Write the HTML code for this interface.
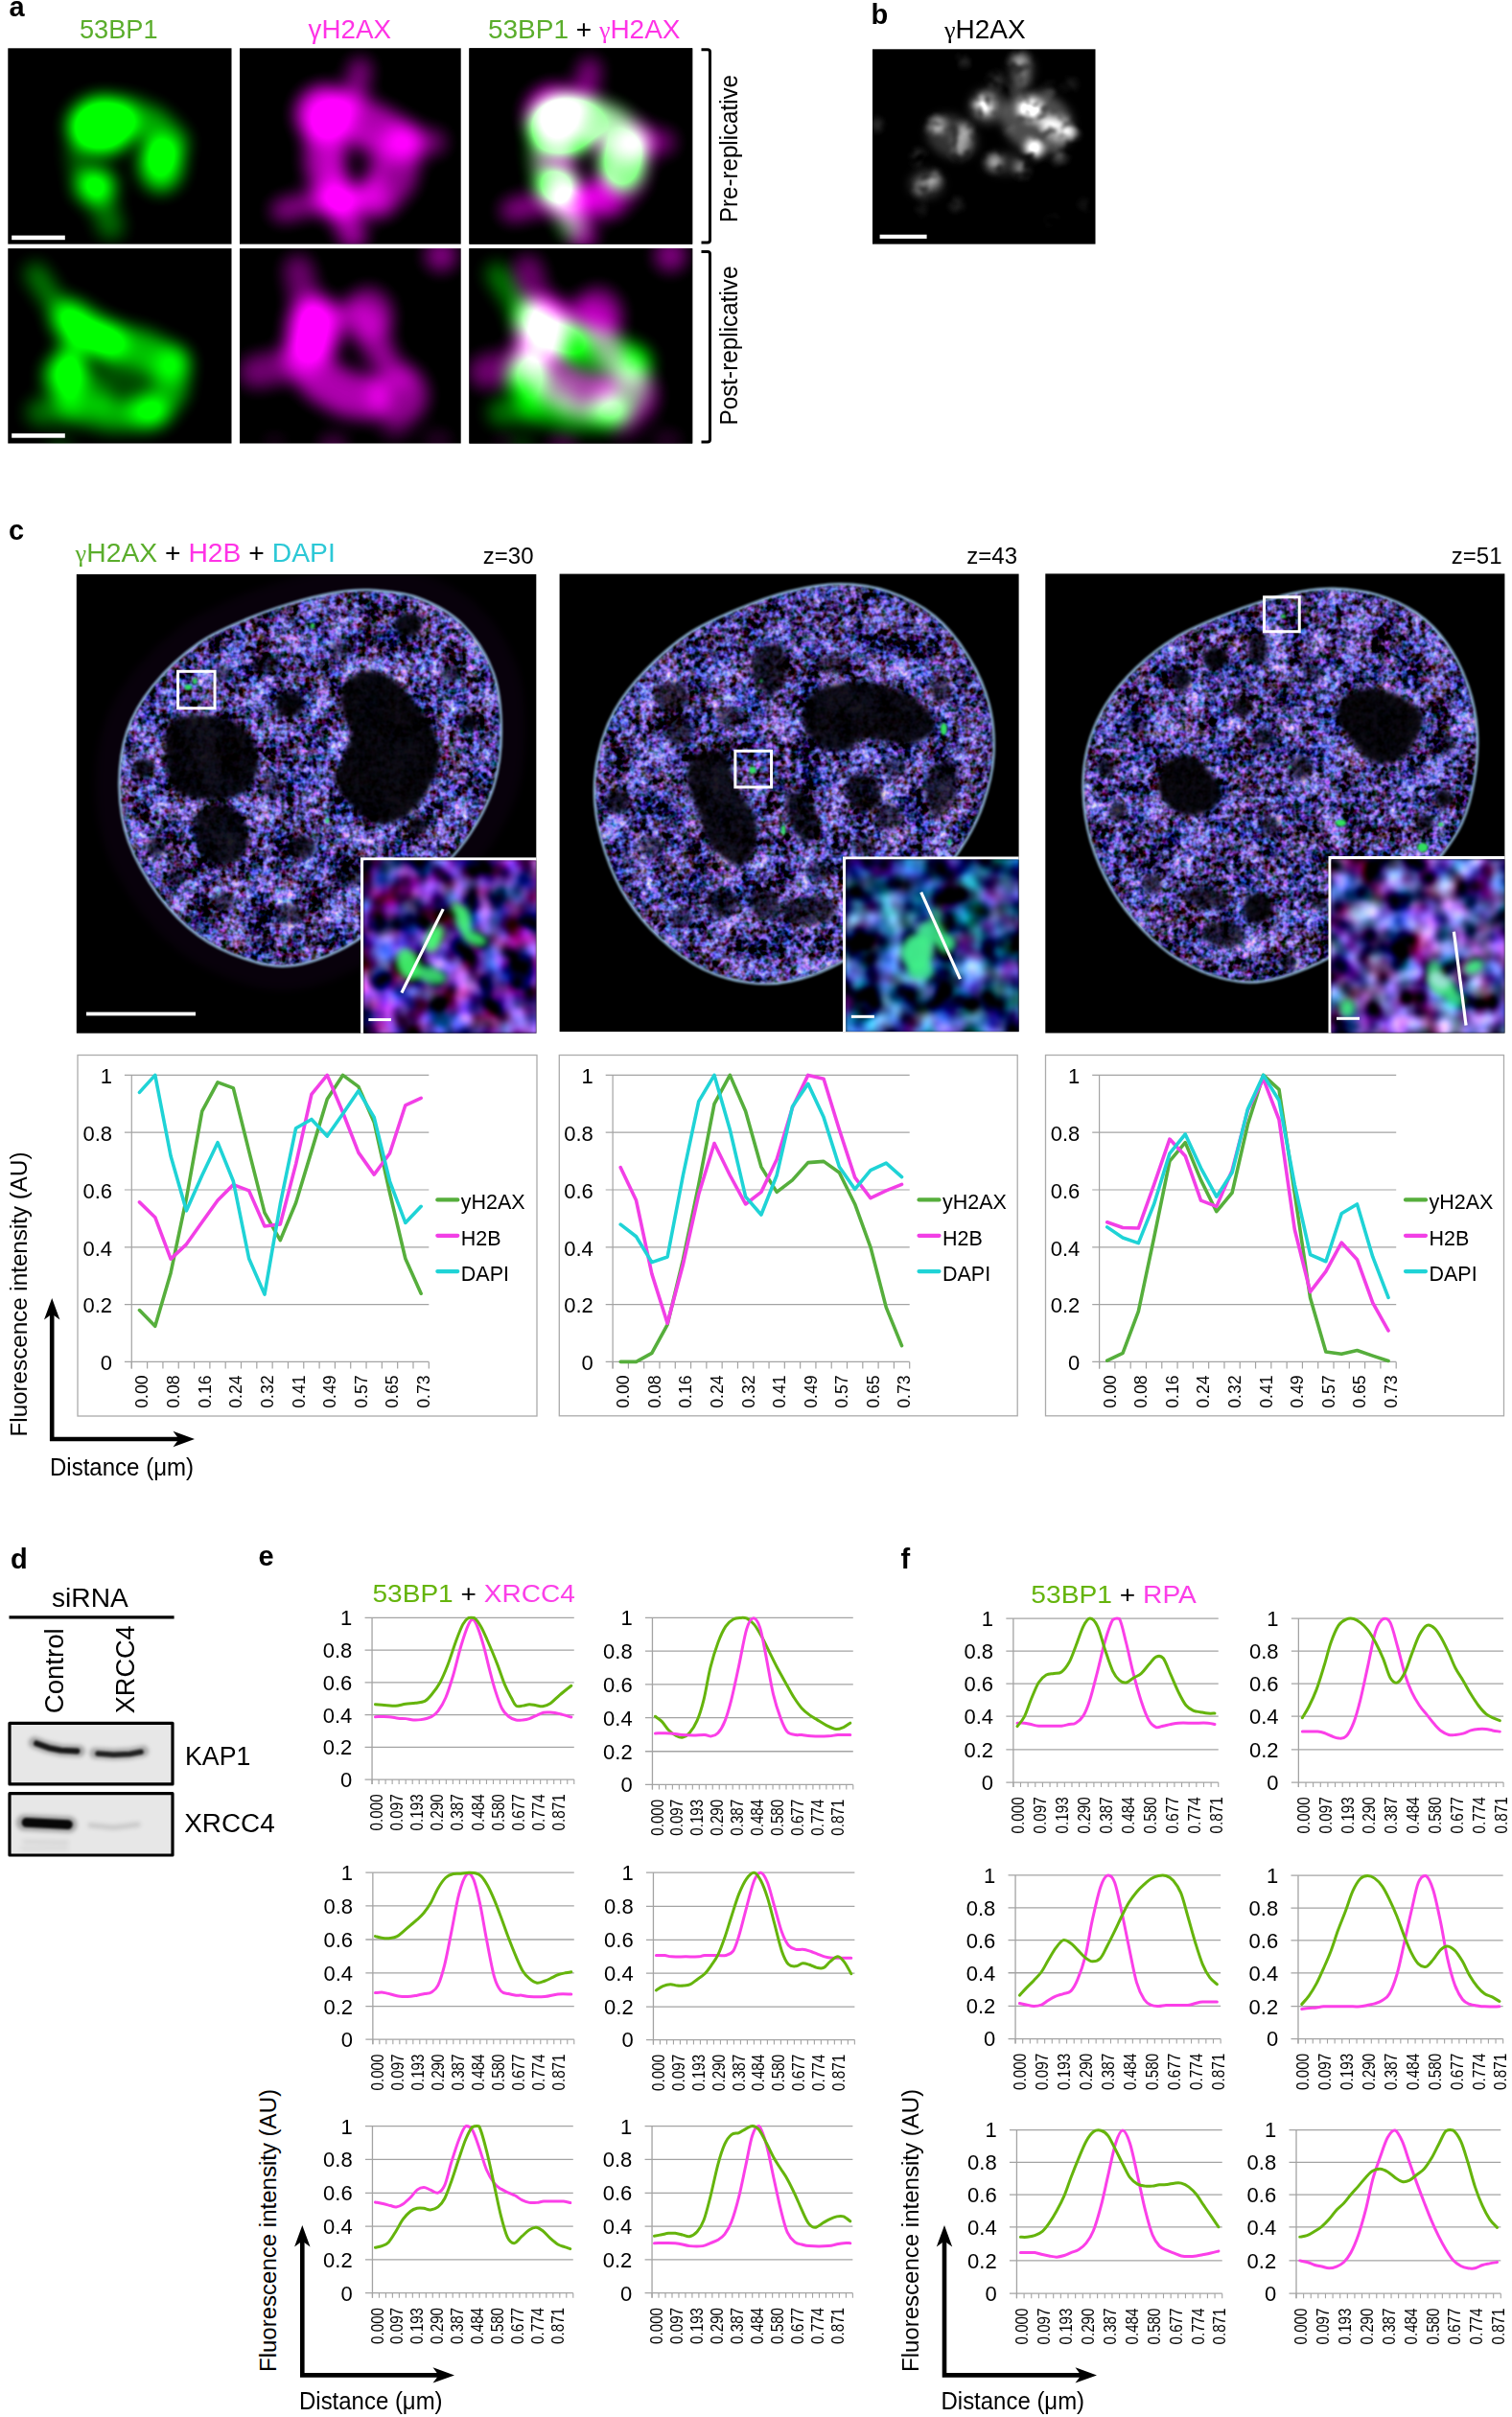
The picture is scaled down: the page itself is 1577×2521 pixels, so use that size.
<!DOCTYPE html>
<html lang="en"><head><meta charset="utf-8"><title>Figure</title>
<style>html,body{margin:0;padding:0;background:#fff}svg{display:block}text{font-family:"Liberation Sans", sans-serif}</style></head><body>
<svg width="1577" height="2521" viewBox="0 0 1577 2521">
<rect width="1577" height="2521" fill="#fff"/>
<defs>
<filter id="blob" x="-45%" y="-45%" width="190%" height="190%" color-interpolation-filters="sRGB"><feGaussianBlur stdDeviation="9"/><feComponentTransfer><feFuncA type="linear" slope="1.5" intercept="-0.01"/></feComponentTransfer></filter>
<filter id="blobg" x="-45%" y="-45%" width="190%" height="190%" color-interpolation-filters="sRGB"><feGaussianBlur stdDeviation="9"/><feComponentTransfer><feFuncA type="linear" slope="2.1" intercept="-0.02"/></feComponentTransfer></filter>
<filter id="blobm" x="-45%" y="-45%" width="190%" height="190%" color-interpolation-filters="sRGB"><feGaussianBlur stdDeviation="9"/><feComponentTransfer><feFuncA type="linear" slope="1.28" intercept="-0.02"/></feComponentTransfer></filter>
<filter id="blobb" x="-30%" y="-30%" width="160%" height="160%" color-interpolation-filters="sRGB"><feGaussianBlur stdDeviation="4.6" result="a"/><feTurbulence type="fractalNoise" baseFrequency="0.075" numOctaves="2" seed="11" result="n"/><feColorMatrix in="n" type="matrix" values="0 0 0 0 1  0 0 0 0 1  0 0 0 0 1  3.4 0 0 0 -0.95" result="n2"/><feComposite in="a" in2="n2" operator="in" result="b"/><feGaussianBlur in="b" stdDeviation="1.4"/><feComponentTransfer><feFuncA type="linear" slope="1.7" intercept="-0.01"/></feComponentTransfer></filter>
<filter id="soft2" x="-20%" y="-20%" width="140%" height="140%"><feGaussianBlur stdDeviation="1.2"/></filter>
<filter id="soft4" x="-30%" y="-30%" width="160%" height="160%"><feGaussianBlur stdDeviation="3.6"/></filter>
<filter id="soft8" x="-30%" y="-30%" width="160%" height="160%"><feGaussianBlur stdDeviation="5"/></filter>
<clipPath id="cp_a1"><rect x="8.3" y="50.3" width="233.2" height="204.3"/></clipPath>
<clipPath id="cp_a2"><rect x="250" y="50.3" width="230.7" height="204.3"/></clipPath>
<clipPath id="cp_a3"><rect x="489.4" y="50.3" width="232.8" height="204.3"/></clipPath>
<clipPath id="cp_a4"><rect x="8.3" y="259.1" width="233.2" height="203.4"/></clipPath>
<clipPath id="cp_a5"><rect x="250" y="259.1" width="230.7" height="203.4"/></clipPath>
<clipPath id="cp_a6"><rect x="489.4" y="259.1" width="232.8" height="203.4"/></clipPath>
<clipPath id="cp_b"><rect x="910" y="51.3" width="232.5" height="203"/></clipPath>
<filter id="blotA" x="11.6" y="1798.9" width="166.8" height="136" filterUnits="userSpaceOnUse"><feGaussianBlur stdDeviation="2.2"/></filter>
<filter id="blotB" x="11.6" y="1798.9" width="166.8" height="136" filterUnits="userSpaceOnUse"><feGaussianBlur stdDeviation="1.2"/></filter>
<clipPath id="cp_c0"><rect x="79.8" y="599" width="479.5" height="478.7"/></clipPath>
<clipPath id="cp_i0"><rect x="376" y="894.4" width="183.3" height="183.3"/></clipPath>
<filter id="nuc0" x="79.8" y="599" width="479.5" height="478.7" filterUnits="userSpaceOnUse" color-interpolation-filters="sRGB"><feTurbulence type="fractalNoise" baseFrequency="0.16" numOctaves="2" seed="3" result="tf"/><feTurbulence type="fractalNoise" baseFrequency="0.035" numOctaves="2" seed="8" result="tc"/><feColorMatrix in="tf" type="matrix" values="1 0 0 0 0 0 1 0 0 0 0 0 1 0 0 0 0 0 0 1" result="tf1"/><feColorMatrix in="tc" type="matrix" values="1 0.7 0 0 -0.35  1 -0.7 0 0 0.35  1 0 0 0 0  0 0 0 0 1" result="tc1"/><feComposite in="tf1" in2="tc1" operator="arithmetic" k1="0" k2="1" k3="0.6" k4="-0.3" result="t"/><feColorMatrix in="t" type="matrix" values="1.1 0.6 0 0 -0.55  1.0 0 0.45 0 -0.465  2.2 0 0 0 -0.54  0 0 0 0 1" result="c"/><feGaussianBlur in="SourceGraphic" stdDeviation="2.5" result="m"/><feComposite in="c" in2="m" operator="arithmetic" k1="1.0" k2="0" k3="0" k4="0" result="p"/><feComposite in="p" in2="SourceAlpha" operator="in"/></filter>
<filter id="ins0" x="379.2" y="897.6" width="180.1" height="180.1" filterUnits="userSpaceOnUse" color-interpolation-filters="sRGB"><feTurbulence type="fractalNoise" baseFrequency="0.036" numOctaves="2" seed="23" result="t"/><feColorMatrix in="t" type="matrix" values="1.5 1.1 0 0 -1.03  1.2 0 0.6 0 -0.8  2.2 0 0 0 -0.6  0 0 0 0 1"/><feGaussianBlur stdDeviation="1.6"/></filter>
<clipPath id="cp_c1"><rect x="583.6" y="598.6" width="479" height="477.5"/></clipPath>
<clipPath id="cp_i1"><rect x="879" y="893.5" width="183.6" height="182.6"/></clipPath>
<filter id="nuc1" x="583.6" y="598.6" width="479" height="477.5" filterUnits="userSpaceOnUse" color-interpolation-filters="sRGB"><feTurbulence type="fractalNoise" baseFrequency="0.16" numOctaves="2" seed="8" result="tf"/><feTurbulence type="fractalNoise" baseFrequency="0.035" numOctaves="2" seed="13" result="tc"/><feColorMatrix in="tf" type="matrix" values="1 0 0 0 0 0 1 0 0 0 0 0 1 0 0 0 0 0 0 1" result="tf1"/><feColorMatrix in="tc" type="matrix" values="1 0.7 0 0 -0.35  1 -0.7 0 0 0.35  1 0 0 0 0  0 0 0 0 1" result="tc1"/><feComposite in="tf1" in2="tc1" operator="arithmetic" k1="0" k2="1" k3="0.6" k4="-0.3" result="t"/><feColorMatrix in="t" type="matrix" values="1.1 0.6 0 0 -0.55  1.0 0 0.45 0 -0.465  2.2 0 0 0 -0.54  0 0 0 0 1" result="c"/><feGaussianBlur in="SourceGraphic" stdDeviation="2.5" result="m"/><feComposite in="c" in2="m" operator="arithmetic" k1="1.0" k2="0" k3="0" k4="0" result="p"/><feComposite in="p" in2="SourceAlpha" operator="in"/></filter>
<filter id="ins1" x="882.2" y="896.7" width="180.4" height="179.4" filterUnits="userSpaceOnUse" color-interpolation-filters="sRGB"><feTurbulence type="fractalNoise" baseFrequency="0.036" numOctaves="2" seed="28" result="t"/><feColorMatrix in="t" type="matrix" values="1.1 0.7 0 0 -0.8  1.6 0 0.8 0 -1.0  2.1 0 0 0 -0.6  0 0 0 0 1"/><feGaussianBlur stdDeviation="1.6"/></filter>
<clipPath id="cp_c2"><rect x="1090.3" y="598.4" width="479.1" height="479.1"/></clipPath>
<clipPath id="cp_i2"><rect x="1385.5" y="893" width="183.9" height="184.5"/></clipPath>
<filter id="nuc2" x="1090.3" y="598.4" width="479.1" height="479.1" filterUnits="userSpaceOnUse" color-interpolation-filters="sRGB"><feTurbulence type="fractalNoise" baseFrequency="0.16" numOctaves="2" seed="14" result="tf"/><feTurbulence type="fractalNoise" baseFrequency="0.035" numOctaves="2" seed="19" result="tc"/><feColorMatrix in="tf" type="matrix" values="1 0 0 0 0 0 1 0 0 0 0 0 1 0 0 0 0 0 0 1" result="tf1"/><feColorMatrix in="tc" type="matrix" values="1 0.7 0 0 -0.35  1 -0.7 0 0 0.35  1 0 0 0 0  0 0 0 0 1" result="tc1"/><feComposite in="tf1" in2="tc1" operator="arithmetic" k1="0" k2="1" k3="0.6" k4="-0.3" result="t"/><feColorMatrix in="t" type="matrix" values="1.1 0.6 0 0 -0.55  1.0 0 0.45 0 -0.465  2.2 0 0 0 -0.54  0 0 0 0 1" result="c"/><feGaussianBlur in="SourceGraphic" stdDeviation="2.5" result="m"/><feComposite in="c" in2="m" operator="arithmetic" k1="1.0" k2="0" k3="0" k4="0" result="p"/><feComposite in="p" in2="SourceAlpha" operator="in"/></filter>
<filter id="ins2" x="1388.7" y="896.2" width="180.7" height="181.3" filterUnits="userSpaceOnUse" color-interpolation-filters="sRGB"><feTurbulence type="fractalNoise" baseFrequency="0.036" numOctaves="2" seed="34" result="t"/><feColorMatrix in="t" type="matrix" values="1.7 0.9 0 0 -0.98  1.7 0 0.7 0 -0.95  2.4 0 0 0 -0.62  0 0 0 0 1"/><feGaussianBlur stdDeviation="1.6"/></filter>
</defs>
<rect x="8.3" y="50.3" width="233.2" height="204.3" fill="#000"/>
<rect x="250" y="50.3" width="230.7" height="204.3" fill="#000"/>
<rect x="489.4" y="50.3" width="232.8" height="204.3" fill="#000"/>
<rect x="8.3" y="259.1" width="233.2" height="203.4" fill="#000"/>
<rect x="250" y="259.1" width="230.7" height="203.4" fill="#000"/>
<rect x="489.4" y="259.1" width="232.8" height="203.4" fill="#000"/>
<g clip-path="url(#cp_a1)"><g filter="url(#blob)" fill="#00ff00" stroke="#00ff00"><ellipse cx="106.65" cy="130.94" rx="35.55" ry="29.76" opacity="0.8" transform="rotate(-8 106.65 130.94)"/><ellipse cx="105.82" cy="130.94" rx="24.8" ry="19.84" opacity="0.9" transform="rotate(-8 105.82 130.94)"/><path d="M132.28 119.37 L158.73 129.29 L178.57 149.13" fill="none" stroke-width="34.72" stroke-linecap="round" stroke-linejoin="round" opacity="0.45"/><ellipse cx="167.82" cy="170.62" rx="22.32" ry="28.94" opacity="0.62"/><ellipse cx="167" cy="165.66" rx="12.4" ry="15.71" opacity="0.8"/><ellipse cx="99.21" cy="193.77" rx="21.49" ry="19.01" opacity="0.6"/><ellipse cx="99.21" cy="193.77" rx="10.75" ry="9.92" opacity="0.8"/><path d="M105.82 210.3 L115.74 236.76" fill="none" stroke-width="26.46" stroke-linecap="round" stroke-linejoin="round" opacity="0.3"/><path d="M77.71 159.05 L82.67 180.54" fill="none" stroke-width="18.19" stroke-linecap="round" stroke-linejoin="round" opacity="0.25"/></g></g>
<g clip-path="url(#cp_a2)"><g filter="url(#blobm)" fill="#ff00ff" stroke="#ff00ff"><ellipse cx="339.25" cy="119.37" rx="30.59" ry="29.76" opacity="0.7"/><ellipse cx="339.25" cy="119.37" rx="16.53" ry="17.36" opacity="0.6"/><path d="M360.74 119.37 L390.5 130.94 L418.61 147.47" fill="none" stroke-width="44.64" stroke-linecap="round" stroke-linejoin="round" opacity="0.55"/><path d="M418.61 147.47 L452.51 148.3" fill="none" stroke-width="26.46" stroke-linecap="round" stroke-linejoin="round" opacity="0.36"/><path d="M368.18 106.14 L375.62 72.24" fill="none" stroke-width="24.8" stroke-linecap="round" stroke-linejoin="round" opacity="0.4"/><path d="M418.61 152.43 L412 185.5 L393.81 205.34" fill="none" stroke-width="44.64" stroke-linecap="round" stroke-linejoin="round" opacity="0.46"/><path d="M338.42 139.21 L337.59 172.28 L349.17 203.69" fill="none" stroke-width="39.68" stroke-linecap="round" stroke-linejoin="round" opacity="0.55"/><ellipse cx="350.82" cy="208.65" rx="21.49" ry="19.84" opacity="0.5"/><path d="M342.55 207 L294.6 219.4" fill="none" stroke-width="24.8" stroke-linecap="round" stroke-linejoin="round" opacity="0.42"/><path d="M357.43 218.57 L368.18 246.68" fill="none" stroke-width="28.11" stroke-linecap="round" stroke-linejoin="round" opacity="0.52"/><path d="M360.74 211.96 L392.16 207" fill="none" stroke-width="31.42" stroke-linecap="round" stroke-linejoin="round" opacity="0.4"/><ellipse cx="370.66" cy="174.76" rx="22.32" ry="28.94" fill="none" stroke-width="18.19" opacity="0.3"/></g></g>
<g style="isolation:isolate">
<rect x="489.4" y="50.3" width="232.8" height="204.3" fill="#000"/>
<g clip-path="url(#cp_a3)" style="mix-blend-mode:screen"><g filter="url(#blobg)" fill="#00ff00" stroke="#00ff00"><ellipse cx="587.75" cy="130.94" rx="35.55" ry="29.76" opacity="0.8" transform="rotate(-8 587.75 130.94)"/><ellipse cx="586.92" cy="130.94" rx="24.8" ry="19.84" opacity="0.9" transform="rotate(-8 586.92 130.94)"/><path d="M613.38 119.37 L639.83 129.29 L659.67 149.13" fill="none" stroke-width="34.72" stroke-linecap="round" stroke-linejoin="round" opacity="0.45"/><ellipse cx="648.92" cy="170.62" rx="22.32" ry="28.94" opacity="0.62"/><ellipse cx="648.1" cy="165.66" rx="12.4" ry="15.71" opacity="0.8"/><ellipse cx="580.31" cy="193.77" rx="21.49" ry="19.01" opacity="0.6"/><ellipse cx="580.31" cy="193.77" rx="10.75" ry="9.92" opacity="0.8"/><path d="M586.92 210.3 L596.84 236.76" fill="none" stroke-width="26.46" stroke-linecap="round" stroke-linejoin="round" opacity="0.3"/><path d="M558.81 159.05 L563.77 180.54" fill="none" stroke-width="18.19" stroke-linecap="round" stroke-linejoin="round" opacity="0.25"/></g></g>
<g clip-path="url(#cp_a3)" style="mix-blend-mode:screen"><g filter="url(#blobm)" fill="#ff00ff" stroke="#ff00ff"><ellipse cx="578.65" cy="119.37" rx="30.59" ry="29.76" opacity="0.7"/><ellipse cx="578.65" cy="119.37" rx="16.53" ry="17.36" opacity="0.6"/><path d="M600.14 119.37 L629.9 130.94 L658.01 147.47" fill="none" stroke-width="44.64" stroke-linecap="round" stroke-linejoin="round" opacity="0.55"/><path d="M658.01 147.47 L691.91 148.3" fill="none" stroke-width="26.46" stroke-linecap="round" stroke-linejoin="round" opacity="0.36"/><path d="M607.58 106.14 L615.02 72.24" fill="none" stroke-width="24.8" stroke-linecap="round" stroke-linejoin="round" opacity="0.4"/><path d="M658.01 152.43 L651.4 185.5 L633.21 205.34" fill="none" stroke-width="44.64" stroke-linecap="round" stroke-linejoin="round" opacity="0.46"/><path d="M577.82 139.21 L576.99 172.28 L588.57 203.69" fill="none" stroke-width="39.68" stroke-linecap="round" stroke-linejoin="round" opacity="0.55"/><ellipse cx="590.22" cy="208.65" rx="21.49" ry="19.84" opacity="0.5"/><path d="M581.95 207 L534 219.4" fill="none" stroke-width="24.8" stroke-linecap="round" stroke-linejoin="round" opacity="0.42"/><path d="M596.83 218.57 L607.58 246.68" fill="none" stroke-width="28.11" stroke-linecap="round" stroke-linejoin="round" opacity="0.52"/><path d="M600.14 211.96 L631.56 207" fill="none" stroke-width="31.42" stroke-linecap="round" stroke-linejoin="round" opacity="0.4"/><ellipse cx="610.06" cy="174.76" rx="22.32" ry="28.94" fill="none" stroke-width="18.19" opacity="0.3"/></g></g>
</g>
<g clip-path="url(#cp_a4)"><g filter="url(#blob)" fill="#00ff00" stroke="#00ff00"><path d="M37.2 285.55 L54.56 312.83 L72.75 332.67" fill="none" stroke-width="23.15" stroke-linecap="round" stroke-linejoin="round" opacity="0.32"/><path d="M72.75 332.67 L92.59 345.9 L112.43 356.65" fill="none" stroke-width="39.68" stroke-linecap="round" stroke-linejoin="round" opacity="0.65"/><path d="M77.71 335.98 L105.82 352.51" fill="none" stroke-width="18.19" stroke-linecap="round" stroke-linejoin="round" opacity="0.7"/><path d="M112.43 355.82 L148.81 364.09 L178.57 378.97" fill="none" stroke-width="38.03" stroke-linecap="round" stroke-linejoin="round" opacity="0.5"/><path d="M180.22 378.97 L178.57 407.08 L163.69 426.92" fill="none" stroke-width="33.07" stroke-linecap="round" stroke-linejoin="round" opacity="0.46"/><ellipse cx="153.77" cy="428.57" rx="21.49" ry="16.53" opacity="0.45"/><path d="M153.77 431.05 L115.74 432.71 L74.4 422.78" fill="none" stroke-width="33.07" stroke-linecap="round" stroke-linejoin="round" opacity="0.46"/><path d="M74.4 422.78 L41.34 430.22" fill="none" stroke-width="28.11" stroke-linecap="round" stroke-linejoin="round" opacity="0.3"/><ellipse cx="69.44" cy="392.2" rx="23.15" ry="23.97" opacity="0.6"/><ellipse cx="69.44" cy="392.2" rx="11.57" ry="12.4" opacity="0.7"/><path d="M77.71 357.47 L72.75 378.97" fill="none" stroke-width="28.11" stroke-linecap="round" stroke-linejoin="round" opacity="0.48"/><path d="M94.25 398.81 L107.47 417" fill="none" stroke-width="24.8" stroke-linecap="round" stroke-linejoin="round" opacity="0.32"/><ellipse cx="137.24" cy="392.2" rx="31.42" ry="18.19" opacity="0.2"/><ellipse cx="62.83" cy="463.29" rx="11.57" ry="5.79" opacity="0.25"/></g></g>
<g clip-path="url(#cp_a5)"><g filter="url(#blobm)" fill="#ff00ff" stroke="#ff00ff"><ellipse cx="327.67" cy="343.42" rx="28.11" ry="34.72" opacity="0.75" transform="rotate(10 327.67 343.42)"/><ellipse cx="326.02" cy="342.59" rx="13.23" ry="21.49" opacity="0.8" transform="rotate(10 326.02 342.59)"/><path d="M319.4 319.44 L311.14 281.42" fill="none" stroke-width="31.42" stroke-linecap="round" stroke-linejoin="round" opacity="0.34"/><ellipse cx="383.89" cy="329.37" rx="25.63" ry="28.94" opacity="0.42"/><path d="M385.54 335.98 L393.81 365.74" fill="none" stroke-width="33.07" stroke-linecap="round" stroke-linejoin="round" opacity="0.36"/><path d="M350.82 327.71 L370.66 322.75" fill="none" stroke-width="21.49" stroke-linecap="round" stroke-linejoin="round" opacity="0.28"/><path d="M317.75 377.31 L266.49 388.06" fill="none" stroke-width="34.72" stroke-linecap="round" stroke-linejoin="round" opacity="0.36"/><path d="M317.75 370.7 L335.94 397.16 L360.74 411.21 L383.89 414.52" fill="none" stroke-width="46.3" stroke-linecap="round" stroke-linejoin="round" opacity="0.55"/><ellipse cx="415.3" cy="412.04" rx="30.59" ry="31.42" opacity="0.46"/><path d="M402.08 372.35 L420.26 395.5" fill="none" stroke-width="24.8" stroke-linecap="round" stroke-linejoin="round" opacity="0.3"/><ellipse cx="459.95" cy="266.53" rx="16.53" ry="16.53" opacity="0.42"/><ellipse cx="347.51" cy="463.29" rx="14.88" ry="8.27" opacity="0.3"/><ellipse cx="456.64" cy="459.16" rx="14.88" ry="9.92" opacity="0.16"/><ellipse cx="286.34" cy="460.81" rx="13.23" ry="7.44" opacity="0.12"/><ellipse cx="412" cy="450.07" rx="16.53" ry="9.09" opacity="0.18"/></g></g>
<g style="isolation:isolate">
<rect x="489.4" y="259.1" width="232.8" height="203.4" fill="#000"/>
<g clip-path="url(#cp_a6)" style="mix-blend-mode:screen"><g filter="url(#blob)" fill="#00ff00" stroke="#00ff00"><path d="M518.3 285.55 L535.66 312.83 L553.85 332.67" fill="none" stroke-width="23.15" stroke-linecap="round" stroke-linejoin="round" opacity="0.32"/><path d="M553.85 332.67 L573.69 345.9 L593.53 356.65" fill="none" stroke-width="39.68" stroke-linecap="round" stroke-linejoin="round" opacity="0.65"/><path d="M558.81 335.98 L586.92 352.51" fill="none" stroke-width="18.19" stroke-linecap="round" stroke-linejoin="round" opacity="0.7"/><path d="M593.53 355.82 L629.91 364.09 L659.67 378.97" fill="none" stroke-width="38.03" stroke-linecap="round" stroke-linejoin="round" opacity="0.5"/><path d="M661.32 378.97 L659.67 407.08 L644.79 426.92" fill="none" stroke-width="33.07" stroke-linecap="round" stroke-linejoin="round" opacity="0.46"/><ellipse cx="634.87" cy="428.57" rx="21.49" ry="16.53" opacity="0.45"/><path d="M634.87 431.05 L596.84 432.71 L555.5 422.78" fill="none" stroke-width="33.07" stroke-linecap="round" stroke-linejoin="round" opacity="0.46"/><path d="M555.5 422.78 L522.44 430.22" fill="none" stroke-width="28.11" stroke-linecap="round" stroke-linejoin="round" opacity="0.3"/><ellipse cx="550.54" cy="392.2" rx="23.15" ry="23.97" opacity="0.6"/><ellipse cx="550.54" cy="392.2" rx="11.57" ry="12.4" opacity="0.7"/><path d="M558.81 357.47 L553.85 378.97" fill="none" stroke-width="28.11" stroke-linecap="round" stroke-linejoin="round" opacity="0.48"/><path d="M575.35 398.81 L588.57 417" fill="none" stroke-width="24.8" stroke-linecap="round" stroke-linejoin="round" opacity="0.32"/><ellipse cx="618.34" cy="392.2" rx="31.42" ry="18.19" opacity="0.2"/><ellipse cx="543.93" cy="463.29" rx="11.57" ry="5.79" opacity="0.25"/></g></g>
<g clip-path="url(#cp_a6)" style="mix-blend-mode:screen"><g filter="url(#blobm)" fill="#ff00ff" stroke="#ff00ff"><ellipse cx="567.07" cy="343.42" rx="28.11" ry="34.72" opacity="0.75" transform="rotate(10 567.07 343.42)"/><ellipse cx="565.42" cy="342.59" rx="13.23" ry="21.49" opacity="0.8" transform="rotate(10 565.42 342.59)"/><path d="M558.8 319.44 L550.54 281.42" fill="none" stroke-width="31.42" stroke-linecap="round" stroke-linejoin="round" opacity="0.34"/><ellipse cx="623.29" cy="329.37" rx="25.63" ry="28.94" opacity="0.42"/><path d="M624.94 335.98 L633.21 365.74" fill="none" stroke-width="33.07" stroke-linecap="round" stroke-linejoin="round" opacity="0.36"/><path d="M590.22 327.71 L610.06 322.75" fill="none" stroke-width="21.49" stroke-linecap="round" stroke-linejoin="round" opacity="0.28"/><path d="M557.15 377.31 L505.89 388.06" fill="none" stroke-width="34.72" stroke-linecap="round" stroke-linejoin="round" opacity="0.36"/><path d="M557.15 370.7 L575.34 397.16 L600.14 411.21 L623.29 414.52" fill="none" stroke-width="46.3" stroke-linecap="round" stroke-linejoin="round" opacity="0.55"/><ellipse cx="654.7" cy="412.04" rx="30.59" ry="31.42" opacity="0.46"/><path d="M641.48 372.35 L659.66 395.5" fill="none" stroke-width="24.8" stroke-linecap="round" stroke-linejoin="round" opacity="0.3"/><ellipse cx="699.35" cy="266.53" rx="16.53" ry="16.53" opacity="0.42"/><ellipse cx="586.91" cy="463.29" rx="14.88" ry="8.27" opacity="0.3"/><ellipse cx="696.04" cy="459.16" rx="14.88" ry="9.92" opacity="0.16"/><ellipse cx="525.74" cy="460.81" rx="13.23" ry="7.44" opacity="0.12"/><ellipse cx="651.4" cy="450.07" rx="16.53" ry="9.09" opacity="0.18"/></g></g>
</g>
<rect x="12.2" y="245.6" width="55.6" height="4.6" fill="#fff"/>
<rect x="12.2" y="452.1" width="55.6" height="4.6" fill="#fff"/>
<rect x="910" y="51.3" width="232.5" height="203.3" fill="#000"/>
<g clip-path="url(#cp_b)">
<g filter="url(#soft8)" fill="#fff">
<ellipse cx="1081.88" cy="127.63" rx="38.03" ry="31.42" opacity="0.3" transform="rotate(20 1081.88 127.63)"/>
<ellipse cx="1030.62" cy="111.1" rx="19.84" ry="18.19" opacity="0.25"/>
<ellipse cx="992.59" cy="142.51" rx="28.11" ry="21.49" opacity="0.2" transform="rotate(30 992.59 142.51)"/>
<ellipse cx="966.14" cy="192.12" rx="18.19" ry="14.88" opacity="0.18"/>
<ellipse cx="1065.34" cy="73.07" rx="13.23" ry="18.19" opacity="0.2"/>
<ellipse cx="1048.81" cy="170.62" rx="23.15" ry="11.57" opacity="0.15"/>
</g>
<g filter="url(#blobb)" fill="#fff">
<ellipse cx="1075.26" cy="114.4" rx="14.05" ry="11.57" opacity="0.8" transform="rotate(15 1075.26 114.4)"/>
<ellipse cx="1075.26" cy="114.4" rx="7.44" ry="5.95" opacity="1.0" transform="rotate(15 1075.26 114.4)"/>
<ellipse cx="1027.31" cy="109.44" rx="10.25" ry="9.59" opacity="0.75" transform="rotate(30 1027.31 109.44)"/>
<ellipse cx="1028.97" cy="111.1" rx="4.96" ry="4.63" opacity="0.5"/>
<ellipse cx="1103.37" cy="134.25" rx="19.84" ry="11.57" opacity="0.55" transform="rotate(20 1103.37 134.25)"/>
<ellipse cx="1095.11" cy="129.29" rx="8.27" ry="6.61" opacity="0.3"/>
<ellipse cx="1114.95" cy="137.55" rx="7.44" ry="6.61" opacity="0.25"/>
<ellipse cx="1078.57" cy="154.09" rx="9.09" ry="9.09" opacity="0.8"/>
<ellipse cx="1078.57" cy="154.09" rx="4.63" ry="4.63" opacity="0.5"/>
<ellipse cx="977.71" cy="130.94" rx="8.6" ry="8.27" opacity="0.5"/>
<ellipse cx="1002.51" cy="147.47" rx="9.09" ry="18.19" opacity="0.34" transform="rotate(10 1002.51 147.47)"/>
<ellipse cx="1007.47" cy="135.9" rx="6.61" ry="6.61" opacity="0.2"/>
<ellipse cx="1037.24" cy="168.97" rx="7.44" ry="8.27" opacity="0.45"/>
<ellipse cx="1065.34" cy="175.58" rx="5.79" ry="8.27" opacity="0.42" transform="rotate(-30 1065.34 175.58)"/>
<ellipse cx="1063.69" cy="66.46" rx="9.09" ry="10.75" opacity="0.36"/>
<ellipse cx="1067" cy="84.64" rx="6.61" ry="8.27" opacity="0.2"/>
<ellipse cx="972.75" cy="187.16" rx="7.44" ry="7.44" opacity="0.45"/>
<ellipse cx="961.18" cy="195.42" rx="7.44" ry="7.44" opacity="0.32"/>
<ellipse cx="957.87" cy="164.01" rx="5.79" ry="7.44" opacity="0.2"/>
<ellipse cx="1005.82" cy="63.15" rx="6.61" ry="5.79" opacity="0.15"/>
<ellipse cx="914.88" cy="130.11" rx="5.79" ry="5.79" opacity="0.18"/>
<ellipse cx="997.55" cy="213.61" rx="5.79" ry="5.79" opacity="0.17"/>
<ellipse cx="961.18" cy="218.57" rx="4.13" ry="5.79" opacity="0.12"/>
<ellipse cx="1105.03" cy="162.35" rx="6.61" ry="8.27" opacity="0.25"/>
<ellipse cx="1116.6" cy="87.95" rx="6.61" ry="6.61" opacity="0.1"/>
<ellipse cx="1131.48" cy="213.61" rx="6.61" ry="6.61" opacity="0.07"/>
<ellipse cx="1098.41" cy="230.15" rx="8.27" ry="6.61" opacity="0.05"/>
<ellipse cx="1038.89" cy="84.64" rx="8.27" ry="8.27" opacity="0.15"/>
<ellipse cx="1052.12" cy="132.59" rx="6.61" ry="6.61" opacity="0.1"/>
<ellipse cx="1095.11" cy="94.56" rx="6.61" ry="6.61" opacity="0.2"/>
<ellipse cx="1057.08" cy="94.56" rx="6.61" ry="6.61" opacity="0.15"/>
</g></g>
<rect x="917.6" y="244.7" width="49" height="4.2" fill="#fff"/>
<rect x="79.8" y="599" width="479.5" height="478.7" fill="#000"/>
<g clip-path="url(#cp_c0)">
<path d="M384.76 615.46C399.58 616.25 419.15 617.31 435.56 623.4C451.96 629.48 469.95 638.74 483.17 651.97C496.4 665.2 508.31 684.24 514.92 702.76C521.53 721.28 522.86 743.5 522.86 763.08C522.86 782.66 520.48 802.23 514.92 820.22C509.37 838.21 499.58 855.67 489.52 871.02C479.47 886.36 467.3 899.06 454.6 912.29C441.9 925.51 429.21 937.68 413.33 950.38C397.46 963.08 377.88 978.95 359.37 988.48C340.85 998 319.68 1005.67 302.22 1007.52C284.76 1009.38 270.48 1004.88 254.6 999.59C238.73 994.3 221.8 986.62 206.98 975.78C192.17 964.93 177.88 950.91 165.71 934.51C153.54 918.11 140.85 896.41 133.97 877.37C127.09 858.32 124.71 839.27 124.44 820.22C124.18 801.17 126.56 780.54 132.38 763.08C138.2 745.62 146.93 730.8 159.37 715.46C171.8 700.12 190.58 682.66 206.98 671.02C223.39 659.38 241.9 652.5 257.78 645.62C273.65 638.74 287.41 634.24 302.22 629.75C317.04 625.25 332.91 621.02 346.67 618.63C360.42 616.25 369.95 614.67 384.76 615.46Z" fill="none" stroke="#3a1050" stroke-width="50" opacity="0.14" filter="url(#soft8)"/>
<g filter="url(#nuc0)">
<path d="M384.76 615.46C399.58 616.25 419.15 617.31 435.56 623.4C451.96 629.48 469.95 638.74 483.17 651.97C496.4 665.2 508.31 684.24 514.92 702.76C521.53 721.28 522.86 743.5 522.86 763.08C522.86 782.66 520.48 802.23 514.92 820.22C509.37 838.21 499.58 855.67 489.52 871.02C479.47 886.36 467.3 899.06 454.6 912.29C441.9 925.51 429.21 937.68 413.33 950.38C397.46 963.08 377.88 978.95 359.37 988.48C340.85 998 319.68 1005.67 302.22 1007.52C284.76 1009.38 270.48 1004.88 254.6 999.59C238.73 994.3 221.8 986.62 206.98 975.78C192.17 964.93 177.88 950.91 165.71 934.51C153.54 918.11 140.85 896.41 133.97 877.37C127.09 858.32 124.71 839.27 124.44 820.22C124.18 801.17 126.56 780.54 132.38 763.08C138.2 745.62 146.93 730.8 159.37 715.46C171.8 700.12 190.58 682.66 206.98 671.02C223.39 659.38 241.9 652.5 257.78 645.62C273.65 638.74 287.41 634.24 302.22 629.75C317.04 625.25 332.91 621.02 346.67 618.63C360.42 616.25 369.95 614.67 384.76 615.46Z" fill="#f4f4f4"/>
<path d="M175.24 756.73C180.79 747.47 195.34 746.15 206.98 745.62C218.62 745.09 235.29 748.53 245.08 753.56C254.87 758.58 261.75 767.31 265.71 775.78C269.68 784.24 271.27 795.62 268.89 804.35C266.51 813.08 260.16 823.13 251.43 828.16C242.7 833.19 227.35 834.77 216.51 834.51C205.66 834.24 193.49 832.13 186.35 826.57C179.21 821.02 175.5 812.81 173.65 801.17C171.8 789.53 169.68 765.99 175.24 756.73Z" fill="#000" opacity="0.89"/>
<path d="M205.4 848.79C209.89 841.28 224.44 838.11 232.38 838.63C240.32 839.16 248.52 845.51 253.02 851.97C257.51 858.42 260.69 869.69 259.37 877.37C258.04 885.04 251.16 894.03 245.08 898C238.99 901.97 229.47 903.56 222.86 901.17C216.24 898.79 208.31 892.44 205.4 883.71C202.49 874.98 200.9 856.31 205.4 848.79Z" fill="#000" opacity="0.87"/>
<path d="M359.37 712.29C364.23 705.83 375.77 699.22 384.76 698.95C393.76 698.69 404.6 704.24 413.33 710.7C422.06 717.15 430.53 728.95 437.14 737.68C443.76 746.41 449.47 753.56 453.02 763.08C456.56 772.6 459.74 784.24 458.41 794.83C457.09 805.41 451.01 817.05 445.08 826.57C439.15 836.1 431.85 846.57 422.86 851.97C413.86 857.37 400.63 861.07 391.11 858.95C381.59 856.84 372.59 846.78 365.71 839.27C358.84 831.76 351.01 822.34 349.84 813.87C348.68 805.41 356.08 796.94 358.73 788.48C361.38 780.01 366.24 771.54 365.71 763.08C365.19 754.61 356.61 746.15 355.56 737.68C354.5 729.22 354.5 718.74 359.37 712.29Z" fill="#000" opacity="0.92"/>
<ellipse cx="302.22" cy="734.51" rx="14.67" ry="13.27" fill="#000" opacity="0.90"/>
<ellipse cx="426.03" cy="651.97" rx="14.67" ry="12.57" fill="#000" opacity="0.90"/>
<ellipse cx="489.52" cy="753.56" rx="9.08" ry="9.08" fill="#000" opacity="0.90"/>
<ellipse cx="149.84" cy="801.17" rx="10.48" ry="10.48" fill="#000" opacity="0.83"/>
<ellipse cx="314.92" cy="883.71" rx="14.67" ry="12.57" fill="#000" opacity="0.75"/>
<ellipse cx="435.56" cy="861.49" rx="10.48" ry="10.48" fill="#000" opacity="0.75"/>
<ellipse cx="162.54" cy="883.71" rx="10.48" ry="10.48" fill="#000" opacity="0.68"/>
<ellipse cx="276.83" cy="693.24" rx="13.97" ry="9.78" fill="#000" opacity="0.60"/>
<ellipse cx="356.19" cy="677.37" rx="12.57" ry="8.38" fill="#000" opacity="0.52"/>
<ellipse cx="232.38" cy="702.76" rx="10.48" ry="8.38" fill="#000" opacity="0.52"/>
<ellipse cx="302.22" cy="953.56" rx="17.46" ry="10.48" fill="#000" opacity="0.60"/>
<ellipse cx="232.38" cy="940.86" rx="12.57" ry="9.78" fill="#000" opacity="0.60"/>
<ellipse cx="365.71" cy="915.46" rx="13.97" ry="10.48" fill="#000" opacity="0.52"/>
<ellipse cx="470.48" cy="702.76" rx="10.48" ry="9.08" fill="#000" opacity="0.60"/>
<ellipse cx="184.76" cy="915.46" rx="10.48" ry="8.38" fill="#000" opacity="0.52"/>
<ellipse cx="283.17" cy="820.22" rx="9.08" ry="13.97" fill="#000" opacity="0.45"/>
</g>
<path d="M384.76 615.46C399.58 616.25 419.15 617.31 435.56 623.4C451.96 629.48 469.95 638.74 483.17 651.97C496.4 665.2 508.31 684.24 514.92 702.76C521.53 721.28 522.86 743.5 522.86 763.08C522.86 782.66 520.48 802.23 514.92 820.22C509.37 838.21 499.58 855.67 489.52 871.02C479.47 886.36 467.3 899.06 454.6 912.29C441.9 925.51 429.21 937.68 413.33 950.38C397.46 963.08 377.88 978.95 359.37 988.48C340.85 998 319.68 1005.67 302.22 1007.52C284.76 1009.38 270.48 1004.88 254.6 999.59C238.73 994.3 221.8 986.62 206.98 975.78C192.17 964.93 177.88 950.91 165.71 934.51C153.54 918.11 140.85 896.41 133.97 877.37C127.09 858.32 124.71 839.27 124.44 820.22C124.18 801.17 126.56 780.54 132.38 763.08C138.2 745.62 146.93 730.8 159.37 715.46C171.8 700.12 190.58 682.66 206.98 671.02C223.39 659.38 241.9 652.5 257.78 645.62C273.65 638.74 287.41 634.24 302.22 629.75C317.04 625.25 332.91 621.02 346.67 618.63C360.42 616.25 369.95 614.67 384.76 615.46Z" fill="none" stroke="#a6d2f6" stroke-width="2.2" opacity="0.95" filter="url(#soft2)"/>
<g fill="#30e060" filter="url(#soft2)">
<ellipse cx="196.39" cy="716.8" rx="3.84" ry="2.69" opacity="1"/>
<ellipse cx="203.3" cy="710.28" rx="2.3" ry="3.45" opacity="0.9"/>
<ellipse cx="326.05" cy="652.75" rx="2.3" ry="3.07" opacity="0.9"/>
<ellipse cx="364.4" cy="626.66" rx="1.92" ry="1.53" opacity="0.8"/>
<ellipse cx="341.39" cy="856.05" rx="1.92" ry="3.07" opacity="0.9"/>
<ellipse cx="164.94" cy="857.96" rx="1.92" ry="1.92" opacity="0.8"/>
<ellipse cx="281.93" cy="744.81" rx="1.53" ry="3.07" opacity="0.5"/>
<ellipse cx="481.4" cy="762.07" rx="1.15" ry="1.92" opacity="0.6"/>
</g>
<rect x="185.62" y="700.28" width="38.43" height="38.43" fill="none" stroke="#fff" stroke-width="3"/>
<rect x="376" y="894.4" width="183.3" height="183.3" fill="#fff"/>
<rect x="379.2" y="897.6" width="180.1" height="180.1" fill="#000"/>
<g clip-path="url(#cp_i0)"><rect x="379.2" y="897.6" width="180.1" height="180.1" fill="#000" filter="url(#ins0)"/>
<g fill="#40ff70" filter="url(#soft4)"><ellipse cx="452.63" cy="978.79" rx="8.44" ry="15.34" opacity="0.95" transform="rotate(25 452.63 978.79)"/><ellipse cx="483.31" cy="959.61" rx="8.44" ry="15.34" opacity="0.9" transform="rotate(-10 483.31 959.61)"/><ellipse cx="494.82" cy="978.79" rx="13.43" ry="6.9" opacity="0.85" transform="rotate(20 494.82 978.79)"/><ellipse cx="425.78" cy="1005.64" rx="11.51" ry="17.26" opacity="0.9" transform="rotate(-20 425.78 1005.64)"/><ellipse cx="448.79" cy="1017.15" rx="17.26" ry="8.44" opacity="0.8" transform="rotate(15 448.79 1017.15)"/><ellipse cx="475.64" cy="946.19" rx="5.37" ry="6.14" opacity="0.8" transform="rotate(0 475.64 946.19)"/></g><path d="M462.22 948.11 L418.87 1035.56" stroke="#fff" stroke-width="3.2" stroke-linecap="butt"/><rect x="384.35" y="1062.06" width="23.5" height="3" fill="#fff"/>
</g>
</g>
<rect x="583.6" y="598.6" width="479" height="477.5" fill="#000"/>
<g clip-path="url(#cp_c1)">
<g filter="url(#nuc1)">
<path d="M876.06 609.11C893.52 609.11 910.46 611.49 926.86 617.05C943.26 622.6 960.72 631.33 974.48 642.44C988.23 653.56 999.87 668.37 1009.4 683.71C1018.92 699.06 1027.12 717.05 1031.62 734.51C1036.12 751.97 1037.44 771.02 1036.38 788.48C1035.32 805.94 1030.83 823.4 1025.27 839.27C1019.71 855.14 1012.57 868.9 1003.05 883.71C993.52 898.53 981.35 913.87 968.13 928.16C954.9 942.44 939.03 956.73 923.68 969.43C908.34 982.13 892.47 995.35 876.06 1004.35C859.66 1013.34 841.14 1019.96 825.27 1023.4C809.4 1026.84 796.17 1027.1 780.83 1024.98C765.48 1022.87 748.55 1018.37 733.21 1010.7C717.86 1003.03 701.99 991.12 688.76 978.95C675.53 966.78 663.37 952.5 653.84 937.68C644.32 922.87 637.17 906.47 631.62 890.06C626.06 873.66 621.83 856.2 620.51 839.27C619.19 822.34 620.24 804.88 623.68 788.48C627.12 772.07 632.94 755.67 641.14 740.86C649.34 726.04 660.19 712.81 672.89 699.59C685.59 686.36 701.46 672.07 717.33 661.49C733.21 650.91 750.67 643.5 768.13 636.1C785.59 628.69 804.11 621.54 822.1 617.05C840.08 612.55 858.6 609.11 876.06 609.11Z" fill="#f4f4f4"/>
<path d="M844.32 724.98C852.25 717.47 870.77 712.81 885.59 711.65C900.4 710.49 919.98 713.66 933.21 718C946.43 722.34 957.97 730.7 964.95 737.68C971.94 744.67 977.76 753.45 975.11 759.9C972.47 766.36 961.35 774.72 949.08 776.41C936.8 778.11 912.04 769.01 901.46 770.06C890.88 771.12 892.99 781.17 885.59 782.76C878.18 784.35 864.95 783.93 857.02 779.59C849.08 775.25 840.08 765.83 837.97 756.73C835.85 747.63 836.38 732.5 844.32 724.98Z" fill="#000" opacity="0.89"/>
<path d="M723.68 788.48C730.14 783.61 747.92 779.38 755.43 784.67C762.94 789.96 763.37 809.01 768.76 820.22C774.16 831.44 784.63 841.39 787.81 851.97C790.98 862.55 790.56 875.14 787.81 883.71C785.06 892.29 778.81 903.4 771.3 903.4C763.79 903.4 750.14 893.34 742.73 883.71C735.32 874.08 731.2 857.26 726.86 845.62C722.52 833.98 717.23 823.4 716.7 813.87C716.17 804.35 717.23 793.34 723.68 788.48Z" fill="#000" opacity="0.87"/>
<path d="M790.35 677.37C795.64 672.5 810.88 668.79 815.75 673.56C820.61 678.32 821.67 697.26 819.56 705.94C817.44 714.61 808.97 726.15 803.05 725.62C797.12 725.09 786.12 710.8 784 702.76C781.88 694.72 785.06 682.23 790.35 677.37Z" fill="#000" opacity="0.77"/>
<path d="M822.1 826.57C826.01 823.4 839.56 826.04 844.95 832.92C850.35 839.8 855.64 860.33 854.48 867.84C853.31 875.35 843.47 880.65 837.97 878C832.47 875.35 824.11 860.54 821.46 851.97C818.81 843.4 818.18 829.75 822.1 826.57Z" fill="#000" opacity="0.77"/>
<path d="M888.76 807.52C894.26 805.41 909.93 808.58 914.79 813.87C919.66 819.16 921.25 833.87 917.97 839.27C914.69 844.67 901.14 848.37 895.11 846.25C889.08 844.14 882.84 833.03 881.78 826.57C880.72 820.12 883.26 809.64 888.76 807.52Z" fill="#000" opacity="0.72"/>
<path d="M971.3 801.17C976.28 795.88 989.82 790.59 994.16 794.83C998.5 799.06 1000.08 816.94 997.33 826.57C994.58 836.2 983.15 852.6 977.65 852.6C972.15 852.6 965.38 835.14 964.32 826.57C963.26 818 966.33 806.47 971.3 801.17Z" fill="#000" opacity="0.72"/>
<path d="M682.41 718.63C685.59 713.66 705.06 709.01 710.98 711.65C716.91 714.3 721.14 729.53 717.97 734.51C714.79 739.48 697.86 744.14 691.94 741.49C686.01 738.85 679.24 723.61 682.41 718.63Z" fill="#000" opacity="0.67"/>
<path d="M695.11 753.56C697.76 749.11 712.99 746.57 717.33 749.75C721.67 752.92 723.79 768.16 721.14 772.6C718.5 777.05 705.8 779.59 701.46 776.41C697.12 773.24 692.47 758 695.11 753.56Z" fill="#000" opacity="0.62"/>
<path d="M736.38 934.51C738.5 929.64 756.38 926.04 761.78 928.16C767.17 930.28 770.88 942.34 768.76 947.21C766.65 952.07 754.48 959.48 749.08 957.37C743.68 955.25 734.26 939.38 736.38 934.51Z" fill="#000" opacity="0.67"/>
<path d="M780.83 934.51C783.47 930.06 800.83 927.52 806.22 930.7C811.62 933.87 815.85 949.11 813.21 953.56C810.56 958 795.75 960.54 790.35 957.37C784.95 954.19 778.18 938.95 780.83 934.51Z" fill="#000" opacity="0.67"/>
<path d="M818.92 940.86C825.27 936.41 855.32 933.87 863.37 937.05C871.41 940.22 873.52 955.46 867.17 959.9C860.83 964.35 833.31 966.89 825.27 963.71C817.23 960.54 812.57 945.3 818.92 940.86Z" fill="#000" opacity="0.67"/>
<ellipse cx="644.32" cy="836.1" rx="12.57" ry="12.57" fill="#000" opacity="0.75"/>
<ellipse cx="926.86" cy="851.97" rx="13.97" ry="13.97" fill="#000" opacity="0.60"/>
<ellipse cx="869.71" cy="693.24" rx="17.46" ry="10.48" fill="#000" opacity="0.52"/>
<ellipse cx="980.83" cy="718.63" rx="10.48" ry="13.97" fill="#000" opacity="0.60"/>
<ellipse cx="679.24" cy="883.71" rx="12.57" ry="10.48" fill="#000" opacity="0.52"/>
<ellipse cx="761.78" cy="747.21" rx="13.97" ry="10.48" fill="#000" opacity="0.60"/>
<ellipse cx="933.21" cy="801.17" rx="12.57" ry="10.48" fill="#000" opacity="0.52"/>
<ellipse cx="853.84" cy="909.11" rx="13.97" ry="10.48" fill="#000" opacity="0.52"/>
<ellipse cx="710.98" cy="956.73" rx="12.57" ry="9.78" fill="#000" opacity="0.52"/>
<ellipse cx="901.46" cy="883.71" rx="12.57" ry="10.48" fill="#000" opacity="0.45"/>
</g>
<path d="M876.06 609.11C893.52 609.11 910.46 611.49 926.86 617.05C943.26 622.6 960.72 631.33 974.48 642.44C988.23 653.56 999.87 668.37 1009.4 683.71C1018.92 699.06 1027.12 717.05 1031.62 734.51C1036.12 751.97 1037.44 771.02 1036.38 788.48C1035.32 805.94 1030.83 823.4 1025.27 839.27C1019.71 855.14 1012.57 868.9 1003.05 883.71C993.52 898.53 981.35 913.87 968.13 928.16C954.9 942.44 939.03 956.73 923.68 969.43C908.34 982.13 892.47 995.35 876.06 1004.35C859.66 1013.34 841.14 1019.96 825.27 1023.4C809.4 1026.84 796.17 1027.1 780.83 1024.98C765.48 1022.87 748.55 1018.37 733.21 1010.7C717.86 1003.03 701.99 991.12 688.76 978.95C675.53 966.78 663.37 952.5 653.84 937.68C644.32 922.87 637.17 906.47 631.62 890.06C626.06 873.66 621.83 856.2 620.51 839.27C619.19 822.34 620.24 804.88 623.68 788.48C627.12 772.07 632.94 755.67 641.14 740.86C649.34 726.04 660.19 712.81 672.89 699.59C685.59 686.36 701.46 672.07 717.33 661.49C733.21 650.91 750.67 643.5 768.13 636.1C785.59 628.69 804.11 621.54 822.1 617.05C840.08 612.55 858.6 609.11 876.06 609.11Z" fill="none" stroke="#a6d2f6" stroke-width="2.2" opacity="0.95" filter="url(#soft2)"/>
<g fill="#30e060" filter="url(#soft2)">
<ellipse cx="785" cy="803.21" rx="3.57" ry="3.57" opacity="1"/>
<ellipse cx="984.29" cy="760.36" rx="3.21" ry="6.43" opacity="1"/>
<ellipse cx="817.14" cy="865.71" rx="2.14" ry="5" opacity="1"/>
<ellipse cx="793.93" cy="710.36" rx="1.43" ry="1.79" opacity="0.7"/>
<ellipse cx="777.86" cy="653.21" rx="1.43" ry="1.43" opacity="0.5"/>
<ellipse cx="990.36" cy="878.21" rx="2.14" ry="3.57" opacity="0.7"/>
<ellipse cx="849.29" cy="933.57" rx="1.07" ry="1.79" opacity="0.6"/>
</g>
<rect x="766.86" y="783.29" width="37.71" height="37.71" fill="none" stroke="#fff" stroke-width="3"/>
<rect x="879" y="893.5" width="183.6" height="182.6" fill="#fff"/>
<rect x="882.2" y="896.7" width="180.4" height="179.4" fill="#000"/>
<g clip-path="url(#cp_i1)"><rect x="882.2" y="896.7" width="180.4" height="179.4" fill="#000" filter="url(#ins1)"/>
<g fill="#40f08a" filter="url(#soft4)"><ellipse cx="956.43" cy="994.29" rx="16.07" ry="19.64" opacity="0.95" transform="rotate(0 956.43 994.29)"/><ellipse cx="970.71" cy="972.86" rx="14.29" ry="12.5" opacity="0.85" transform="rotate(0 970.71 972.86)"/><ellipse cx="986.79" cy="983.57" rx="10" ry="10" opacity="0.9" transform="rotate(0 986.79 983.57)"/><ellipse cx="960" cy="1012.14" rx="14.29" ry="10.71" opacity="0.85" transform="rotate(0 960 1012.14)"/><ellipse cx="976.07" cy="955" rx="7.14" ry="8.93" opacity="0.6" transform="rotate(0 976.07 955)"/></g><path d="M960.71 930.71 L1001.43 1021.07" stroke="#fff" stroke-width="3.2"/><rect x="887.86" y="1058.86" width="24" height="3" fill="#fff"/>
</g>
</g>
<rect x="1090.3" y="598.4" width="479.1" height="479.1" fill="#000"/>
<g clip-path="url(#cp_c2)">
<g filter="url(#nuc2)">
<path d="M1391.59 613.87C1404.81 614.4 1421.75 615.99 1436.03 620.22C1450.32 624.46 1465.13 630.8 1477.3 639.27C1489.47 647.74 1500.05 658.32 1509.05 671.02C1518.04 683.71 1525.98 700.12 1531.27 715.46C1536.56 730.8 1539.74 746.68 1540.79 763.08C1541.85 779.48 1540.26 798 1537.62 813.87C1534.97 829.75 1530.74 845.09 1524.92 858.32C1519.1 871.54 1512.22 880.54 1502.7 893.24C1493.17 905.94 1480.48 921.28 1467.78 934.51C1455.08 947.74 1441.85 960.96 1426.51 972.6C1411.16 984.24 1393.7 995.88 1375.71 1004.35C1357.72 1012.81 1335.5 1020.75 1318.57 1023.4C1301.64 1026.04 1288.94 1023.93 1274.13 1020.22C1259.31 1016.52 1243.44 1009.64 1229.68 1001.17C1215.93 992.71 1203.23 981.6 1191.59 969.43C1179.95 957.26 1168.84 943.5 1159.84 928.16C1150.85 912.81 1142.65 894.3 1137.62 877.37C1132.59 860.43 1130.21 842.97 1129.68 826.57C1129.15 810.17 1130.48 794.3 1134.44 778.95C1138.41 763.61 1145.03 748.26 1153.49 734.51C1161.96 720.75 1173.07 708.05 1185.24 696.41C1197.41 684.77 1211.69 673.66 1226.51 664.67C1241.32 655.67 1258.78 648.79 1274.13 642.44C1289.47 636.1 1304.81 630.8 1318.57 626.57C1332.33 622.34 1344.5 619.16 1356.67 617.05C1368.84 614.93 1378.36 613.34 1391.59 613.87Z" fill="#f4f4f4"/>
<path d="M1404.29 724.98C1410.74 720.12 1422.8 717.47 1432.86 718C1442.91 718.53 1456.03 723.29 1464.6 728.16C1473.17 733.03 1482.59 739.27 1484.29 747.21C1485.98 755.14 1480.16 767.74 1474.76 775.78C1469.37 783.82 1459.95 792.71 1451.9 795.46C1443.86 798.21 1433.92 796.62 1426.51 792.29C1419.1 787.95 1412.86 776.94 1407.46 769.43C1402.06 761.92 1394.66 754.61 1394.13 747.21C1393.6 739.8 1397.83 729.85 1404.29 724.98Z" fill="#000" opacity="0.93"/>
<path d="M1216.98 794.83C1222.38 791.54 1234.97 786.25 1242.38 787.84C1249.79 789.43 1256.03 797.89 1261.43 804.35C1266.83 810.8 1274.76 819.59 1274.76 826.57C1274.76 833.56 1268.41 842.44 1261.43 846.25C1254.44 850.06 1241.43 852.18 1232.86 849.43C1224.29 846.68 1213.81 836.73 1210 829.75C1206.19 822.76 1208.84 813.34 1210 807.52C1211.16 801.7 1211.59 798.11 1216.98 794.83Z" fill="#000" opacity="0.92"/>
<path d="M1232.86 934.51C1232.86 930.8 1247.67 925.51 1255.08 924.98C1262.49 924.46 1273.07 928.16 1277.3 931.33C1281.53 934.51 1284.18 941.39 1280.48 944.03C1276.77 946.68 1263.02 948.79 1255.08 947.21C1247.14 945.62 1232.86 938.21 1232.86 934.51Z" fill="#000" opacity="0.72"/>
<path d="M1251.9 972.6C1252.96 968.11 1266.72 960.43 1274.13 959.9C1281.53 959.38 1293.17 965.2 1296.35 969.43C1299.52 973.66 1297.94 982.39 1293.17 985.3C1288.41 988.21 1274.66 989.01 1267.78 986.89C1260.9 984.77 1250.85 977.1 1251.9 972.6Z" fill="#000" opacity="0.72"/>
<ellipse cx="1267.78" cy="686.89" rx="12.57" ry="11.87" fill="#000" opacity="0.90"/>
<ellipse cx="1232.86" cy="709.11" rx="10.48" ry="10.48" fill="#000" opacity="0.83"/>
<ellipse cx="1312.22" cy="677.37" rx="10.48" ry="17.46" fill="#000" opacity="0.75"/>
<ellipse cx="1296.35" cy="737.68" rx="10.48" ry="10.48" fill="#000" opacity="0.75"/>
<ellipse cx="1318.57" cy="769.43" rx="10.48" ry="10.48" fill="#000" opacity="0.68"/>
<ellipse cx="1356.67" cy="801.17" rx="12.57" ry="12.57" fill="#000" opacity="0.68"/>
<ellipse cx="1153.49" cy="801.17" rx="9.08" ry="9.08" fill="#000" opacity="0.75"/>
<ellipse cx="1166.19" cy="845.62" rx="9.08" ry="9.08" fill="#000" opacity="0.75"/>
<ellipse cx="1505.87" cy="832.92" rx="9.08" ry="9.08" fill="#000" opacity="0.90"/>
<ellipse cx="1486.83" cy="858.32" rx="9.08" ry="9.08" fill="#000" opacity="0.75"/>
<ellipse cx="1312.22" cy="947.21" rx="15.71" ry="15.71" fill="#000" opacity="0.90"/>
<ellipse cx="1201.11" cy="921.81" rx="10.48" ry="10.48" fill="#000" opacity="0.68"/>
<ellipse cx="1343.97" cy="1004.35" rx="9.08" ry="9.08" fill="#000" opacity="0.60"/>
<ellipse cx="1375.71" cy="940.86" rx="9.08" ry="9.08" fill="#000" opacity="0.60"/>
<ellipse cx="1324.92" cy="861.49" rx="10.48" ry="10.48" fill="#000" opacity="0.60"/>
<ellipse cx="1509.05" cy="775.78" rx="8.38" ry="10.48" fill="#000" opacity="0.52"/>
<ellipse cx="1369.37" cy="702.76" rx="10.48" ry="8.38" fill="#000" opacity="0.45"/>
<ellipse cx="1185.24" cy="756.73" rx="10.48" ry="8.38" fill="#000" opacity="0.52"/>
</g>
<path d="M1391.59 613.87C1404.81 614.4 1421.75 615.99 1436.03 620.22C1450.32 624.46 1465.13 630.8 1477.3 639.27C1489.47 647.74 1500.05 658.32 1509.05 671.02C1518.04 683.71 1525.98 700.12 1531.27 715.46C1536.56 730.8 1539.74 746.68 1540.79 763.08C1541.85 779.48 1540.26 798 1537.62 813.87C1534.97 829.75 1530.74 845.09 1524.92 858.32C1519.1 871.54 1512.22 880.54 1502.7 893.24C1493.17 905.94 1480.48 921.28 1467.78 934.51C1455.08 947.74 1441.85 960.96 1426.51 972.6C1411.16 984.24 1393.7 995.88 1375.71 1004.35C1357.72 1012.81 1335.5 1020.75 1318.57 1023.4C1301.64 1026.04 1288.94 1023.93 1274.13 1020.22C1259.31 1016.52 1243.44 1009.64 1229.68 1001.17C1215.93 992.71 1203.23 981.6 1191.59 969.43C1179.95 957.26 1168.84 943.5 1159.84 928.16C1150.85 912.81 1142.65 894.3 1137.62 877.37C1132.59 860.43 1130.21 842.97 1129.68 826.57C1129.15 810.17 1130.48 794.3 1134.44 778.95C1138.41 763.61 1145.03 748.26 1153.49 734.51C1161.96 720.75 1173.07 708.05 1185.24 696.41C1197.41 684.77 1211.69 673.66 1226.51 664.67C1241.32 655.67 1258.78 648.79 1274.13 642.44C1289.47 636.1 1304.81 630.8 1318.57 626.57C1332.33 622.34 1344.5 619.16 1356.67 617.05C1368.84 614.93 1378.36 613.34 1391.59 613.87Z" fill="none" stroke="#a6d2f6" stroke-width="2.2" opacity="0.95" filter="url(#soft2)"/>
<g fill="#30e060" filter="url(#soft2)">
<ellipse cx="1338.63" cy="642.82" rx="2.74" ry="2.05" opacity="0.9"/>
<ellipse cx="1398.46" cy="858.21" rx="5.47" ry="3.42" opacity="1"/>
<ellipse cx="1483.93" cy="883.85" rx="5.47" ry="4.79" opacity="1"/>
<ellipse cx="1502.74" cy="859.91" rx="2.74" ry="2.39" opacity="0.9"/>
<ellipse cx="1345.47" cy="800.09" rx="1.71" ry="1.71" opacity="0.9"/>
<ellipse cx="1314.7" cy="736.84" rx="1.71" ry="1.71" opacity="0.7"/>
<ellipse cx="1207.01" cy="755.64" rx="1.37" ry="1.37" opacity="0.6"/>
<ellipse cx="1357.44" cy="765.9" rx="1.03" ry="1.03" opacity="0.6"/>
<ellipse cx="1285.64" cy="765.9" rx="1.03" ry="1.03" opacity="0.5"/>
<ellipse cx="1306.15" cy="977.86" rx="1.37" ry="1.37" opacity="0.6"/>
</g>
<rect x="1318.59" y="622.78" width="36.66" height="35.97" fill="none" stroke="#fff" stroke-width="3"/>
<rect x="1385.5" y="893" width="183.9" height="184.5" fill="#fff"/>
<rect x="1388.7" y="896.2" width="180.7" height="181.3" fill="#000"/>
<g clip-path="url(#cp_i2)"><rect x="1388.7" y="896.2" width="180.7" height="181.3" fill="#000" filter="url(#ins2)"/>
<g fill="#40f080" filter="url(#soft4)"><ellipse cx="1536.92" cy="1008.63" rx="10.94" ry="6.84" opacity="0.95" transform="rotate(-25 1536.92 1008.63)"/><ellipse cx="1504.44" cy="1029.15" rx="17.09" ry="9.57" opacity="0.9" transform="rotate(30 1504.44 1029.15)"/><ellipse cx="1495.9" cy="1012.05" rx="7.52" ry="10.26" opacity="0.8" transform="rotate(0 1495.9 1012.05)"/><ellipse cx="1405.3" cy="1051.37" rx="7.52" ry="9.57" opacity="0.9" transform="rotate(0 1405.3 1051.37)"/><ellipse cx="1518.12" cy="1042.82" rx="10.26" ry="6.84" opacity="0.7" transform="rotate(0 1518.12 1042.82)"/></g><g fill="#bfeaf5" filter="url(#soft4)"><ellipse cx="1501.03" cy="1022.31" rx="11.97" ry="8.55" opacity="0.7" transform="rotate(30 1501.03 1022.31)"/><ellipse cx="1418.97" cy="950.51" rx="13.68" ry="8.55" opacity="0.45" transform="rotate(-20 1418.97 950.51)"/></g><path d="M1516.41 971.71 L1529.06 1069.49" stroke="#fff" stroke-width="3.2"/><rect x="1394.02" y="1060.81" width="24" height="3" fill="#fff"/>
</g>
</g>
<rect x="90" y="1055.6" width="114" height="3.8" fill="#fff"/>
<rect x="10" y="1797.3" width="170" height="63.6" fill="#e7e7e7" stroke="#000" stroke-width="3.2" stroke-linejoin="round"/>
<rect x="10" y="1870.7" width="170" height="64.3" fill="#e7e7e7" stroke="#000" stroke-width="3.2" stroke-linejoin="round"/>
<g filter="url(#blotA)">
<path d="M35.98 1817.57 L48.68 1822.22 L63.49 1825.61 L82.54 1826.46" fill="none" stroke="#000" stroke-width="12.28" stroke-linecap="round" stroke-linejoin="round" opacity="0.3"/>
<path d="M99.47 1828.57 L118.52 1829.84 L135.45 1828.99 L149.21 1826.46" fill="none" stroke="#000" stroke-width="11.85" stroke-linecap="round" stroke-linejoin="round" opacity="0.28"/>
<path d="M25.4 1900.95 L71.96 1903.07" fill="none" stroke="#000" stroke-width="16.93" stroke-linecap="round" stroke-linejoin="round" opacity="0.3"/>
<path d="M94.18 1903.7 L118.52 1906.24 L143.92 1903.07" fill="none" stroke="#000" stroke-width="5.5" stroke-linecap="round" stroke-linejoin="round" opacity="0.13"/>
<path d="M25.4 1920.63 L69.84 1921.69" fill="none" stroke="#000" stroke-width="4.66" stroke-linecap="round" stroke-linejoin="round" opacity="0.07"/>
<path d="M23.28 1928.04 L69.84 1928.04" fill="none" stroke="#000" stroke-width="4.66" stroke-linecap="round" stroke-linejoin="round" opacity="0.06"/>
</g>
<g filter="url(#blotB)">
<path d="M38.1 1818.41 L50.79 1823.07 L63.49 1825.61 L80.42 1826.46" fill="none" stroke="#000" stroke-width="5.93" stroke-linecap="round" stroke-linejoin="round" opacity="0.85"/>
<path d="M102.01 1828.99 L118.52 1830.26 L135.45 1829.42 L147.09 1827.3" fill="none" stroke="#000" stroke-width="5.5" stroke-linecap="round" stroke-linejoin="round" opacity="0.8"/>
<path d="M27.51 1900.95 L70.9 1903.07" fill="none" stroke="#000" stroke-width="9.74" stroke-linecap="round" stroke-linejoin="round" opacity="0.95"/>
</g>
<text x="9.5" y="17.2" font-size="29" fill="#000" font-weight="bold" >a</text>
<text x="908.5" y="24.8" font-size="29" fill="#000" font-weight="bold" >b</text>
<text x="9" y="562.8" font-size="29" fill="#000" font-weight="bold" >c</text>
<text x="11" y="1636" font-size="29" fill="#000" font-weight="bold" >d</text>
<text x="269.5" y="1632.8" font-size="29" fill="#000" font-weight="bold" >e</text>
<text x="939.5" y="1636" font-size="29" fill="#000" font-weight="bold" >f</text>
<text x="83" y="39.7" font-size="28" fill="#5aad2b" textLength="81.6" lengthAdjust="spacingAndGlyphs" >53BP1</text>
<text x="321.6" y="39.7" font-size="28" fill="#ff33e6" textLength="86.4" lengthAdjust="spacingAndGlyphs" >γH2AX</text>
<text x="508.9" y="39.7" font-size="28"><tspan fill="#5aad2b">53BP1</tspan><tspan fill="#000"> + </tspan><tspan fill="#ff33e6" font-family="&quot;Liberation Serif&quot;, serif" font-size="26">γ</tspan><tspan fill="#ff33e6">H2AX</tspan></text>
<text x="769" y="232" font-size="25.5" fill="#000" textLength="154" lengthAdjust="spacingAndGlyphs" transform="rotate(-90 769 232)" >Pre-replicative</text>
<text x="769" y="443.5" font-size="25.5" fill="#000" textLength="166" lengthAdjust="spacingAndGlyphs" transform="rotate(-90 769 443.5)" >Post-replicative</text>
<path d="M731.5 51.8 H738 Q740.5 51.8 740.5 54.3 V250.5 Q740.5 253 738 253 H731.5" fill="none" stroke="#000" stroke-width="3"/>
<path d="M731.5 262.5 H738 Q740.5 262.5 740.5 265 V458.5 Q740.5 461 738 461 H731.5" fill="none" stroke="#000" stroke-width="3"/>
<text x="985" y="40.3" font-size="28"><tspan font-family="&quot;Liberation Serif&quot;, serif" font-size="26">γ</tspan>H2AX</text>
<text x="78.6" y="586.4" font-size="28" textLength="271.2" lengthAdjust="spacingAndGlyphs"><tspan fill="#5aad2b" font-family="&quot;Liberation Serif&quot;, serif" font-size="26">γ</tspan><tspan fill="#5aad2b">H2AX</tspan><tspan fill="#000"> + </tspan><tspan fill="#ff33e6">H2B</tspan><tspan fill="#000"> + </tspan><tspan fill="#2cc8d6">DAPI</tspan></text>
<text x="556.5" y="587.5" font-size="24" fill="#000" text-anchor="end" >z=30</text>
<text x="1061" y="587.5" font-size="24" fill="#000" text-anchor="end" >z=43</text>
<text x="1566.5" y="587.5" font-size="24" fill="#000" text-anchor="end" >z=51</text>
<rect x="81" y="1100.5" width="479" height="376.5" fill="#fff" stroke="#ababab" stroke-width="1.3"/>
<path d="M129.9 1420.4 H447.3" stroke="#a3a3a3" stroke-width="1.2" fill="none"/>
<text x="117" y="1429.2" font-size="22" fill="#000" text-anchor="end" >0</text>
<path d="M129.9 1360.6 H447.3" stroke="#a3a3a3" stroke-width="1.2" fill="none"/>
<text x="117" y="1369.4" font-size="22" fill="#000" text-anchor="end" >0.2</text>
<path d="M129.9 1300.8 H447.3" stroke="#a3a3a3" stroke-width="1.2" fill="none"/>
<text x="117" y="1309.6" font-size="22" fill="#000" text-anchor="end" >0.4</text>
<path d="M129.9 1241 H447.3" stroke="#a3a3a3" stroke-width="1.2" fill="none"/>
<text x="117" y="1249.8" font-size="22" fill="#000" text-anchor="end" >0.6</text>
<path d="M129.9 1181.2 H447.3" stroke="#a3a3a3" stroke-width="1.2" fill="none"/>
<text x="117" y="1190" font-size="22" fill="#000" text-anchor="end" >0.8</text>
<path d="M129.9 1121.4 H447.3" stroke="#a3a3a3" stroke-width="1.2" fill="none"/>
<text x="117" y="1130.2" font-size="22" fill="#000" text-anchor="end" >1</text>
<path d="M137.3 1121.4 V1427.4" stroke="#a3a3a3" stroke-width="1.2" fill="none"/>
<path d="M137.3 1420.4v7M153.62 1420.4v7M169.93 1420.4v7M186.25 1420.4v7M202.56 1420.4v7M218.88 1420.4v7M235.19 1420.4v7M251.51 1420.4v7M267.83 1420.4v7M284.14 1420.4v7M300.46 1420.4v7M316.77 1420.4v7M333.09 1420.4v7M349.41 1420.4v7M365.72 1420.4v7M382.04 1420.4v7M398.35 1420.4v7M414.67 1420.4v7M430.98 1420.4v7M447.3 1420.4v7" stroke="#a3a3a3" stroke-width="1.2" fill="none"/>
<text x="154.36" y="1434.4" font-size="19" fill="#000" text-anchor="end" textLength="34.4" lengthAdjust="spacingAndGlyphs" transform="rotate(-90 154.36 1434.4)" >0.00</text>
<text x="186.99" y="1434.4" font-size="19" fill="#000" text-anchor="end" textLength="34.4" lengthAdjust="spacingAndGlyphs" transform="rotate(-90 186.99 1434.4)" >0.08</text>
<text x="219.62" y="1434.4" font-size="19" fill="#000" text-anchor="end" textLength="34.4" lengthAdjust="spacingAndGlyphs" transform="rotate(-90 219.62 1434.4)" >0.16</text>
<text x="252.25" y="1434.4" font-size="19" fill="#000" text-anchor="end" textLength="34.4" lengthAdjust="spacingAndGlyphs" transform="rotate(-90 252.25 1434.4)" >0.24</text>
<text x="284.88" y="1434.4" font-size="19" fill="#000" text-anchor="end" textLength="34.4" lengthAdjust="spacingAndGlyphs" transform="rotate(-90 284.88 1434.4)" >0.32</text>
<text x="317.52" y="1434.4" font-size="19" fill="#000" text-anchor="end" textLength="34.4" lengthAdjust="spacingAndGlyphs" transform="rotate(-90 317.52 1434.4)" >0.41</text>
<text x="350.15" y="1434.4" font-size="19" fill="#000" text-anchor="end" textLength="34.4" lengthAdjust="spacingAndGlyphs" transform="rotate(-90 350.15 1434.4)" >0.49</text>
<text x="382.78" y="1434.4" font-size="19" fill="#000" text-anchor="end" textLength="34.4" lengthAdjust="spacingAndGlyphs" transform="rotate(-90 382.78 1434.4)" >0.57</text>
<text x="415.41" y="1434.4" font-size="19" fill="#000" text-anchor="end" textLength="34.4" lengthAdjust="spacingAndGlyphs" transform="rotate(-90 415.41 1434.4)" >0.65</text>
<text x="448.04" y="1434.4" font-size="19" fill="#000" text-anchor="end" textLength="34.4" lengthAdjust="spacingAndGlyphs" transform="rotate(-90 448.04 1434.4)" >0.73</text>
<polyline points="145.46,1366.58 161.77,1383.32 178.09,1327.71 194.41,1249.97 210.72,1159.07 227.04,1128.88 243.35,1134.86 259.67,1200.64 275.98,1264.92 292.3,1293.62 308.62,1254.46 324.93,1200.64 341.25,1146.52 357.56,1121.4 373.88,1133.36 390.19,1170.44 406.51,1243.99 422.83,1312.76 439.14,1349.24" fill="none" stroke="#56ae3c" stroke-width="3.6" stroke-linejoin="round" stroke-linecap="round"/>
<polyline points="145.46,1253.86 161.77,1269.7 178.09,1313.06 194.41,1297.81 210.72,1274.79 227.04,1252.06 243.35,1235.62 259.67,1241.9 275.98,1278.97 292.3,1276.88 308.62,1214.09 324.93,1141.43 341.25,1121.4 357.56,1160.27 373.88,1202.13 390.19,1225.15 406.51,1203.03 422.83,1152.8 439.14,1145.32" fill="none" stroke="#f23fe6" stroke-width="3.6" stroke-linejoin="round" stroke-linecap="round"/>
<polyline points="145.46,1139.34 161.77,1121.4 178.09,1205.72 194.41,1262.83 210.72,1226.05 227.04,1191.66 243.35,1232.03 259.67,1312.76 275.98,1350.13 292.3,1255.95 308.62,1176.72 324.93,1167.45 341.25,1185.09 357.56,1161.77 373.88,1137.85 390.19,1165.35 406.51,1232.03 422.83,1275.39 439.14,1258.34" fill="none" stroke="#1fd3d6" stroke-width="3.6" stroke-linejoin="round" stroke-linecap="round"/>
<path d="M456.3 1251.4 H477.3" stroke="#56ae3c" stroke-width="4.2" stroke-linecap="round"/>
<text x="480.8" y="1261.2" font-size="21.5" fill="#000" >yH2AX</text>
<path d="M456.3 1288.8 H477.3" stroke="#f23fe6" stroke-width="4.2" stroke-linecap="round"/>
<text x="480.8" y="1298.6" font-size="21.5" fill="#000" >H2B</text>
<path d="M456.3 1326.1 H477.3" stroke="#1fd3d6" stroke-width="4.2" stroke-linecap="round"/>
<text x="480.8" y="1335.9" font-size="21.5" fill="#000" >DAPI</text>
<rect x="583.3" y="1100.5" width="477.9" height="376.3" fill="#fff" stroke="#ababab" stroke-width="1.3"/>
<path d="M631.7 1420.4 H948.7" stroke="#a3a3a3" stroke-width="1.2" fill="none"/>
<text x="618.8" y="1429.2" font-size="22" fill="#000" text-anchor="end" >0</text>
<path d="M631.7 1360.6 H948.7" stroke="#a3a3a3" stroke-width="1.2" fill="none"/>
<text x="618.8" y="1369.4" font-size="22" fill="#000" text-anchor="end" >0.2</text>
<path d="M631.7 1300.8 H948.7" stroke="#a3a3a3" stroke-width="1.2" fill="none"/>
<text x="618.8" y="1309.6" font-size="22" fill="#000" text-anchor="end" >0.4</text>
<path d="M631.7 1241 H948.7" stroke="#a3a3a3" stroke-width="1.2" fill="none"/>
<text x="618.8" y="1249.8" font-size="22" fill="#000" text-anchor="end" >0.6</text>
<path d="M631.7 1181.2 H948.7" stroke="#a3a3a3" stroke-width="1.2" fill="none"/>
<text x="618.8" y="1190" font-size="22" fill="#000" text-anchor="end" >0.8</text>
<path d="M631.7 1121.4 H948.7" stroke="#a3a3a3" stroke-width="1.2" fill="none"/>
<text x="618.8" y="1130.2" font-size="22" fill="#000" text-anchor="end" >1</text>
<path d="M639.1 1121.4 V1427.4" stroke="#a3a3a3" stroke-width="1.2" fill="none"/>
<path d="M639.1 1420.4v7M655.39 1420.4v7M671.69 1420.4v7M687.98 1420.4v7M704.28 1420.4v7M720.57 1420.4v7M736.87 1420.4v7M753.16 1420.4v7M769.46 1420.4v7M785.75 1420.4v7M802.05 1420.4v7M818.34 1420.4v7M834.64 1420.4v7M850.93 1420.4v7M867.23 1420.4v7M883.52 1420.4v7M899.82 1420.4v7M916.11 1420.4v7M932.41 1420.4v7M948.7 1420.4v7" stroke="#a3a3a3" stroke-width="1.2" fill="none"/>
<text x="656.15" y="1434.4" font-size="19" fill="#000" text-anchor="end" textLength="34.4" lengthAdjust="spacingAndGlyphs" transform="rotate(-90 656.15 1434.4)" >0.00</text>
<text x="688.74" y="1434.4" font-size="19" fill="#000" text-anchor="end" textLength="34.4" lengthAdjust="spacingAndGlyphs" transform="rotate(-90 688.74 1434.4)" >0.08</text>
<text x="721.33" y="1434.4" font-size="19" fill="#000" text-anchor="end" textLength="34.4" lengthAdjust="spacingAndGlyphs" transform="rotate(-90 721.33 1434.4)" >0.16</text>
<text x="753.92" y="1434.4" font-size="19" fill="#000" text-anchor="end" textLength="34.4" lengthAdjust="spacingAndGlyphs" transform="rotate(-90 753.92 1434.4)" >0.24</text>
<text x="786.51" y="1434.4" font-size="19" fill="#000" text-anchor="end" textLength="34.4" lengthAdjust="spacingAndGlyphs" transform="rotate(-90 786.51 1434.4)" >0.32</text>
<text x="819.09" y="1434.4" font-size="19" fill="#000" text-anchor="end" textLength="34.4" lengthAdjust="spacingAndGlyphs" transform="rotate(-90 819.09 1434.4)" >0.41</text>
<text x="851.68" y="1434.4" font-size="19" fill="#000" text-anchor="end" textLength="34.4" lengthAdjust="spacingAndGlyphs" transform="rotate(-90 851.68 1434.4)" >0.49</text>
<text x="884.27" y="1434.4" font-size="19" fill="#000" text-anchor="end" textLength="34.4" lengthAdjust="spacingAndGlyphs" transform="rotate(-90 884.27 1434.4)" >0.57</text>
<text x="916.86" y="1434.4" font-size="19" fill="#000" text-anchor="end" textLength="34.4" lengthAdjust="spacingAndGlyphs" transform="rotate(-90 916.86 1434.4)" >0.65</text>
<text x="949.45" y="1434.4" font-size="19" fill="#000" text-anchor="end" textLength="34.4" lengthAdjust="spacingAndGlyphs" transform="rotate(-90 949.45 1434.4)" >0.73</text>
<polyline points="647.25,1420.4 663.54,1420.4 679.84,1411.43 696.13,1381.53 712.43,1313.66 728.72,1235.62 745.02,1151.3 761.31,1121.4 777.61,1159.07 793.9,1217.08 810.19,1243.39 826.49,1230.83 842.78,1212.6 859.08,1211.4 875.37,1223.06 891.67,1255.95 907.96,1300.8 924.26,1363.59 940.55,1403.66" fill="none" stroke="#56ae3c" stroke-width="3.6" stroke-linejoin="round" stroke-linecap="round"/>
<polyline points="647.25,1217.68 663.54,1252.06 679.84,1328.61 696.13,1380.33 712.43,1318.74 728.72,1245.78 745.02,1192.56 761.31,1225.75 777.61,1255.95 793.9,1243.39 810.19,1209.31 826.49,1155.19 842.78,1121.4 859.08,1125.29 875.37,1178.21 891.67,1228.14 907.96,1249.67 924.26,1241.9 940.55,1235.32" fill="none" stroke="#f23fe6" stroke-width="3.6" stroke-linejoin="round" stroke-linecap="round"/>
<polyline points="647.25,1277.18 663.54,1289.74 679.84,1316.65 696.13,1310.97 712.43,1225.75 728.72,1148.91 745.02,1121.4 761.31,1178.21 777.61,1248.18 793.9,1267.01 810.19,1225.75 826.49,1154.29 842.78,1130.37 859.08,1165.35 875.37,1217.08 891.67,1240.4 907.96,1220.67 924.26,1213.19 940.55,1227.55" fill="none" stroke="#1fd3d6" stroke-width="3.6" stroke-linejoin="round" stroke-linecap="round"/>
<path d="M958.5 1251.4 H979.5" stroke="#56ae3c" stroke-width="4.2" stroke-linecap="round"/>
<text x="983" y="1261.2" font-size="21.5" fill="#000" >yH2AX</text>
<path d="M958.5 1288.8 H979.5" stroke="#f23fe6" stroke-width="4.2" stroke-linecap="round"/>
<text x="983" y="1298.6" font-size="21.5" fill="#000" >H2B</text>
<path d="M958.5 1326.1 H979.5" stroke="#1fd3d6" stroke-width="4.2" stroke-linecap="round"/>
<text x="983" y="1335.9" font-size="21.5" fill="#000" >DAPI</text>
<rect x="1090.5" y="1100.5" width="478" height="376.3" fill="#fff" stroke="#ababab" stroke-width="1.3"/>
<path d="M1139.2 1420.4 H1456.2" stroke="#a3a3a3" stroke-width="1.2" fill="none"/>
<text x="1126.3" y="1429.2" font-size="22" fill="#000" text-anchor="end" >0</text>
<path d="M1139.2 1360.6 H1456.2" stroke="#a3a3a3" stroke-width="1.2" fill="none"/>
<text x="1126.3" y="1369.4" font-size="22" fill="#000" text-anchor="end" >0.2</text>
<path d="M1139.2 1300.8 H1456.2" stroke="#a3a3a3" stroke-width="1.2" fill="none"/>
<text x="1126.3" y="1309.6" font-size="22" fill="#000" text-anchor="end" >0.4</text>
<path d="M1139.2 1241 H1456.2" stroke="#a3a3a3" stroke-width="1.2" fill="none"/>
<text x="1126.3" y="1249.8" font-size="22" fill="#000" text-anchor="end" >0.6</text>
<path d="M1139.2 1181.2 H1456.2" stroke="#a3a3a3" stroke-width="1.2" fill="none"/>
<text x="1126.3" y="1190" font-size="22" fill="#000" text-anchor="end" >0.8</text>
<path d="M1139.2 1121.4 H1456.2" stroke="#a3a3a3" stroke-width="1.2" fill="none"/>
<text x="1126.3" y="1130.2" font-size="22" fill="#000" text-anchor="end" >1</text>
<path d="M1146.6 1121.4 V1427.4" stroke="#a3a3a3" stroke-width="1.2" fill="none"/>
<path d="M1146.6 1420.4v7M1162.89 1420.4v7M1179.19 1420.4v7M1195.48 1420.4v7M1211.78 1420.4v7M1228.07 1420.4v7M1244.37 1420.4v7M1260.66 1420.4v7M1276.96 1420.4v7M1293.25 1420.4v7M1309.55 1420.4v7M1325.84 1420.4v7M1342.14 1420.4v7M1358.43 1420.4v7M1374.73 1420.4v7M1391.02 1420.4v7M1407.32 1420.4v7M1423.61 1420.4v7M1439.91 1420.4v7M1456.2 1420.4v7" stroke="#a3a3a3" stroke-width="1.2" fill="none"/>
<text x="1163.65" y="1434.4" font-size="19" fill="#000" text-anchor="end" textLength="34.4" lengthAdjust="spacingAndGlyphs" transform="rotate(-90 1163.65 1434.4)" >0.00</text>
<text x="1196.24" y="1434.4" font-size="19" fill="#000" text-anchor="end" textLength="34.4" lengthAdjust="spacingAndGlyphs" transform="rotate(-90 1196.24 1434.4)" >0.08</text>
<text x="1228.83" y="1434.4" font-size="19" fill="#000" text-anchor="end" textLength="34.4" lengthAdjust="spacingAndGlyphs" transform="rotate(-90 1228.83 1434.4)" >0.16</text>
<text x="1261.42" y="1434.4" font-size="19" fill="#000" text-anchor="end" textLength="34.4" lengthAdjust="spacingAndGlyphs" transform="rotate(-90 1261.42 1434.4)" >0.24</text>
<text x="1294.01" y="1434.4" font-size="19" fill="#000" text-anchor="end" textLength="34.4" lengthAdjust="spacingAndGlyphs" transform="rotate(-90 1294.01 1434.4)" >0.32</text>
<text x="1326.59" y="1434.4" font-size="19" fill="#000" text-anchor="end" textLength="34.4" lengthAdjust="spacingAndGlyphs" transform="rotate(-90 1326.59 1434.4)" >0.41</text>
<text x="1359.18" y="1434.4" font-size="19" fill="#000" text-anchor="end" textLength="34.4" lengthAdjust="spacingAndGlyphs" transform="rotate(-90 1359.18 1434.4)" >0.49</text>
<text x="1391.77" y="1434.4" font-size="19" fill="#000" text-anchor="end" textLength="34.4" lengthAdjust="spacingAndGlyphs" transform="rotate(-90 1391.77 1434.4)" >0.57</text>
<text x="1424.36" y="1434.4" font-size="19" fill="#000" text-anchor="end" textLength="34.4" lengthAdjust="spacingAndGlyphs" transform="rotate(-90 1424.36 1434.4)" >0.65</text>
<text x="1456.95" y="1434.4" font-size="19" fill="#000" text-anchor="end" textLength="34.4" lengthAdjust="spacingAndGlyphs" transform="rotate(-90 1456.95 1434.4)" >0.73</text>
<polyline points="1154.75,1419.2 1171.04,1411.43 1187.34,1367.78 1203.63,1290.93 1219.93,1211.1 1236.22,1191.66 1252.52,1230.83 1268.81,1263.72 1285.11,1243.99 1301.4,1172.83 1317.69,1121.4 1333.99,1136.35 1350.28,1244.59 1366.58,1353.72 1382.87,1409.94 1399.17,1412.33 1415.46,1408.44 1431.76,1414.12 1448.05,1419.5" fill="none" stroke="#56ae3c" stroke-width="3.6" stroke-linejoin="round" stroke-linecap="round"/>
<polyline points="1154.75,1274.79 1171.04,1280.47 1187.34,1281.07 1203.63,1235.62 1219.93,1188.08 1236.22,1205.72 1252.52,1252.06 1268.81,1258.34 1285.11,1220.67 1301.4,1157.88 1317.69,1125.29 1333.99,1167.75 1350.28,1282.26 1366.58,1347.44 1382.87,1326.22 1399.17,1296.02 1415.46,1313.66 1431.76,1358.81 1448.05,1387.81" fill="none" stroke="#f23fe6" stroke-width="3.6" stroke-linejoin="round" stroke-linecap="round"/>
<polyline points="1154.75,1279.87 1171.04,1290.93 1187.34,1296.61 1203.63,1255.95 1219.93,1203.03 1236.22,1182.99 1252.52,1218.28 1268.81,1248.18 1285.11,1223.06 1301.4,1156.68 1317.69,1121.4 1333.99,1147.71 1350.28,1235.62 1366.58,1308.57 1382.87,1315.75 1399.17,1265.82 1415.46,1255.95 1431.76,1310.97 1448.05,1353.42" fill="none" stroke="#1fd3d6" stroke-width="3.6" stroke-linejoin="round" stroke-linecap="round"/>
<path d="M1466 1251.4 H1487" stroke="#56ae3c" stroke-width="4.2" stroke-linecap="round"/>
<text x="1490.5" y="1261.2" font-size="21.5" fill="#000" >yH2AX</text>
<path d="M1466 1288.8 H1487" stroke="#f23fe6" stroke-width="4.2" stroke-linecap="round"/>
<text x="1490.5" y="1298.6" font-size="21.5" fill="#000" >H2B</text>
<path d="M1466 1326.1 H1487" stroke="#1fd3d6" stroke-width="4.2" stroke-linecap="round"/>
<text x="1490.5" y="1335.9" font-size="21.5" fill="#000" >DAPI</text>
<path d="M54.2 1366 V1501 H191" fill="none" stroke="#000" stroke-width="4.6" stroke-linejoin="miter"/>
<path d="M54.2 1354 l8.2 22.5 l-8.2 -6 l-8.2 6z" fill="#000"/>
<path d="M203 1501 l-22.5 -8.2 l6 8.2 l-6 8.2z" fill="#000"/>
<text x="27.5" y="1498.5" font-size="24.6" fill="#000" textLength="297" lengthAdjust="spacingAndGlyphs" transform="rotate(-90 27.5 1498.5)" >Fluorescence intensity (AU)</text>
<text x="52" y="1538.8" font-size="25" fill="#000" textLength="150" lengthAdjust="spacingAndGlyphs" >Distance (μm)</text>
<path d="M380.56 1687.46 H598.77" stroke="#a3a3a3" stroke-width="1.3" fill="none"/>
<text x="367.26" y="1695.36" font-size="22" fill="#000" text-anchor="end" >1</text>
<path d="M380.56 1721.19 H598.77" stroke="#a3a3a3" stroke-width="1.3" fill="none"/>
<text x="367.26" y="1729.09" font-size="22" fill="#000" text-anchor="end" >0.8</text>
<path d="M380.56 1754.92 H598.77" stroke="#a3a3a3" stroke-width="1.3" fill="none"/>
<text x="367.26" y="1762.82" font-size="22" fill="#000" text-anchor="end" >0.6</text>
<path d="M380.56 1788.65 H598.77" stroke="#a3a3a3" stroke-width="1.3" fill="none"/>
<text x="367.26" y="1796.55" font-size="22" fill="#000" text-anchor="end" >0.4</text>
<path d="M380.56 1822.38 H598.77" stroke="#a3a3a3" stroke-width="1.3" fill="none"/>
<text x="367.26" y="1830.28" font-size="22" fill="#000" text-anchor="end" >0.2</text>
<path d="M380.56 1856.11 H598.77" stroke="#a3a3a3" stroke-width="1.3" fill="none"/>
<text x="367.26" y="1864.01" font-size="22" fill="#000" text-anchor="end" >0</text>
<path d="M388.06 1687.46 V1861.11" stroke="#a3a3a3" stroke-width="1.3" fill="none"/>
<path d="M388.06 1856.11v5M395.08 1856.11v5M402.1 1856.11v5M409.13 1856.11v5M416.15 1856.11v5M423.17 1856.11v5M430.2 1856.11v5M437.22 1856.11v5M444.25 1856.11v5M451.27 1856.11v5M458.29 1856.11v5M465.32 1856.11v5M472.34 1856.11v5M479.37 1856.11v5M486.39 1856.11v5M493.41 1856.11v5M500.44 1856.11v5M507.46 1856.11v5M514.48 1856.11v5M521.51 1856.11v5M528.53 1856.11v5M535.56 1856.11v5M542.58 1856.11v5M549.6 1856.11v5M556.63 1856.11v5M563.65 1856.11v5M570.67 1856.11v5M577.7 1856.11v5M584.72 1856.11v5M591.75 1856.11v5M598.77 1856.11v5" stroke="#a3a3a3" stroke-width="1.1" fill="none"/>
<text x="399.17" y="1871.41" font-size="18.3" fill="#000" text-anchor="end" textLength="38" lengthAdjust="spacingAndGlyphs" transform="rotate(-90 399.17 1871.41)" >0.000</text>
<text x="420.24" y="1871.41" font-size="18.3" fill="#000" text-anchor="end" textLength="38" lengthAdjust="spacingAndGlyphs" transform="rotate(-90 420.24 1871.41)" >0.097</text>
<text x="441.31" y="1871.41" font-size="18.3" fill="#000" text-anchor="end" textLength="38" lengthAdjust="spacingAndGlyphs" transform="rotate(-90 441.31 1871.41)" >0.193</text>
<text x="462.38" y="1871.41" font-size="18.3" fill="#000" text-anchor="end" textLength="38" lengthAdjust="spacingAndGlyphs" transform="rotate(-90 462.38 1871.41)" >0.290</text>
<text x="483.45" y="1871.41" font-size="18.3" fill="#000" text-anchor="end" textLength="38" lengthAdjust="spacingAndGlyphs" transform="rotate(-90 483.45 1871.41)" >0.387</text>
<text x="504.52" y="1871.41" font-size="18.3" fill="#000" text-anchor="end" textLength="38" lengthAdjust="spacingAndGlyphs" transform="rotate(-90 504.52 1871.41)" >0.484</text>
<text x="525.6" y="1871.41" font-size="18.3" fill="#000" text-anchor="end" textLength="38" lengthAdjust="spacingAndGlyphs" transform="rotate(-90 525.6 1871.41)" >0.580</text>
<text x="546.67" y="1871.41" font-size="18.3" fill="#000" text-anchor="end" textLength="38" lengthAdjust="spacingAndGlyphs" transform="rotate(-90 546.67 1871.41)" >0.677</text>
<text x="567.74" y="1871.41" font-size="18.3" fill="#000" text-anchor="end" textLength="38" lengthAdjust="spacingAndGlyphs" transform="rotate(-90 567.74 1871.41)" >0.774</text>
<text x="588.81" y="1871.41" font-size="18.3" fill="#000" text-anchor="end" textLength="38" lengthAdjust="spacingAndGlyphs" transform="rotate(-90 588.81 1871.41)" >0.871</text>
<path d="M391.43 1790.63C393.74 1790.63 401.35 1790.37 405.32 1790.63C409.29 1790.9 412.26 1791.89 415.24 1792.22C418.21 1792.55 420.53 1792.32 423.17 1792.62C425.82 1792.92 428.47 1793.84 431.11 1794.01C433.76 1794.17 435.91 1794.17 439.05 1793.61C442.19 1793.05 446.98 1792.12 449.96 1790.63C452.94 1789.15 454.42 1787.99 456.9 1784.68C459.38 1781.38 462.2 1777.08 464.84 1770.79C467.49 1764.51 470.13 1755.91 472.78 1746.98C475.42 1738.06 478.07 1725.99 480.71 1717.22C483.36 1708.46 486.5 1699.03 488.65 1694.4C490.8 1689.78 491.96 1688.78 493.61 1689.44C495.26 1690.11 496.75 1693.74 498.57 1698.37C500.39 1703 502.54 1710.11 504.52 1717.22C506.51 1724.33 508.49 1733.43 510.48 1741.03C512.46 1748.64 514.28 1756.08 516.43 1762.86C518.58 1769.64 521.06 1777.14 523.37 1781.71C525.69 1786.27 527.84 1788.19 530.32 1790.24C532.8 1792.29 535.77 1793.38 538.25 1794.01C540.73 1794.64 542.88 1794.24 545.2 1794.01C547.51 1793.78 549.66 1793.45 552.14 1792.62C554.62 1791.79 557.6 1790.11 560.08 1789.05C562.56 1787.99 564.71 1786.77 567.02 1786.27C569.34 1785.77 571.16 1785.84 573.97 1786.07C576.78 1786.3 580.25 1786.83 583.89 1787.66C587.53 1788.49 593.81 1790.47 595.79 1791.03" fill="none" stroke="#fb3fe8" stroke-width="3" stroke-linejoin="round" stroke-linecap="round"/>
<path d="M391.43 1777.74C393.41 1777.9 399.79 1778.47 403.33 1778.73C406.87 1778.99 409.35 1779.56 412.66 1779.33C415.97 1779.09 419.7 1777.84 423.17 1777.34C426.65 1776.85 430.19 1776.85 433.49 1776.35C436.8 1775.85 440.27 1775.79 443.02 1774.37C445.76 1772.94 447.31 1771.06 449.96 1767.82C452.61 1764.58 456.08 1760.05 458.89 1754.92C461.7 1749.79 464.01 1744.34 466.83 1737.06C469.64 1729.79 473.11 1718.38 475.75 1711.27C478.4 1704.16 480.55 1698.37 482.7 1694.4C484.85 1690.44 486.67 1688.62 488.65 1687.46C490.63 1687.16 492.45 1687.16 494.6 1687.46C496.75 1688.95 499.23 1692.42 501.55 1696.39C503.86 1700.36 505.68 1704.82 508.49 1711.27C511.3 1717.72 515.44 1727.47 518.41 1735.08C521.39 1742.69 523.87 1750.95 526.35 1756.9C528.83 1762.86 531.31 1767.09 533.29 1770.79C535.28 1774.5 536.27 1777.74 538.25 1779.13C540.24 1780.52 542.88 1779.36 545.2 1779.13C547.51 1778.9 549.83 1777.8 552.14 1777.74C554.46 1777.67 556.77 1778.4 559.09 1778.73C561.4 1779.06 563.55 1780.05 566.03 1779.72C568.51 1779.39 570.99 1778.73 573.97 1776.75C576.94 1774.76 580.25 1770.89 583.89 1767.82C587.53 1764.74 593.81 1759.88 595.79 1758.29" fill="none" stroke="#65b40c" stroke-width="3" stroke-linejoin="round" stroke-linecap="round"/>
<path d="M672.95 1687.46 H889.78" stroke="#a3a3a3" stroke-width="1.3" fill="none"/>
<text x="659.65" y="1695.36" font-size="22" fill="#000" text-anchor="end" >1</text>
<path d="M672.95 1722.18 H889.78" stroke="#a3a3a3" stroke-width="1.3" fill="none"/>
<text x="659.65" y="1730.08" font-size="22" fill="#000" text-anchor="end" >0.8</text>
<path d="M672.95 1756.9 H889.78" stroke="#a3a3a3" stroke-width="1.3" fill="none"/>
<text x="659.65" y="1764.8" font-size="22" fill="#000" text-anchor="end" >0.6</text>
<path d="M672.95 1791.63 H889.78" stroke="#a3a3a3" stroke-width="1.3" fill="none"/>
<text x="659.65" y="1799.53" font-size="22" fill="#000" text-anchor="end" >0.4</text>
<path d="M672.95 1826.75 H889.78" stroke="#a3a3a3" stroke-width="1.3" fill="none"/>
<text x="659.65" y="1834.65" font-size="22" fill="#000" text-anchor="end" >0.2</text>
<path d="M672.95 1861.47 H889.78" stroke="#a3a3a3" stroke-width="1.3" fill="none"/>
<text x="659.65" y="1869.37" font-size="22" fill="#000" text-anchor="end" >0</text>
<path d="M680.45 1687.46 V1866.47" stroke="#a3a3a3" stroke-width="1.3" fill="none"/>
<path d="M680.45 1861.47v5M687.43 1861.47v5M694.41 1861.47v5M701.38 1861.47v5M708.36 1861.47v5M715.34 1861.47v5M722.32 1861.47v5M729.29 1861.47v5M736.27 1861.47v5M743.25 1861.47v5M750.23 1861.47v5M757.21 1861.47v5M764.18 1861.47v5M771.16 1861.47v5M778.14 1861.47v5M785.12 1861.47v5M792.09 1861.47v5M799.07 1861.47v5M806.05 1861.47v5M813.03 1861.47v5M820 1861.47v5M826.98 1861.47v5M833.96 1861.47v5M840.94 1861.47v5M847.91 1861.47v5M854.89 1861.47v5M861.87 1861.47v5M868.85 1861.47v5M875.82 1861.47v5M882.8 1861.47v5M889.78 1861.47v5" stroke="#a3a3a3" stroke-width="1.1" fill="none"/>
<text x="691.54" y="1876.77" font-size="18.3" fill="#000" text-anchor="end" textLength="38" lengthAdjust="spacingAndGlyphs" transform="rotate(-90 691.54 1876.77)" >0.000</text>
<text x="712.47" y="1876.77" font-size="18.3" fill="#000" text-anchor="end" textLength="38" lengthAdjust="spacingAndGlyphs" transform="rotate(-90 712.47 1876.77)" >0.097</text>
<text x="733.41" y="1876.77" font-size="18.3" fill="#000" text-anchor="end" textLength="38" lengthAdjust="spacingAndGlyphs" transform="rotate(-90 733.41 1876.77)" >0.193</text>
<text x="754.34" y="1876.77" font-size="18.3" fill="#000" text-anchor="end" textLength="38" lengthAdjust="spacingAndGlyphs" transform="rotate(-90 754.34 1876.77)" >0.290</text>
<text x="775.27" y="1876.77" font-size="18.3" fill="#000" text-anchor="end" textLength="38" lengthAdjust="spacingAndGlyphs" transform="rotate(-90 775.27 1876.77)" >0.387</text>
<text x="796.2" y="1876.77" font-size="18.3" fill="#000" text-anchor="end" textLength="38" lengthAdjust="spacingAndGlyphs" transform="rotate(-90 796.2 1876.77)" >0.484</text>
<text x="817.14" y="1876.77" font-size="18.3" fill="#000" text-anchor="end" textLength="38" lengthAdjust="spacingAndGlyphs" transform="rotate(-90 817.14 1876.77)" >0.580</text>
<text x="838.07" y="1876.77" font-size="18.3" fill="#000" text-anchor="end" textLength="38" lengthAdjust="spacingAndGlyphs" transform="rotate(-90 838.07 1876.77)" >0.677</text>
<text x="859" y="1876.77" font-size="18.3" fill="#000" text-anchor="end" textLength="38" lengthAdjust="spacingAndGlyphs" transform="rotate(-90 859 1876.77)" >0.774</text>
<text x="879.93" y="1876.77" font-size="18.3" fill="#000" text-anchor="end" textLength="38" lengthAdjust="spacingAndGlyphs" transform="rotate(-90 879.93 1876.77)" >0.871</text>
<path d="M683.43 1790.24C684.59 1791.13 688.06 1793.21 690.37 1795.6C692.69 1797.98 694.84 1802.04 697.32 1804.52C699.8 1807 702.77 1809.22 705.25 1810.48C707.73 1811.73 709.88 1812.56 712.2 1812.06C714.51 1811.57 716.66 1810.41 719.14 1807.5C721.62 1804.59 724.6 1800.39 727.08 1794.6C729.56 1788.82 731.71 1782.04 734.02 1772.78C736.34 1763.52 738.49 1748.97 740.97 1739.05C743.45 1729.13 746.26 1720.36 748.9 1713.25C751.55 1706.14 754.2 1700.42 756.84 1696.39C759.49 1692.35 762.13 1690.54 764.78 1689.05C767.42 1687.56 770.4 1687.66 772.71 1687.46C775.03 1687.26 776.35 1687.16 778.67 1687.86C780.98 1689.01 783.96 1691.16 786.6 1694.4C789.25 1697.65 791.89 1702.51 794.54 1707.3C797.19 1712.1 799.83 1717.88 802.48 1723.17C805.12 1728.47 807.44 1733.43 810.41 1739.05C813.39 1744.67 817.36 1751.61 820.33 1756.9C823.31 1762.2 825.62 1766.66 828.27 1770.79C830.92 1774.93 833.56 1778.73 836.21 1781.71C838.85 1784.68 841.5 1786.67 844.14 1788.65C846.79 1790.63 849.1 1791.79 852.08 1793.61C855.06 1795.43 858.69 1797.91 862 1799.56C865.31 1801.22 868.94 1803.2 871.92 1803.53C874.9 1803.86 877.38 1802.61 879.86 1801.55C882.34 1800.49 885.64 1797.91 886.8 1797.18" fill="none" stroke="#65b40c" stroke-width="3" stroke-linejoin="round" stroke-linecap="round"/>
<path d="M683.43 1807.9C686.07 1807.9 694.67 1807.63 699.3 1807.9C703.93 1808.16 707.24 1809.15 711.21 1809.48C715.17 1809.81 719.14 1809.88 723.11 1809.88C727.08 1809.88 731.87 1809.32 735.02 1809.48C738.16 1809.65 739.65 1811.2 741.96 1810.87C744.28 1810.54 746.59 1810.05 748.9 1807.5C751.22 1804.95 753.53 1801.38 755.85 1795.6C758.16 1789.81 760.31 1782.53 762.79 1772.78C765.27 1763.02 768.08 1749.3 770.73 1737.06C773.38 1724.83 776.19 1707.57 778.67 1699.37C781.15 1691.16 783.3 1688.19 785.61 1687.86C787.93 1687.53 790.41 1691.16 792.56 1697.38C794.71 1703.6 796.19 1713.58 798.51 1725.16C800.82 1736.73 803.8 1755.58 806.44 1766.83C809.09 1778.07 811.9 1786.01 814.38 1792.62C816.86 1799.23 818.68 1803.7 821.33 1806.51C823.97 1809.32 827.77 1808.99 830.25 1809.48C832.73 1809.98 833.56 1809.25 836.21 1809.48C838.85 1809.72 841.5 1810.64 846.13 1810.87C850.76 1811.1 859.35 1811.1 863.98 1810.87C868.61 1810.64 870.1 1809.72 873.9 1809.48C877.71 1809.25 884.65 1809.48 886.8 1809.48" fill="none" stroke="#fb3fe8" stroke-width="3" stroke-linejoin="round" stroke-linecap="round"/>
<path d="M381.35 1953.17 H598.77" stroke="#a3a3a3" stroke-width="1.3" fill="none"/>
<text x="368.05" y="1961.07" font-size="22" fill="#000" text-anchor="end" >1</text>
<path d="M381.35 1987.9 H598.77" stroke="#a3a3a3" stroke-width="1.3" fill="none"/>
<text x="368.05" y="1995.8" font-size="22" fill="#000" text-anchor="end" >0.8</text>
<path d="M381.35 2023.02 H598.77" stroke="#a3a3a3" stroke-width="1.3" fill="none"/>
<text x="368.05" y="2030.92" font-size="22" fill="#000" text-anchor="end" >0.6</text>
<path d="M381.35 2057.94 H598.77" stroke="#a3a3a3" stroke-width="1.3" fill="none"/>
<text x="368.05" y="2065.84" font-size="22" fill="#000" text-anchor="end" >0.4</text>
<path d="M381.35 2092.66 H598.77" stroke="#a3a3a3" stroke-width="1.3" fill="none"/>
<text x="368.05" y="2100.56" font-size="22" fill="#000" text-anchor="end" >0.2</text>
<path d="M381.35 2127.18 H598.77" stroke="#a3a3a3" stroke-width="1.3" fill="none"/>
<text x="368.05" y="2135.08" font-size="22" fill="#000" text-anchor="end" >0</text>
<path d="M388.85 1953.17 V2132.18" stroke="#a3a3a3" stroke-width="1.3" fill="none"/>
<path d="M388.85 2127.18v5M395.85 2127.18v5M402.84 2127.18v5M409.84 2127.18v5M416.84 2127.18v5M423.84 2127.18v5M430.83 2127.18v5M437.83 2127.18v5M444.83 2127.18v5M451.83 2127.18v5M458.82 2127.18v5M465.82 2127.18v5M472.82 2127.18v5M479.81 2127.18v5M486.81 2127.18v5M493.81 2127.18v5M500.81 2127.18v5M507.8 2127.18v5M514.8 2127.18v5M521.8 2127.18v5M528.8 2127.18v5M535.79 2127.18v5M542.79 2127.18v5M549.79 2127.18v5M556.79 2127.18v5M563.78 2127.18v5M570.78 2127.18v5M577.78 2127.18v5M584.78 2127.18v5M591.77 2127.18v5M598.77 2127.18v5" stroke="#a3a3a3" stroke-width="1.1" fill="none"/>
<text x="399.95" y="2142.48" font-size="18.3" fill="#000" text-anchor="end" textLength="38" lengthAdjust="spacingAndGlyphs" transform="rotate(-90 399.95 2142.48)" >0.000</text>
<text x="420.94" y="2142.48" font-size="18.3" fill="#000" text-anchor="end" textLength="38" lengthAdjust="spacingAndGlyphs" transform="rotate(-90 420.94 2142.48)" >0.097</text>
<text x="441.93" y="2142.48" font-size="18.3" fill="#000" text-anchor="end" textLength="38" lengthAdjust="spacingAndGlyphs" transform="rotate(-90 441.93 2142.48)" >0.193</text>
<text x="462.92" y="2142.48" font-size="18.3" fill="#000" text-anchor="end" textLength="38" lengthAdjust="spacingAndGlyphs" transform="rotate(-90 462.92 2142.48)" >0.290</text>
<text x="483.92" y="2142.48" font-size="18.3" fill="#000" text-anchor="end" textLength="38" lengthAdjust="spacingAndGlyphs" transform="rotate(-90 483.92 2142.48)" >0.387</text>
<text x="504.91" y="2142.48" font-size="18.3" fill="#000" text-anchor="end" textLength="38" lengthAdjust="spacingAndGlyphs" transform="rotate(-90 504.91 2142.48)" >0.484</text>
<text x="525.9" y="2142.48" font-size="18.3" fill="#000" text-anchor="end" textLength="38" lengthAdjust="spacingAndGlyphs" transform="rotate(-90 525.9 2142.48)" >0.580</text>
<text x="546.89" y="2142.48" font-size="18.3" fill="#000" text-anchor="end" textLength="38" lengthAdjust="spacingAndGlyphs" transform="rotate(-90 546.89 2142.48)" >0.677</text>
<text x="567.88" y="2142.48" font-size="18.3" fill="#000" text-anchor="end" textLength="38" lengthAdjust="spacingAndGlyphs" transform="rotate(-90 567.88 2142.48)" >0.774</text>
<text x="588.88" y="2142.48" font-size="18.3" fill="#000" text-anchor="end" textLength="38" lengthAdjust="spacingAndGlyphs" transform="rotate(-90 588.88 2142.48)" >0.871</text>
<path d="M391.43 2078.57C392.75 2078.51 396.72 2077.94 399.37 2078.17C402.01 2078.41 404.66 2079.33 407.3 2079.96C409.95 2080.59 412.26 2081.51 415.24 2081.94C418.21 2082.37 421.85 2082.67 425.16 2082.54C428.47 2082.41 432.1 2081.65 435.08 2081.15C438.06 2080.65 440.54 2080.09 443.02 2079.56C445.5 2079.03 447.65 2079.46 449.96 2077.98C452.28 2076.49 454.59 2075.5 456.9 2070.63C459.22 2065.77 461.53 2058.07 463.85 2048.81C466.16 2039.55 468.31 2027.31 470.79 2015.08C473.27 2002.84 476.08 1985.38 478.73 1975.4C481.38 1965.41 484.19 1957.8 486.67 1955.16C489.15 1952.87 491.3 1954.5 493.61 1959.52C495.93 1964.55 498.24 1974.74 500.56 1985.32C502.87 1995.9 505.02 2010.28 507.5 2023.02C509.98 2035.75 512.96 2052.78 515.44 2061.71C517.92 2070.63 519.9 2073.61 522.38 2076.59C524.86 2079.56 527.67 2078.8 530.32 2079.56C532.96 2080.32 535.94 2080.89 538.25 2081.15C540.57 2081.42 541.89 2080.92 544.21 2081.15C546.52 2081.38 548.17 2082.31 552.14 2082.54C556.11 2082.77 563.06 2082.97 568.02 2082.54C572.98 2082.11 577.28 2080.39 581.9 2079.96C586.53 2079.53 593.48 2079.96 595.79 2079.96" fill="none" stroke="#fb3fe8" stroke-width="3" stroke-linejoin="round" stroke-linecap="round"/>
<path d="M391.43 2019.64C392.75 2019.94 396.72 2021.13 399.37 2021.43C402.01 2021.73 404.82 2021.73 407.3 2021.43C409.78 2021.13 411.93 2020.87 414.25 2019.64C416.56 2018.42 418.88 2016.01 421.19 2014.09C423.51 2012.17 425.82 2010.12 428.13 2008.13C430.45 2006.15 432.76 2004.33 435.08 2002.18C437.39 2000.03 439.71 1998.05 442.02 1995.24C444.34 1992.43 446.49 1989.62 448.97 1985.32C451.45 1981.02 454.26 1973.91 456.9 1969.44C459.55 1964.98 462.2 1961.01 464.84 1958.53C467.49 1956.05 470.13 1955.29 472.78 1954.56C475.42 1953.84 478.07 1954.4 480.71 1954.17C483.36 1953.94 486.34 1953.27 488.65 1953.17C490.97 1953.08 492.45 1953.01 494.6 1953.57C496.75 1954.13 499.23 1954.4 501.55 1956.55C503.86 1958.7 506.18 1962.33 508.49 1966.47C510.81 1970.6 513.12 1975.89 515.44 1981.35C517.75 1986.81 519.9 1992.59 522.38 1999.21C524.86 2005.82 527.67 2014.09 530.32 2021.03C532.96 2027.98 535.77 2035.09 538.25 2040.87C540.73 2046.66 542.88 2051.95 545.2 2055.75C547.51 2059.56 549.66 2061.61 552.14 2063.69C554.62 2065.77 557.43 2067.82 560.08 2068.25C562.72 2068.68 565.37 2067.2 568.02 2066.27C570.66 2065.34 573.64 2063.79 575.95 2062.7C578.27 2061.61 579.59 2060.55 581.9 2059.72C584.22 2058.9 587.53 2058.23 589.84 2057.74C592.16 2057.24 594.8 2056.91 595.79 2056.75" fill="none" stroke="#65b40c" stroke-width="3" stroke-linejoin="round" stroke-linecap="round"/>
<path d="M673.94 1953.17 H891.37" stroke="#a3a3a3" stroke-width="1.3" fill="none"/>
<text x="660.64" y="1961.07" font-size="22" fill="#000" text-anchor="end" >1</text>
<path d="M673.94 1988.29 H891.37" stroke="#a3a3a3" stroke-width="1.3" fill="none"/>
<text x="660.64" y="1996.19" font-size="22" fill="#000" text-anchor="end" >0.8</text>
<path d="M673.94 2023.41 H891.37" stroke="#a3a3a3" stroke-width="1.3" fill="none"/>
<text x="660.64" y="2031.31" font-size="22" fill="#000" text-anchor="end" >0.6</text>
<path d="M673.94 2058.13 H891.37" stroke="#a3a3a3" stroke-width="1.3" fill="none"/>
<text x="660.64" y="2066.03" font-size="22" fill="#000" text-anchor="end" >0.4</text>
<path d="M673.94 2093.06 H891.37" stroke="#a3a3a3" stroke-width="1.3" fill="none"/>
<text x="660.64" y="2100.96" font-size="22" fill="#000" text-anchor="end" >0.2</text>
<path d="M673.94 2127.58 H891.37" stroke="#a3a3a3" stroke-width="1.3" fill="none"/>
<text x="660.64" y="2135.48" font-size="22" fill="#000" text-anchor="end" >0</text>
<path d="M681.44 1953.17 V2132.58" stroke="#a3a3a3" stroke-width="1.3" fill="none"/>
<path d="M681.44 2127.58v5M688.44 2127.58v5M695.44 2127.58v5M702.44 2127.58v5M709.43 2127.58v5M716.43 2127.58v5M723.43 2127.58v5M730.43 2127.58v5M737.42 2127.58v5M744.42 2127.58v5M751.42 2127.58v5M758.42 2127.58v5M765.41 2127.58v5M772.41 2127.58v5M779.41 2127.58v5M786.4 2127.58v5M793.4 2127.58v5M800.4 2127.58v5M807.4 2127.58v5M814.39 2127.58v5M821.39 2127.58v5M828.39 2127.58v5M835.39 2127.58v5M842.38 2127.58v5M849.38 2127.58v5M856.38 2127.58v5M863.38 2127.58v5M870.37 2127.58v5M877.37 2127.58v5M884.37 2127.58v5M891.37 2127.58v5" stroke="#a3a3a3" stroke-width="1.1" fill="none"/>
<text x="692.54" y="2142.88" font-size="18.3" fill="#000" text-anchor="end" textLength="38" lengthAdjust="spacingAndGlyphs" transform="rotate(-90 692.54 2142.88)" >0.000</text>
<text x="713.54" y="2142.88" font-size="18.3" fill="#000" text-anchor="end" textLength="38" lengthAdjust="spacingAndGlyphs" transform="rotate(-90 713.54 2142.88)" >0.097</text>
<text x="734.53" y="2142.88" font-size="18.3" fill="#000" text-anchor="end" textLength="38" lengthAdjust="spacingAndGlyphs" transform="rotate(-90 734.53 2142.88)" >0.193</text>
<text x="755.52" y="2142.88" font-size="18.3" fill="#000" text-anchor="end" textLength="38" lengthAdjust="spacingAndGlyphs" transform="rotate(-90 755.52 2142.88)" >0.290</text>
<text x="776.51" y="2142.88" font-size="18.3" fill="#000" text-anchor="end" textLength="38" lengthAdjust="spacingAndGlyphs" transform="rotate(-90 776.51 2142.88)" >0.387</text>
<text x="797.5" y="2142.88" font-size="18.3" fill="#000" text-anchor="end" textLength="38" lengthAdjust="spacingAndGlyphs" transform="rotate(-90 797.5 2142.88)" >0.484</text>
<text x="818.5" y="2142.88" font-size="18.3" fill="#000" text-anchor="end" textLength="38" lengthAdjust="spacingAndGlyphs" transform="rotate(-90 818.5 2142.88)" >0.580</text>
<text x="839.49" y="2142.88" font-size="18.3" fill="#000" text-anchor="end" textLength="38" lengthAdjust="spacingAndGlyphs" transform="rotate(-90 839.49 2142.88)" >0.677</text>
<text x="860.48" y="2142.88" font-size="18.3" fill="#000" text-anchor="end" textLength="38" lengthAdjust="spacingAndGlyphs" transform="rotate(-90 860.48 2142.88)" >0.774</text>
<text x="881.47" y="2142.88" font-size="18.3" fill="#000" text-anchor="end" textLength="38" lengthAdjust="spacingAndGlyphs" transform="rotate(-90 881.47 2142.88)" >0.871</text>
<path d="M684.42 2039.48C685.91 2039.48 690.7 2039.25 693.35 2039.48C695.99 2039.72 696.66 2040.64 700.29 2040.87C703.93 2041.1 710.38 2040.87 715.17 2040.87C719.97 2040.87 725.76 2041.1 729.06 2040.87C732.37 2040.64 731.71 2039.72 735.02 2039.48C738.32 2039.25 745.27 2039.48 748.9 2039.48C752.54 2039.48 754.2 2040.24 756.84 2039.48C759.49 2038.72 762.46 2038.33 764.78 2034.92C767.09 2031.51 768.42 2026.65 770.73 2019.05C773.04 2011.44 776.02 1998.88 778.67 1989.29C781.31 1979.7 784.12 1967.53 786.6 1961.51C789.08 1955.49 791.23 1952.87 793.55 1953.17C795.86 1953.51 798.18 1957.8 800.49 1963.49C802.81 1969.18 804.96 1978.7 807.44 1987.3C809.92 1995.9 812.89 2008.13 815.37 2015.08C817.85 2022.02 819.84 2025.93 822.32 2028.97C824.8 2032.01 827.77 2032.61 830.25 2033.33C832.73 2034.06 834.88 2033.07 837.2 2033.33C839.51 2033.6 841.66 2034.16 844.14 2034.92C846.62 2035.68 849.43 2036.9 852.08 2037.9C854.72 2038.89 857.37 2040.15 860.02 2040.87C862.66 2041.6 865.31 2042.03 867.95 2042.26C870.6 2042.49 872.58 2042.26 875.89 2042.26C879.2 2042.26 885.81 2042.26 887.79 2042.26" fill="none" stroke="#fb3fe8" stroke-width="3" stroke-linejoin="round" stroke-linecap="round"/>
<path d="M684.42 2075.99C685.58 2075.26 688.88 2072.69 691.37 2071.63C693.85 2070.57 696.82 2069.74 699.3 2069.64C701.78 2069.54 703.93 2070.8 706.25 2071.03C708.56 2071.26 710.88 2071.26 713.19 2071.03C715.51 2070.8 717.82 2070.7 720.13 2069.64C722.45 2068.58 724.6 2066.5 727.08 2064.68C729.56 2062.86 732.54 2061.21 735.02 2058.73C737.5 2056.25 739.65 2053.11 741.96 2049.8C744.28 2046.49 746.59 2043.68 748.9 2038.89C751.22 2034.09 753.53 2027.65 755.85 2021.03C758.16 2014.42 760.31 2006.81 762.79 1999.21C765.27 1991.6 768.08 1982.01 770.73 1975.4C773.38 1968.78 776.02 1963.23 778.67 1959.52C781.31 1955.82 784.12 1952.87 786.6 1953.17C789.08 1953.51 791.23 1957.14 793.55 1961.51C795.86 1965.87 798.18 1972.09 800.49 1979.37C802.81 1986.64 804.96 1995.9 807.44 2005.16C809.92 2014.42 812.89 2027.65 815.37 2034.92C817.85 2042.2 819.84 2046.16 822.32 2048.81C824.8 2051.46 827.77 2050.96 830.25 2050.79C832.73 2050.63 834.88 2048.08 837.2 2047.82C839.51 2047.55 841.66 2048.45 844.14 2049.21C846.62 2049.97 849.6 2051.85 852.08 2052.38C854.56 2052.91 856.71 2053.47 859.02 2052.38C861.34 2051.29 863.49 2047.75 865.97 2045.83C868.45 2043.92 871.42 2040.71 873.9 2040.87C876.38 2041.04 878.53 2043.85 880.85 2046.83C883.16 2049.8 886.64 2056.75 887.79 2058.73" fill="none" stroke="#65b40c" stroke-width="3" stroke-linejoin="round" stroke-linecap="round"/>
<path d="M380.95 2217.62 H597.78" stroke="#a3a3a3" stroke-width="1.3" fill="none"/>
<text x="367.65" y="2225.52" font-size="22" fill="#000" text-anchor="end" >1</text>
<path d="M380.95 2252.34 H597.78" stroke="#a3a3a3" stroke-width="1.3" fill="none"/>
<text x="367.65" y="2260.24" font-size="22" fill="#000" text-anchor="end" >0.8</text>
<path d="M380.95 2287.46 H597.78" stroke="#a3a3a3" stroke-width="1.3" fill="none"/>
<text x="367.65" y="2295.36" font-size="22" fill="#000" text-anchor="end" >0.6</text>
<path d="M380.95 2322.18 H597.78" stroke="#a3a3a3" stroke-width="1.3" fill="none"/>
<text x="367.65" y="2330.08" font-size="22" fill="#000" text-anchor="end" >0.4</text>
<path d="M380.95 2356.9 H597.78" stroke="#a3a3a3" stroke-width="1.3" fill="none"/>
<text x="367.65" y="2364.8" font-size="22" fill="#000" text-anchor="end" >0.2</text>
<path d="M380.95 2391.63 H597.78" stroke="#a3a3a3" stroke-width="1.3" fill="none"/>
<text x="367.65" y="2399.53" font-size="22" fill="#000" text-anchor="end" >0</text>
<path d="M388.45 2217.62 V2396.63" stroke="#a3a3a3" stroke-width="1.3" fill="none"/>
<path d="M388.45 2391.63v5M395.43 2391.63v5M402.41 2391.63v5M409.38 2391.63v5M416.36 2391.63v5M423.34 2391.63v5M430.32 2391.63v5M437.29 2391.63v5M444.27 2391.63v5M451.25 2391.63v5M458.23 2391.63v5M465.21 2391.63v5M472.18 2391.63v5M479.16 2391.63v5M486.14 2391.63v5M493.12 2391.63v5M500.09 2391.63v5M507.07 2391.63v5M514.05 2391.63v5M521.03 2391.63v5M528 2391.63v5M534.98 2391.63v5M541.96 2391.63v5M548.94 2391.63v5M555.91 2391.63v5M562.89 2391.63v5M569.87 2391.63v5M576.85 2391.63v5M583.82 2391.63v5M590.8 2391.63v5M597.78 2391.63v5" stroke="#a3a3a3" stroke-width="1.1" fill="none"/>
<text x="399.54" y="2406.93" font-size="18.3" fill="#000" text-anchor="end" textLength="38" lengthAdjust="spacingAndGlyphs" transform="rotate(-90 399.54 2406.93)" >0.000</text>
<text x="420.47" y="2406.93" font-size="18.3" fill="#000" text-anchor="end" textLength="38" lengthAdjust="spacingAndGlyphs" transform="rotate(-90 420.47 2406.93)" >0.097</text>
<text x="441.41" y="2406.93" font-size="18.3" fill="#000" text-anchor="end" textLength="38" lengthAdjust="spacingAndGlyphs" transform="rotate(-90 441.41 2406.93)" >0.193</text>
<text x="462.34" y="2406.93" font-size="18.3" fill="#000" text-anchor="end" textLength="38" lengthAdjust="spacingAndGlyphs" transform="rotate(-90 462.34 2406.93)" >0.290</text>
<text x="483.27" y="2406.93" font-size="18.3" fill="#000" text-anchor="end" textLength="38" lengthAdjust="spacingAndGlyphs" transform="rotate(-90 483.27 2406.93)" >0.387</text>
<text x="504.2" y="2406.93" font-size="18.3" fill="#000" text-anchor="end" textLength="38" lengthAdjust="spacingAndGlyphs" transform="rotate(-90 504.2 2406.93)" >0.484</text>
<text x="525.14" y="2406.93" font-size="18.3" fill="#000" text-anchor="end" textLength="38" lengthAdjust="spacingAndGlyphs" transform="rotate(-90 525.14 2406.93)" >0.580</text>
<text x="546.07" y="2406.93" font-size="18.3" fill="#000" text-anchor="end" textLength="38" lengthAdjust="spacingAndGlyphs" transform="rotate(-90 546.07 2406.93)" >0.677</text>
<text x="567" y="2406.93" font-size="18.3" fill="#000" text-anchor="end" textLength="38" lengthAdjust="spacingAndGlyphs" transform="rotate(-90 567 2406.93)" >0.774</text>
<text x="587.93" y="2406.93" font-size="18.3" fill="#000" text-anchor="end" textLength="38" lengthAdjust="spacingAndGlyphs" transform="rotate(-90 587.93 2406.93)" >0.871</text>
<path d="M391.43 2296.98C392.75 2297.25 396.72 2297.98 399.37 2298.57C402.01 2299.17 404.99 2299.99 407.3 2300.56C409.62 2301.12 411.1 2302.21 413.25 2301.94C415.4 2301.68 417.72 2300.62 420.2 2298.97C422.68 2297.31 425.65 2294.5 428.13 2292.02C430.62 2289.54 432.76 2285.84 435.08 2284.09C437.39 2282.33 439.71 2281.51 442.02 2281.51C444.34 2281.51 446.49 2283.16 448.97 2284.09C451.45 2285.01 454.42 2287.89 456.9 2287.06C459.38 2286.24 461.53 2284.42 463.85 2279.13C466.16 2273.84 468.31 2263.25 470.79 2255.32C473.27 2247.38 476.25 2237.79 478.73 2231.51C481.21 2225.22 483.36 2219.27 485.67 2217.62C487.99 2217.32 490.3 2217.95 492.62 2221.59C494.93 2225.22 497.08 2232.5 499.56 2239.44C502.04 2246.39 504.85 2256.97 507.5 2263.25C510.15 2269.54 512.96 2273.84 515.44 2277.14C517.92 2280.45 519.9 2281.44 522.38 2283.1C524.86 2284.75 527.84 2285.91 530.32 2287.06C532.8 2288.22 534.95 2288.78 537.26 2290.04C539.58 2291.3 541.73 2293.38 544.21 2294.6C546.69 2295.83 549.5 2296.92 552.14 2297.38C554.79 2297.84 557.6 2297.61 560.08 2297.38C562.56 2297.15 564.38 2296.22 567.02 2295.99C569.67 2295.76 572.48 2295.99 575.95 2295.99C579.42 2295.99 584.72 2295.73 587.86 2295.99C591 2296.26 593.64 2297.31 594.8 2297.58" fill="none" stroke="#fb3fe8" stroke-width="3" stroke-linejoin="round" stroke-linecap="round"/>
<path d="M391.43 2344.21C392.59 2343.94 396.06 2343.54 398.37 2342.62C400.69 2341.69 402.84 2341.3 405.32 2338.65C407.8 2336.01 410.77 2330.71 413.25 2326.75C415.73 2322.78 417.72 2318.21 420.2 2314.84C422.68 2311.47 425.65 2308.43 428.13 2306.51C430.62 2304.59 432.76 2303.86 435.08 2303.33C437.39 2302.8 439.71 2303.07 442.02 2303.33C444.34 2303.6 446.49 2305.15 448.97 2304.92C451.45 2304.69 454.42 2303.93 456.9 2301.94C459.38 2299.96 461.53 2297.48 463.85 2293.02C466.16 2288.55 468.31 2282.1 470.79 2275.16C473.27 2268.21 476.25 2258.62 478.73 2251.35C481.21 2244.07 483.36 2236.96 485.67 2231.51C487.99 2226.05 490.3 2220.93 492.62 2218.61C494.93 2217.32 497.08 2217.32 499.56 2217.62C502.04 2221.75 504.85 2233.16 507.5 2243.41C510.15 2253.66 512.96 2267.88 515.44 2279.13C517.92 2290.37 520.07 2301.78 522.38 2310.87C524.7 2319.97 527.01 2328.9 529.33 2333.69C531.64 2338.49 533.79 2339.81 536.27 2339.64C538.75 2339.48 541.56 2335.01 544.21 2332.7C546.85 2330.38 549.66 2327.34 552.14 2325.75C554.62 2324.17 556.77 2323.01 559.09 2323.17C561.4 2323.34 563.55 2324.83 566.03 2326.75C568.51 2328.66 571.32 2332.3 573.97 2334.68C576.61 2337.06 579.42 2339.54 581.9 2341.03C584.38 2342.52 586.7 2342.85 588.85 2343.61C591 2344.37 593.81 2345.26 594.8 2345.6" fill="none" stroke="#65b40c" stroke-width="3" stroke-linejoin="round" stroke-linecap="round"/>
<path d="M672.56 2217.62 H889.38" stroke="#a3a3a3" stroke-width="1.3" fill="none"/>
<text x="659.26" y="2225.52" font-size="22" fill="#000" text-anchor="end" >1</text>
<path d="M672.56 2252.34 H889.38" stroke="#a3a3a3" stroke-width="1.3" fill="none"/>
<text x="659.26" y="2260.24" font-size="22" fill="#000" text-anchor="end" >0.8</text>
<path d="M672.56 2287.46 H889.38" stroke="#a3a3a3" stroke-width="1.3" fill="none"/>
<text x="659.26" y="2295.36" font-size="22" fill="#000" text-anchor="end" >0.6</text>
<path d="M672.56 2322.18 H889.38" stroke="#a3a3a3" stroke-width="1.3" fill="none"/>
<text x="659.26" y="2330.08" font-size="22" fill="#000" text-anchor="end" >0.4</text>
<path d="M672.56 2356.9 H889.38" stroke="#a3a3a3" stroke-width="1.3" fill="none"/>
<text x="659.26" y="2364.8" font-size="22" fill="#000" text-anchor="end" >0.2</text>
<path d="M672.56 2391.63 H889.38" stroke="#a3a3a3" stroke-width="1.3" fill="none"/>
<text x="659.26" y="2399.53" font-size="22" fill="#000" text-anchor="end" >0</text>
<path d="M680.06 2217.62 V2396.63" stroke="#a3a3a3" stroke-width="1.3" fill="none"/>
<path d="M680.06 2391.63v5M687.03 2391.63v5M694.01 2391.63v5M700.99 2391.63v5M707.97 2391.63v5M714.94 2391.63v5M721.92 2391.63v5M728.9 2391.63v5M735.88 2391.63v5M742.85 2391.63v5M749.83 2391.63v5M756.81 2391.63v5M763.79 2391.63v5M770.76 2391.63v5M777.74 2391.63v5M784.72 2391.63v5M791.7 2391.63v5M798.67 2391.63v5M805.65 2391.63v5M812.63 2391.63v5M819.61 2391.63v5M826.58 2391.63v5M833.56 2391.63v5M840.54 2391.63v5M847.52 2391.63v5M854.49 2391.63v5M861.47 2391.63v5M868.45 2391.63v5M875.43 2391.63v5M882.4 2391.63v5M889.38 2391.63v5" stroke="#a3a3a3" stroke-width="1.1" fill="none"/>
<text x="691.14" y="2406.93" font-size="18.3" fill="#000" text-anchor="end" textLength="38" lengthAdjust="spacingAndGlyphs" transform="rotate(-90 691.14 2406.93)" >0.000</text>
<text x="712.08" y="2406.93" font-size="18.3" fill="#000" text-anchor="end" textLength="38" lengthAdjust="spacingAndGlyphs" transform="rotate(-90 712.08 2406.93)" >0.097</text>
<text x="733.01" y="2406.93" font-size="18.3" fill="#000" text-anchor="end" textLength="38" lengthAdjust="spacingAndGlyphs" transform="rotate(-90 733.01 2406.93)" >0.193</text>
<text x="753.94" y="2406.93" font-size="18.3" fill="#000" text-anchor="end" textLength="38" lengthAdjust="spacingAndGlyphs" transform="rotate(-90 753.94 2406.93)" >0.290</text>
<text x="774.87" y="2406.93" font-size="18.3" fill="#000" text-anchor="end" textLength="38" lengthAdjust="spacingAndGlyphs" transform="rotate(-90 774.87 2406.93)" >0.387</text>
<text x="795.81" y="2406.93" font-size="18.3" fill="#000" text-anchor="end" textLength="38" lengthAdjust="spacingAndGlyphs" transform="rotate(-90 795.81 2406.93)" >0.484</text>
<text x="816.74" y="2406.93" font-size="18.3" fill="#000" text-anchor="end" textLength="38" lengthAdjust="spacingAndGlyphs" transform="rotate(-90 816.74 2406.93)" >0.580</text>
<text x="837.67" y="2406.93" font-size="18.3" fill="#000" text-anchor="end" textLength="38" lengthAdjust="spacingAndGlyphs" transform="rotate(-90 837.67 2406.93)" >0.677</text>
<text x="858.6" y="2406.93" font-size="18.3" fill="#000" text-anchor="end" textLength="38" lengthAdjust="spacingAndGlyphs" transform="rotate(-90 858.6 2406.93)" >0.774</text>
<text x="879.54" y="2406.93" font-size="18.3" fill="#000" text-anchor="end" textLength="38" lengthAdjust="spacingAndGlyphs" transform="rotate(-90 879.54 2406.93)" >0.871</text>
<path d="M682.44 2339.64C686.07 2339.64 698.14 2339.15 704.26 2339.64C710.38 2340.14 714.35 2342.12 719.14 2342.62C723.94 2343.12 729.39 2343.12 733.03 2342.62C736.67 2342.12 738.32 2340.7 740.97 2339.64C743.61 2338.58 746.42 2337.82 748.9 2336.27C751.38 2334.72 753.53 2333.39 755.85 2330.32C758.16 2327.24 760.31 2324.37 762.79 2317.82C765.27 2311.27 768.25 2300.79 770.73 2291.03C773.21 2281.28 775.36 2269.87 777.67 2259.29C779.99 2248.7 782.3 2234.48 784.62 2227.54C786.93 2220.6 789.08 2217.32 791.56 2217.62C794.04 2219.27 797.02 2228.86 799.5 2237.46C801.98 2246.06 803.96 2257.96 806.44 2269.21C808.92 2280.45 811.9 2295 814.38 2304.92C816.86 2314.84 818.85 2323.11 821.33 2328.73C823.81 2334.35 826.78 2336.6 829.26 2338.65C831.74 2340.7 833.73 2340.37 836.21 2341.03C838.69 2341.69 839.51 2342.35 844.14 2342.62C848.77 2342.88 859.35 2342.88 863.98 2342.62C868.61 2342.35 869.28 2341.53 871.92 2341.03C874.57 2340.54 877.38 2339.87 879.86 2339.64C882.34 2339.41 885.64 2339.64 886.8 2339.64" fill="none" stroke="#fb3fe8" stroke-width="3" stroke-linejoin="round" stroke-linecap="round"/>
<path d="M682.44 2332.3C683.76 2332.04 687.89 2331.21 690.37 2330.71C692.85 2330.22 695 2329.56 697.32 2329.33C699.63 2329.09 701.78 2329.03 704.26 2329.33C706.74 2329.62 709.72 2330.55 712.2 2331.11C714.68 2331.67 716.66 2333.26 719.14 2332.7C721.62 2332.14 724.6 2330.55 727.08 2327.74C729.56 2324.93 731.71 2321.95 734.02 2315.83C736.34 2309.72 738.49 2300.79 740.97 2291.03C743.45 2281.28 746.42 2266.4 748.9 2257.3C751.38 2248.21 753.53 2241.59 755.85 2236.47C758.16 2231.34 760.31 2228.53 762.79 2226.55C765.27 2224.56 768.25 2225.56 770.73 2224.56C773.21 2223.57 775.36 2221.75 777.67 2220.6C779.99 2219.44 782.3 2217.52 784.62 2217.62C786.93 2217.72 789.08 2218.21 791.56 2221.19C794.04 2224.17 796.85 2230.45 799.5 2235.48C802.15 2240.5 804.96 2246.88 807.44 2251.35C809.92 2255.81 812.07 2258.62 814.38 2262.26C816.7 2265.9 818.85 2268.71 821.33 2273.17C823.81 2277.64 826.78 2283.76 829.26 2289.05C831.74 2294.34 833.89 2299.96 836.21 2304.92C838.52 2309.88 840.84 2315.73 843.15 2318.81C845.47 2321.88 847.62 2323.37 850.1 2323.37C852.58 2323.37 855.55 2320.23 858.03 2318.81C860.51 2317.39 862.5 2316 864.98 2314.84C867.46 2313.68 870.43 2312.36 872.91 2311.87C875.39 2311.37 877.54 2311.04 879.86 2311.87C882.17 2312.69 885.64 2316 886.8 2316.83" fill="none" stroke="#65b40c" stroke-width="3" stroke-linejoin="round" stroke-linecap="round"/>
<path d="M1049.37 1688.06 H1270.75" stroke="#a3a3a3" stroke-width="1.3" fill="none"/>
<text x="1036.07" y="1695.96" font-size="22" fill="#000" text-anchor="end" >1</text>
<path d="M1049.37 1722.18 H1270.75" stroke="#a3a3a3" stroke-width="1.3" fill="none"/>
<text x="1036.07" y="1730.08" font-size="22" fill="#000" text-anchor="end" >0.8</text>
<path d="M1049.37 1756.11 H1270.75" stroke="#a3a3a3" stroke-width="1.3" fill="none"/>
<text x="1036.07" y="1764.01" font-size="22" fill="#000" text-anchor="end" >0.6</text>
<path d="M1049.37 1790.04 H1270.75" stroke="#a3a3a3" stroke-width="1.3" fill="none"/>
<text x="1036.07" y="1797.94" font-size="22" fill="#000" text-anchor="end" >0.4</text>
<path d="M1049.37 1824.96 H1270.75" stroke="#a3a3a3" stroke-width="1.3" fill="none"/>
<text x="1036.07" y="1832.86" font-size="22" fill="#000" text-anchor="end" >0.2</text>
<path d="M1049.37 1859.09 H1270.75" stroke="#a3a3a3" stroke-width="1.3" fill="none"/>
<text x="1036.07" y="1866.99" font-size="22" fill="#000" text-anchor="end" >0</text>
<path d="M1056.87 1688.06 V1864.09" stroke="#a3a3a3" stroke-width="1.3" fill="none"/>
<path d="M1056.87 1859.09v5M1064.5 1859.09v5M1072.14 1859.09v5M1079.78 1859.09v5M1087.42 1859.09v5M1095.06 1859.09v5M1102.7 1859.09v5M1110.34 1859.09v5M1117.98 1859.09v5M1125.62 1859.09v5M1133.25 1859.09v5M1140.89 1859.09v5M1148.53 1859.09v5M1156.17 1859.09v5M1163.81 1859.09v5M1171.45 1859.09v5M1179.09 1859.09v5M1186.73 1859.09v5M1194.37 1859.09v5M1202 1859.09v5M1209.64 1859.09v5M1217.28 1859.09v5M1224.92 1859.09v5M1232.56 1859.09v5M1240.2 1859.09v5M1247.84 1859.09v5M1255.48 1859.09v5M1263.12 1859.09v5M1270.75 1859.09v5" stroke="#a3a3a3" stroke-width="1.1" fill="none"/>
<text x="1068.28" y="1874.39" font-size="18.3" fill="#000" text-anchor="end" textLength="38" lengthAdjust="spacingAndGlyphs" transform="rotate(-90 1068.28 1874.39)" >0.000</text>
<text x="1091.2" y="1874.39" font-size="18.3" fill="#000" text-anchor="end" textLength="38" lengthAdjust="spacingAndGlyphs" transform="rotate(-90 1091.2 1874.39)" >0.097</text>
<text x="1114.12" y="1874.39" font-size="18.3" fill="#000" text-anchor="end" textLength="38" lengthAdjust="spacingAndGlyphs" transform="rotate(-90 1114.12 1874.39)" >0.193</text>
<text x="1137.03" y="1874.39" font-size="18.3" fill="#000" text-anchor="end" textLength="38" lengthAdjust="spacingAndGlyphs" transform="rotate(-90 1137.03 1874.39)" >0.290</text>
<text x="1159.95" y="1874.39" font-size="18.3" fill="#000" text-anchor="end" textLength="38" lengthAdjust="spacingAndGlyphs" transform="rotate(-90 1159.95 1874.39)" >0.387</text>
<text x="1182.87" y="1874.39" font-size="18.3" fill="#000" text-anchor="end" textLength="38" lengthAdjust="spacingAndGlyphs" transform="rotate(-90 1182.87 1874.39)" >0.484</text>
<text x="1205.78" y="1874.39" font-size="18.3" fill="#000" text-anchor="end" textLength="38" lengthAdjust="spacingAndGlyphs" transform="rotate(-90 1205.78 1874.39)" >0.580</text>
<text x="1228.7" y="1874.39" font-size="18.3" fill="#000" text-anchor="end" textLength="38" lengthAdjust="spacingAndGlyphs" transform="rotate(-90 1228.7 1874.39)" >0.677</text>
<text x="1251.62" y="1874.39" font-size="18.3" fill="#000" text-anchor="end" textLength="38" lengthAdjust="spacingAndGlyphs" transform="rotate(-90 1251.62 1874.39)" >0.774</text>
<text x="1274.53" y="1874.39" font-size="18.3" fill="#000" text-anchor="end" textLength="38" lengthAdjust="spacingAndGlyphs" transform="rotate(-90 1274.53 1874.39)" >0.871</text>
<path d="M1061.03 1797.18C1062.26 1797.18 1065.99 1796.95 1068.37 1797.18C1070.75 1797.41 1072.84 1798.08 1075.32 1798.57C1077.8 1799.07 1079.29 1799.89 1083.25 1800.16C1087.22 1800.42 1095.16 1800.16 1099.13 1800.16C1103.1 1800.16 1104.42 1800.42 1107.06 1800.16C1109.71 1799.89 1112.52 1799.07 1115 1798.57C1117.48 1798.08 1119.46 1798.67 1121.94 1797.18C1124.42 1795.69 1127.4 1793.71 1129.88 1789.64C1132.36 1785.58 1134.35 1780.55 1136.83 1772.78C1139.31 1765.01 1142.12 1753.27 1144.76 1743.02C1147.41 1732.76 1150.05 1720.2 1152.7 1711.27C1155.34 1702.34 1158.15 1693.25 1160.63 1689.44C1163.12 1687.76 1165.26 1687.76 1167.58 1688.45C1169.89 1692.42 1172.04 1703.5 1174.52 1713.25C1177 1723.01 1179.81 1736.73 1182.46 1746.98C1185.11 1757.24 1187.75 1766.83 1190.4 1774.76C1193.04 1782.7 1195.75 1790.14 1198.33 1794.6C1200.91 1799.07 1203.39 1800.62 1205.87 1801.55C1208.35 1802.47 1210.67 1800.65 1213.21 1800.16C1215.76 1799.66 1218.51 1799.07 1221.15 1798.57C1223.8 1798.08 1225.12 1797.41 1229.09 1797.18C1233.06 1796.95 1239.83 1797.18 1244.96 1797.18C1250.09 1797.18 1256.17 1796.95 1259.84 1797.18C1263.51 1797.41 1265.79 1798.34 1266.98 1798.57" fill="none" stroke="#fb3fe8" stroke-width="3" stroke-linejoin="round" stroke-linecap="round"/>
<path d="M1061.03 1800.56C1062.26 1798.9 1065.99 1795.26 1068.37 1790.63C1070.75 1786.01 1072.84 1778.73 1075.32 1772.78C1077.8 1766.83 1080.61 1759.22 1083.25 1754.92C1085.9 1750.62 1088.54 1748.57 1091.19 1746.98C1093.84 1745.4 1096.48 1745.89 1099.13 1745.4C1101.77 1744.9 1104.42 1745.89 1107.06 1744.01C1109.71 1742.12 1112.52 1738.55 1115 1734.09C1117.48 1729.62 1119.46 1723.51 1121.94 1717.22C1124.42 1710.94 1127.4 1701.25 1129.88 1696.39C1132.36 1691.53 1134.35 1688.06 1136.83 1688.06C1139.31 1688.06 1142.12 1690.87 1144.76 1696.39C1147.41 1701.91 1150.05 1713.42 1152.7 1721.19C1155.34 1728.96 1158.15 1737.79 1160.63 1743.02C1163.12 1748.24 1165.26 1750.56 1167.58 1752.54C1169.89 1754.52 1172.04 1755.35 1174.52 1754.92C1177 1754.49 1179.81 1751.55 1182.46 1749.96C1185.11 1748.37 1187.75 1747.71 1190.4 1745.4C1193.04 1743.08 1195.75 1738.95 1198.33 1736.07C1200.91 1733.19 1203.39 1729.23 1205.87 1728.13C1208.35 1727.04 1210.67 1726.38 1213.21 1729.52C1215.76 1732.67 1218.51 1741.1 1221.15 1746.98C1223.8 1752.87 1226.44 1759.55 1229.09 1764.84C1231.73 1770.13 1234.38 1775.49 1237.02 1778.73C1239.67 1781.97 1242.48 1783.13 1244.96 1784.29C1247.44 1785.44 1249.42 1785.21 1251.9 1785.67C1254.38 1786.14 1257.33 1786.83 1259.84 1787.06C1262.35 1787.29 1265.79 1787.06 1266.98 1787.06" fill="none" stroke="#65b40c" stroke-width="3" stroke-linejoin="round" stroke-linecap="round"/>
<path d="M1346.88 1688.06 H1568.07" stroke="#a3a3a3" stroke-width="1.3" fill="none"/>
<text x="1333.58" y="1695.96" font-size="22" fill="#000" text-anchor="end" >1</text>
<path d="M1346.88 1722.18 H1568.07" stroke="#a3a3a3" stroke-width="1.3" fill="none"/>
<text x="1333.58" y="1730.08" font-size="22" fill="#000" text-anchor="end" >0.8</text>
<path d="M1346.88 1756.11 H1568.07" stroke="#a3a3a3" stroke-width="1.3" fill="none"/>
<text x="1333.58" y="1764.01" font-size="22" fill="#000" text-anchor="end" >0.6</text>
<path d="M1346.88 1790.04 H1568.07" stroke="#a3a3a3" stroke-width="1.3" fill="none"/>
<text x="1333.58" y="1797.94" font-size="22" fill="#000" text-anchor="end" >0.4</text>
<path d="M1346.88 1824.96 H1568.07" stroke="#a3a3a3" stroke-width="1.3" fill="none"/>
<text x="1333.58" y="1832.86" font-size="22" fill="#000" text-anchor="end" >0.2</text>
<path d="M1346.88 1859.09 H1568.07" stroke="#a3a3a3" stroke-width="1.3" fill="none"/>
<text x="1333.58" y="1866.99" font-size="22" fill="#000" text-anchor="end" >0</text>
<path d="M1354.38 1688.06 V1864.09" stroke="#a3a3a3" stroke-width="1.3" fill="none"/>
<path d="M1354.38 1859.09v5M1362.01 1859.09v5M1369.64 1859.09v5M1377.28 1859.09v5M1384.91 1859.09v5M1392.54 1859.09v5M1400.17 1859.09v5M1407.8 1859.09v5M1415.44 1859.09v5M1423.07 1859.09v5M1430.7 1859.09v5M1438.33 1859.09v5M1445.96 1859.09v5M1453.59 1859.09v5M1461.23 1859.09v5M1468.86 1859.09v5M1476.49 1859.09v5M1484.12 1859.09v5M1491.75 1859.09v5M1499.39 1859.09v5M1507.02 1859.09v5M1514.65 1859.09v5M1522.28 1859.09v5M1529.91 1859.09v5M1537.54 1859.09v5M1545.18 1859.09v5M1552.81 1859.09v5M1560.44 1859.09v5M1568.07 1859.09v5" stroke="#a3a3a3" stroke-width="1.1" fill="none"/>
<text x="1365.8" y="1874.39" font-size="18.3" fill="#000" text-anchor="end" textLength="38" lengthAdjust="spacingAndGlyphs" transform="rotate(-90 1365.8 1874.39)" >0.000</text>
<text x="1388.69" y="1874.39" font-size="18.3" fill="#000" text-anchor="end" textLength="38" lengthAdjust="spacingAndGlyphs" transform="rotate(-90 1388.69 1874.39)" >0.097</text>
<text x="1411.59" y="1874.39" font-size="18.3" fill="#000" text-anchor="end" textLength="38" lengthAdjust="spacingAndGlyphs" transform="rotate(-90 1411.59 1874.39)" >0.193</text>
<text x="1434.48" y="1874.39" font-size="18.3" fill="#000" text-anchor="end" textLength="38" lengthAdjust="spacingAndGlyphs" transform="rotate(-90 1434.48 1874.39)" >0.290</text>
<text x="1457.38" y="1874.39" font-size="18.3" fill="#000" text-anchor="end" textLength="38" lengthAdjust="spacingAndGlyphs" transform="rotate(-90 1457.38 1874.39)" >0.387</text>
<text x="1480.27" y="1874.39" font-size="18.3" fill="#000" text-anchor="end" textLength="38" lengthAdjust="spacingAndGlyphs" transform="rotate(-90 1480.27 1874.39)" >0.484</text>
<text x="1503.17" y="1874.39" font-size="18.3" fill="#000" text-anchor="end" textLength="38" lengthAdjust="spacingAndGlyphs" transform="rotate(-90 1503.17 1874.39)" >0.580</text>
<text x="1526.06" y="1874.39" font-size="18.3" fill="#000" text-anchor="end" textLength="38" lengthAdjust="spacingAndGlyphs" transform="rotate(-90 1526.06 1874.39)" >0.677</text>
<text x="1548.96" y="1874.39" font-size="18.3" fill="#000" text-anchor="end" textLength="38" lengthAdjust="spacingAndGlyphs" transform="rotate(-90 1548.96 1874.39)" >0.774</text>
<text x="1571.86" y="1874.39" font-size="18.3" fill="#000" text-anchor="end" textLength="38" lengthAdjust="spacingAndGlyphs" transform="rotate(-90 1571.86 1874.39)" >0.871</text>
<path d="M1358.35 1806.11C1359.67 1806.11 1363.64 1806.11 1366.29 1806.11C1368.93 1806.11 1371.74 1805.88 1374.22 1806.11C1376.7 1806.34 1378.85 1806.77 1381.17 1807.5C1383.48 1808.23 1385.63 1809.55 1388.11 1810.48C1390.59 1811.4 1393.4 1812.96 1396.05 1813.06C1398.69 1813.15 1401.34 1813.82 1403.98 1811.07C1406.63 1808.33 1409.44 1802.97 1411.92 1796.59C1414.4 1790.21 1416.38 1782.7 1418.87 1772.78C1421.35 1762.86 1424.16 1748.97 1426.8 1737.06C1429.45 1725.16 1432.09 1709.45 1434.74 1701.35C1437.38 1693.25 1440.13 1689.94 1442.67 1688.45C1445.22 1687.76 1447.54 1687.76 1450.02 1692.42C1452.5 1697.22 1454.98 1708.13 1457.56 1717.22C1460.13 1726.32 1463.01 1739.05 1465.49 1746.98C1467.97 1754.92 1469.96 1759.55 1472.44 1764.84C1474.92 1770.13 1477.73 1774.76 1480.37 1778.73C1483.02 1782.7 1485.66 1785.34 1488.31 1788.65C1490.96 1791.96 1493.77 1795.76 1496.25 1798.57C1498.73 1801.38 1500.71 1803.7 1503.19 1805.52C1505.67 1807.33 1508.65 1808.82 1511.13 1809.48C1513.61 1810.15 1515.59 1809.72 1518.07 1809.48C1520.55 1809.25 1523.36 1808.86 1526.01 1808.1C1528.65 1807.33 1531.3 1805.68 1533.94 1804.92C1536.59 1804.16 1539.24 1803.76 1541.88 1803.53C1544.53 1803.3 1547.34 1803.3 1549.82 1803.53C1552.3 1803.76 1554.35 1804.49 1556.76 1804.92C1559.18 1805.35 1563.04 1805.91 1564.3 1806.11" fill="none" stroke="#fb3fe8" stroke-width="3" stroke-linejoin="round" stroke-linecap="round"/>
<path d="M1358.35 1791.63C1359.51 1789.64 1362.81 1784.68 1365.29 1779.72C1367.77 1774.76 1370.58 1768.97 1373.23 1761.87C1375.88 1754.76 1378.69 1745.17 1381.17 1737.06C1383.65 1728.96 1385.63 1720.2 1388.11 1713.25C1390.59 1706.31 1393.4 1699.43 1396.05 1695.4C1398.69 1691.36 1401.34 1690.21 1403.98 1689.05C1406.63 1687.89 1409.44 1687.89 1411.92 1688.45C1414.4 1689.01 1416.38 1690.44 1418.87 1692.42C1421.35 1694.4 1424.16 1696.88 1426.8 1700.36C1429.45 1703.83 1432.09 1708.29 1434.74 1713.25C1437.38 1718.21 1440.13 1724 1442.67 1730.12C1445.22 1736.24 1447.54 1745.83 1450.02 1749.96C1452.5 1754.09 1454.98 1755.91 1457.56 1754.92C1460.13 1753.93 1463.01 1748.97 1465.49 1744.01C1467.97 1739.05 1469.96 1731.61 1472.44 1725.16C1474.92 1718.71 1477.73 1710.28 1480.37 1705.32C1483.02 1700.36 1485.66 1696.55 1488.31 1695.4C1490.96 1694.24 1493.77 1696.22 1496.25 1698.37C1498.73 1700.52 1500.71 1703.99 1503.19 1708.29C1505.67 1712.59 1508.65 1718.88 1511.13 1724.17C1513.61 1729.46 1515.59 1735.24 1518.07 1740.04C1520.55 1744.83 1523.36 1748.47 1526.01 1752.94C1528.65 1757.4 1531.3 1762.53 1533.94 1766.83C1536.59 1771.12 1539.24 1775.26 1541.88 1778.73C1544.53 1782.2 1547.34 1785.51 1549.82 1787.66C1552.3 1789.81 1554.35 1790.47 1556.76 1791.63C1559.18 1792.78 1563.04 1794.11 1564.3 1794.6" fill="none" stroke="#65b40c" stroke-width="3" stroke-linejoin="round" stroke-linecap="round"/>
<path d="M1051.55 1955.95 H1273.13" stroke="#a3a3a3" stroke-width="1.3" fill="none"/>
<text x="1038.25" y="1963.85" font-size="22" fill="#000" text-anchor="end" >1</text>
<path d="M1051.55 1989.88 H1273.13" stroke="#a3a3a3" stroke-width="1.3" fill="none"/>
<text x="1038.25" y="1997.78" font-size="22" fill="#000" text-anchor="end" >0.8</text>
<path d="M1051.55 2023.61 H1273.13" stroke="#a3a3a3" stroke-width="1.3" fill="none"/>
<text x="1038.25" y="2031.51" font-size="22" fill="#000" text-anchor="end" >0.6</text>
<path d="M1051.55 2057.74 H1273.13" stroke="#a3a3a3" stroke-width="1.3" fill="none"/>
<text x="1038.25" y="2065.64" font-size="22" fill="#000" text-anchor="end" >0.4</text>
<path d="M1051.55 2092.46 H1273.13" stroke="#a3a3a3" stroke-width="1.3" fill="none"/>
<text x="1038.25" y="2100.36" font-size="22" fill="#000" text-anchor="end" >0.2</text>
<path d="M1051.55 2126.59 H1273.13" stroke="#a3a3a3" stroke-width="1.3" fill="none"/>
<text x="1038.25" y="2134.49" font-size="22" fill="#000" text-anchor="end" >0</text>
<path d="M1059.05 1955.95 V2131.59" stroke="#a3a3a3" stroke-width="1.3" fill="none"/>
<path d="M1059.05 2126.59v5M1066.69 2126.59v5M1074.34 2126.59v5M1081.99 2126.59v5M1089.63 2126.59v5M1097.28 2126.59v5M1104.92 2126.59v5M1112.57 2126.59v5M1120.22 2126.59v5M1127.86 2126.59v5M1135.51 2126.59v5M1143.15 2126.59v5M1150.8 2126.59v5M1158.45 2126.59v5M1166.09 2126.59v5M1173.74 2126.59v5M1181.38 2126.59v5M1189.03 2126.59v5M1196.68 2126.59v5M1204.32 2126.59v5M1211.97 2126.59v5M1219.61 2126.59v5M1227.26 2126.59v5M1234.91 2126.59v5M1242.55 2126.59v5M1250.2 2126.59v5M1257.84 2126.59v5M1265.49 2126.59v5M1273.13 2126.59v5" stroke="#a3a3a3" stroke-width="1.1" fill="none"/>
<text x="1070.47" y="2141.89" font-size="18.3" fill="#000" text-anchor="end" textLength="38" lengthAdjust="spacingAndGlyphs" transform="rotate(-90 1070.47 2141.89)" >0.000</text>
<text x="1093.41" y="2141.89" font-size="18.3" fill="#000" text-anchor="end" textLength="38" lengthAdjust="spacingAndGlyphs" transform="rotate(-90 1093.41 2141.89)" >0.097</text>
<text x="1116.35" y="2141.89" font-size="18.3" fill="#000" text-anchor="end" textLength="38" lengthAdjust="spacingAndGlyphs" transform="rotate(-90 1116.35 2141.89)" >0.193</text>
<text x="1139.28" y="2141.89" font-size="18.3" fill="#000" text-anchor="end" textLength="38" lengthAdjust="spacingAndGlyphs" transform="rotate(-90 1139.28 2141.89)" >0.290</text>
<text x="1162.22" y="2141.89" font-size="18.3" fill="#000" text-anchor="end" textLength="38" lengthAdjust="spacingAndGlyphs" transform="rotate(-90 1162.22 2141.89)" >0.387</text>
<text x="1185.16" y="2141.89" font-size="18.3" fill="#000" text-anchor="end" textLength="38" lengthAdjust="spacingAndGlyphs" transform="rotate(-90 1185.16 2141.89)" >0.484</text>
<text x="1208.1" y="2141.89" font-size="18.3" fill="#000" text-anchor="end" textLength="38" lengthAdjust="spacingAndGlyphs" transform="rotate(-90 1208.1 2141.89)" >0.580</text>
<text x="1231.04" y="2141.89" font-size="18.3" fill="#000" text-anchor="end" textLength="38" lengthAdjust="spacingAndGlyphs" transform="rotate(-90 1231.04 2141.89)" >0.677</text>
<text x="1253.97" y="2141.89" font-size="18.3" fill="#000" text-anchor="end" textLength="38" lengthAdjust="spacingAndGlyphs" transform="rotate(-90 1253.97 2141.89)" >0.774</text>
<text x="1276.91" y="2141.89" font-size="18.3" fill="#000" text-anchor="end" textLength="38" lengthAdjust="spacingAndGlyphs" transform="rotate(-90 1276.91 2141.89)" >0.871</text>
<path d="M1063.41 2089.48C1064.57 2089.75 1067.88 2090.58 1070.36 2091.07C1072.84 2091.57 1075.65 2092.46 1078.29 2092.46C1080.94 2092.46 1083.75 2092.06 1086.23 2091.07C1088.71 2090.08 1090.69 2088 1093.17 2086.51C1095.65 2085.02 1098.47 2083.3 1101.11 2082.14C1103.76 2080.99 1106.4 2080.49 1109.05 2079.56C1111.69 2078.64 1114.5 2079.07 1116.98 2076.59C1119.46 2074.11 1121.45 2070.63 1123.93 2064.68C1126.41 2058.73 1129.32 2051.12 1131.87 2040.87C1134.41 2030.62 1136.56 2015.24 1139.21 2003.17C1141.85 1991.1 1145.09 1976.29 1147.74 1968.45C1150.38 1960.62 1152.6 1956.98 1155.08 1956.15C1157.56 1955.65 1160.11 1956.98 1162.62 1963.49C1165.13 1970.01 1167.68 1983.99 1170.16 1995.24C1172.64 2006.48 1174.95 2018.88 1177.5 2030.95C1180.05 2043.02 1182.79 2058.56 1185.44 2067.66C1188.08 2076.75 1190.83 2081.55 1193.37 2085.52C1195.92 2089.48 1198.23 2090.31 1200.71 2091.47C1203.19 2092.63 1205.67 2092.46 1208.25 2092.46C1210.83 2092.46 1213.61 2091.63 1216.19 2091.47C1218.77 2091.3 1219.93 2091.47 1223.73 2091.47C1227.53 2091.47 1235.14 2091.8 1239.01 2091.47C1242.88 2091.14 1244.4 2090.05 1246.94 2089.48C1249.49 2088.92 1250.55 2088.33 1254.29 2088.1C1258.02 2087.86 1266.85 2088.1 1269.37 2088.1" fill="none" stroke="#fb3fe8" stroke-width="3" stroke-linejoin="round" stroke-linecap="round"/>
<path d="M1063.41 2081.15C1064.57 2079.89 1067.88 2076.19 1070.36 2073.61C1072.84 2071.03 1075.65 2068.49 1078.29 2065.67C1080.94 2062.86 1083.75 2060.22 1086.23 2056.75C1088.71 2053.27 1090.69 2048.97 1093.17 2044.84C1095.65 2040.71 1098.47 2035.48 1101.11 2031.94C1103.76 2028.41 1106.4 2024.44 1109.05 2023.61C1111.69 2022.78 1114.5 2025.26 1116.98 2026.98C1119.46 2028.7 1121.45 2031.45 1123.93 2033.93C1126.41 2036.41 1129.32 2039.88 1131.87 2041.87C1134.41 2043.85 1136.56 2045.73 1139.21 2045.83C1141.85 2045.93 1145.16 2045.11 1147.74 2042.46C1150.32 2039.81 1152.2 2034.69 1154.68 2029.96C1157.16 2025.23 1160.04 2019.38 1162.62 2014.09C1165.2 2008.8 1167.68 2003.17 1170.16 1998.21C1172.64 1993.25 1174.95 1988.46 1177.5 1984.33C1180.05 1980.19 1182.79 1976.55 1185.44 1973.41C1188.08 1970.27 1190.83 1967.79 1193.37 1965.48C1195.92 1963.16 1198.23 1961.01 1200.71 1959.52C1203.19 1958.04 1205.67 1957.04 1208.25 1956.55C1210.83 1956.05 1213.61 1955.72 1216.19 1956.55C1218.77 1957.37 1221.15 1958.53 1223.73 1961.51C1226.31 1964.48 1229.12 1968.12 1231.67 1974.4C1234.21 1980.69 1236.46 1990.44 1239.01 1999.21C1241.55 2007.97 1244.4 2018.72 1246.94 2026.98C1249.49 2035.25 1251.81 2042.86 1254.29 2048.81C1256.77 2054.76 1259.31 2059.23 1261.83 2062.7C1264.34 2066.17 1268.11 2068.49 1269.37 2069.64" fill="none" stroke="#65b40c" stroke-width="3" stroke-linejoin="round" stroke-linecap="round"/>
<path d="M1346.48 1956.15 H1567.67" stroke="#a3a3a3" stroke-width="1.3" fill="none"/>
<text x="1333.18" y="1964.05" font-size="22" fill="#000" text-anchor="end" >1</text>
<path d="M1346.48 1990.08 H1567.67" stroke="#a3a3a3" stroke-width="1.3" fill="none"/>
<text x="1333.18" y="1997.98" font-size="22" fill="#000" text-anchor="end" >0.8</text>
<path d="M1346.48 2023.81 H1567.67" stroke="#a3a3a3" stroke-width="1.3" fill="none"/>
<text x="1333.18" y="2031.71" font-size="22" fill="#000" text-anchor="end" >0.6</text>
<path d="M1346.48 2057.94 H1567.67" stroke="#a3a3a3" stroke-width="1.3" fill="none"/>
<text x="1333.18" y="2065.84" font-size="22" fill="#000" text-anchor="end" >0.4</text>
<path d="M1346.48 2092.66 H1567.67" stroke="#a3a3a3" stroke-width="1.3" fill="none"/>
<text x="1333.18" y="2100.56" font-size="22" fill="#000" text-anchor="end" >0.2</text>
<path d="M1346.48 2126.59 H1567.67" stroke="#a3a3a3" stroke-width="1.3" fill="none"/>
<text x="1333.18" y="2134.49" font-size="22" fill="#000" text-anchor="end" >0</text>
<path d="M1353.98 1956.15 V2131.59" stroke="#a3a3a3" stroke-width="1.3" fill="none"/>
<path d="M1353.98 2126.59v5M1361.62 2126.59v5M1369.25 2126.59v5M1376.88 2126.59v5M1384.51 2126.59v5M1392.14 2126.59v5M1399.77 2126.59v5M1407.41 2126.59v5M1415.04 2126.59v5M1422.67 2126.59v5M1430.3 2126.59v5M1437.93 2126.59v5M1445.57 2126.59v5M1453.2 2126.59v5M1460.83 2126.59v5M1468.46 2126.59v5M1476.09 2126.59v5M1483.72 2126.59v5M1491.36 2126.59v5M1498.99 2126.59v5M1506.62 2126.59v5M1514.25 2126.59v5M1521.88 2126.59v5M1529.52 2126.59v5M1537.15 2126.59v5M1544.78 2126.59v5M1552.41 2126.59v5M1560.04 2126.59v5M1567.67 2126.59v5" stroke="#a3a3a3" stroke-width="1.1" fill="none"/>
<text x="1365.4" y="2141.89" font-size="18.3" fill="#000" text-anchor="end" textLength="38" lengthAdjust="spacingAndGlyphs" transform="rotate(-90 1365.4 2141.89)" >0.000</text>
<text x="1388.3" y="2141.89" font-size="18.3" fill="#000" text-anchor="end" textLength="38" lengthAdjust="spacingAndGlyphs" transform="rotate(-90 1388.3 2141.89)" >0.097</text>
<text x="1411.19" y="2141.89" font-size="18.3" fill="#000" text-anchor="end" textLength="38" lengthAdjust="spacingAndGlyphs" transform="rotate(-90 1411.19 2141.89)" >0.193</text>
<text x="1434.09" y="2141.89" font-size="18.3" fill="#000" text-anchor="end" textLength="38" lengthAdjust="spacingAndGlyphs" transform="rotate(-90 1434.09 2141.89)" >0.290</text>
<text x="1456.98" y="2141.89" font-size="18.3" fill="#000" text-anchor="end" textLength="38" lengthAdjust="spacingAndGlyphs" transform="rotate(-90 1456.98 2141.89)" >0.387</text>
<text x="1479.88" y="2141.89" font-size="18.3" fill="#000" text-anchor="end" textLength="38" lengthAdjust="spacingAndGlyphs" transform="rotate(-90 1479.88 2141.89)" >0.484</text>
<text x="1502.77" y="2141.89" font-size="18.3" fill="#000" text-anchor="end" textLength="38" lengthAdjust="spacingAndGlyphs" transform="rotate(-90 1502.77 2141.89)" >0.580</text>
<text x="1525.67" y="2141.89" font-size="18.3" fill="#000" text-anchor="end" textLength="38" lengthAdjust="spacingAndGlyphs" transform="rotate(-90 1525.67 2141.89)" >0.677</text>
<text x="1548.56" y="2141.89" font-size="18.3" fill="#000" text-anchor="end" textLength="38" lengthAdjust="spacingAndGlyphs" transform="rotate(-90 1548.56 2141.89)" >0.774</text>
<text x="1571.46" y="2141.89" font-size="18.3" fill="#000" text-anchor="end" textLength="38" lengthAdjust="spacingAndGlyphs" transform="rotate(-90 1571.46 2141.89)" >0.871</text>
<path d="M1357.75 2095.44C1359.01 2095.27 1362.71 2094.68 1365.29 2094.44C1367.87 2094.21 1370.68 2094.31 1373.23 2094.05C1375.78 2093.78 1376.77 2093.06 1380.57 2092.86C1384.37 2092.66 1390.99 2092.86 1396.05 2092.86C1401.11 2092.86 1407.13 2092.86 1410.93 2092.86C1414.73 2092.86 1416.32 2093.09 1418.87 2092.86C1421.41 2092.63 1423.73 2091.96 1426.21 2091.47C1428.69 2090.97 1431.17 2090.71 1433.75 2089.88C1436.33 2089.05 1439.1 2088.23 1441.68 2086.51C1444.26 2084.79 1446.64 2084.19 1449.22 2079.56C1451.8 2074.93 1454.61 2067.49 1457.16 2058.73C1459.71 2049.97 1462.02 2037.9 1464.5 2026.98C1466.98 2016.07 1469.56 2003.84 1472.04 1993.25C1474.52 1982.67 1476.83 1969.61 1479.38 1963.49C1481.93 1957.37 1484.74 1955.85 1487.32 1956.55C1489.9 1957.87 1492.31 1963.33 1494.86 1971.43C1497.4 1979.53 1500.12 1993.25 1502.6 2005.16C1505.08 2017.06 1507.26 2031.94 1509.74 2042.86C1512.22 2053.77 1514.86 2063.53 1517.48 2070.63C1520.09 2077.74 1522.83 2082.21 1525.41 2085.52C1527.99 2088.82 1530.37 2089.38 1532.95 2090.48C1535.53 2091.57 1538.31 2091.67 1540.89 2092.06C1543.47 2092.46 1544.59 2092.72 1548.43 2092.86C1552.26 2092.99 1561.33 2092.86 1563.9 2092.86" fill="none" stroke="#fb3fe8" stroke-width="3" stroke-linejoin="round" stroke-linecap="round"/>
<path d="M1357.75 2090.48C1359.01 2088.99 1362.71 2085.19 1365.29 2081.55C1367.87 2077.91 1370.68 2073.45 1373.23 2068.65C1375.78 2063.86 1378.09 2058.4 1380.57 2052.78C1383.05 2047.16 1385.6 2041.53 1388.11 2034.92C1390.62 2028.31 1393.1 2020.04 1395.65 2013.1C1398.2 2006.15 1400.84 2000.03 1403.39 1993.25C1405.94 1986.47 1408.35 1978.04 1410.93 1972.42C1413.51 1966.8 1416.32 1962.17 1418.87 1959.52C1421.41 1956.88 1423.73 1956.61 1426.21 1956.55C1428.69 1956.48 1431.17 1957.31 1433.75 1959.13C1436.33 1960.95 1439.1 1963.76 1441.68 1967.46C1444.26 1971.16 1446.64 1976.06 1449.22 1981.35C1451.8 1986.64 1454.61 1992.92 1457.16 1999.21C1459.71 2005.49 1462.02 2012.76 1464.5 2019.05C1466.98 2025.33 1469.56 2032.01 1472.04 2036.9C1474.52 2041.8 1476.83 2046 1479.38 2048.41C1481.93 2050.83 1484.74 2052.15 1487.32 2051.39C1489.9 2050.63 1492.31 2046.83 1494.86 2043.85C1497.4 2040.87 1500.12 2035.85 1502.6 2033.53C1505.08 2031.22 1507.26 2029.79 1509.74 2029.96C1512.22 2030.13 1514.86 2031.88 1517.48 2034.52C1520.09 2037.17 1522.83 2041.47 1525.41 2045.83C1527.99 2050.2 1530.37 2056.32 1532.95 2060.71C1535.53 2065.11 1538.31 2069.08 1540.89 2072.22C1543.47 2075.36 1545.85 2077.78 1548.43 2079.56C1551.01 2081.35 1553.79 2081.61 1556.37 2082.94C1558.94 2084.26 1562.65 2086.74 1563.9 2087.5" fill="none" stroke="#65b40c" stroke-width="3" stroke-linejoin="round" stroke-linecap="round"/>
<path d="M1052.94 2221.59 H1274.72" stroke="#a3a3a3" stroke-width="1.3" fill="none"/>
<text x="1039.64" y="2229.49" font-size="22" fill="#000" text-anchor="end" >1</text>
<path d="M1052.94 2255.32 H1274.72" stroke="#a3a3a3" stroke-width="1.3" fill="none"/>
<text x="1039.64" y="2263.22" font-size="22" fill="#000" text-anchor="end" >0.8</text>
<path d="M1052.94 2289.05 H1274.72" stroke="#a3a3a3" stroke-width="1.3" fill="none"/>
<text x="1039.64" y="2296.95" font-size="22" fill="#000" text-anchor="end" >0.6</text>
<path d="M1052.94 2322.78 H1274.72" stroke="#a3a3a3" stroke-width="1.3" fill="none"/>
<text x="1039.64" y="2330.68" font-size="22" fill="#000" text-anchor="end" >0.4</text>
<path d="M1052.94 2357.9 H1274.72" stroke="#a3a3a3" stroke-width="1.3" fill="none"/>
<text x="1039.64" y="2365.8" font-size="22" fill="#000" text-anchor="end" >0.2</text>
<path d="M1052.94 2392.22 H1274.72" stroke="#a3a3a3" stroke-width="1.3" fill="none"/>
<text x="1039.64" y="2400.12" font-size="22" fill="#000" text-anchor="end" >0</text>
<path d="M1060.44 2221.59 V2397.22" stroke="#a3a3a3" stroke-width="1.3" fill="none"/>
<path d="M1060.44 2392.22v5M1068.09 2392.22v5M1075.74 2392.22v5M1083.4 2392.22v5M1091.05 2392.22v5M1098.7 2392.22v5M1106.35 2392.22v5M1114.01 2392.22v5M1121.66 2392.22v5M1129.31 2392.22v5M1136.97 2392.22v5M1144.62 2392.22v5M1152.27 2392.22v5M1159.93 2392.22v5M1167.58 2392.22v5M1175.23 2392.22v5M1182.89 2392.22v5M1190.54 2392.22v5M1198.19 2392.22v5M1205.84 2392.22v5M1213.5 2392.22v5M1221.15 2392.22v5M1228.8 2392.22v5M1236.46 2392.22v5M1244.11 2392.22v5M1251.76 2392.22v5M1259.42 2392.22v5M1267.07 2392.22v5M1274.72 2392.22v5" stroke="#a3a3a3" stroke-width="1.1" fill="none"/>
<text x="1071.86" y="2407.52" font-size="18.3" fill="#000" text-anchor="end" textLength="38" lengthAdjust="spacingAndGlyphs" transform="rotate(-90 1071.86 2407.52)" >0.000</text>
<text x="1094.82" y="2407.52" font-size="18.3" fill="#000" text-anchor="end" textLength="38" lengthAdjust="spacingAndGlyphs" transform="rotate(-90 1094.82 2407.52)" >0.097</text>
<text x="1117.78" y="2407.52" font-size="18.3" fill="#000" text-anchor="end" textLength="38" lengthAdjust="spacingAndGlyphs" transform="rotate(-90 1117.78 2407.52)" >0.193</text>
<text x="1140.74" y="2407.52" font-size="18.3" fill="#000" text-anchor="end" textLength="38" lengthAdjust="spacingAndGlyphs" transform="rotate(-90 1140.74 2407.52)" >0.290</text>
<text x="1163.7" y="2407.52" font-size="18.3" fill="#000" text-anchor="end" textLength="38" lengthAdjust="spacingAndGlyphs" transform="rotate(-90 1163.7 2407.52)" >0.387</text>
<text x="1186.66" y="2407.52" font-size="18.3" fill="#000" text-anchor="end" textLength="38" lengthAdjust="spacingAndGlyphs" transform="rotate(-90 1186.66 2407.52)" >0.484</text>
<text x="1209.62" y="2407.52" font-size="18.3" fill="#000" text-anchor="end" textLength="38" lengthAdjust="spacingAndGlyphs" transform="rotate(-90 1209.62 2407.52)" >0.580</text>
<text x="1232.58" y="2407.52" font-size="18.3" fill="#000" text-anchor="end" textLength="38" lengthAdjust="spacingAndGlyphs" transform="rotate(-90 1232.58 2407.52)" >0.677</text>
<text x="1255.54" y="2407.52" font-size="18.3" fill="#000" text-anchor="end" textLength="38" lengthAdjust="spacingAndGlyphs" transform="rotate(-90 1255.54 2407.52)" >0.774</text>
<text x="1278.5" y="2407.52" font-size="18.3" fill="#000" text-anchor="end" textLength="38" lengthAdjust="spacingAndGlyphs" transform="rotate(-90 1278.5 2407.52)" >0.871</text>
<path d="M1064.4 2349.56C1065.56 2349.56 1068.87 2349.56 1071.35 2349.56C1073.83 2349.56 1076.64 2349.23 1079.29 2349.56C1081.93 2349.89 1084.74 2350.99 1087.22 2351.55C1089.7 2352.11 1091.69 2352.51 1094.17 2352.94C1096.65 2353.37 1099.46 2354.19 1102.1 2354.13C1104.75 2354.06 1107.56 2353.3 1110.04 2352.54C1112.52 2351.78 1114.5 2350.56 1116.98 2349.56C1119.46 2348.57 1122.28 2348.24 1124.92 2346.59C1127.57 2344.93 1130.28 2342.95 1132.86 2339.64C1135.44 2336.34 1137.82 2333.19 1140.4 2326.75C1142.98 2320.3 1145.79 2310.54 1148.33 2300.95C1150.88 2291.36 1153.13 2280.12 1155.67 2269.21C1158.22 2258.29 1161.06 2243.35 1163.61 2235.48C1166.16 2227.61 1168.47 2221.98 1170.95 2221.98C1173.43 2221.98 1175.91 2227.61 1178.49 2235.48C1181.07 2243.35 1183.78 2257.63 1186.43 2269.21C1189.07 2280.78 1191.79 2294.67 1194.37 2304.92C1196.94 2315.17 1199.42 2324.43 1201.9 2330.71C1204.38 2337 1206.7 2339.87 1209.25 2342.62C1211.79 2345.36 1214.6 2345.93 1217.18 2347.18C1219.76 2348.44 1222.24 2349.2 1224.72 2350.16C1227.2 2351.12 1229.52 2352.37 1232.06 2352.94C1234.61 2353.5 1237.35 2353.53 1240 2353.53C1242.65 2353.53 1245.39 2353.27 1247.94 2352.94C1250.48 2352.61 1252.8 2352.04 1255.28 2351.55C1257.76 2351.05 1260.21 2350.56 1262.82 2349.96C1265.43 2349.37 1269.6 2348.31 1270.95 2347.98" fill="none" stroke="#fb3fe8" stroke-width="3" stroke-linejoin="round" stroke-linecap="round"/>
<path d="M1064.4 2333.29C1065.56 2333.29 1068.87 2333.56 1071.35 2333.29C1073.83 2333.03 1076.64 2332.7 1079.29 2331.71C1081.93 2330.71 1084.74 2329.49 1087.22 2327.34C1089.7 2325.19 1091.69 2322.38 1094.17 2318.81C1096.65 2315.24 1099.46 2310.71 1102.1 2305.91C1104.75 2301.12 1107.56 2295.83 1110.04 2290.04C1112.52 2284.25 1114.5 2277.64 1116.98 2271.19C1119.46 2264.74 1122.28 2257.63 1124.92 2251.35C1127.57 2245.07 1130.28 2238.12 1132.86 2233.49C1135.44 2228.86 1137.82 2225.46 1140.4 2223.57C1142.98 2221.69 1145.79 2221.52 1148.33 2222.18C1150.88 2222.84 1153.13 2224.17 1155.67 2227.54C1158.22 2230.91 1160.97 2237.29 1163.61 2242.42C1166.26 2247.55 1169.07 2253.5 1171.55 2258.29C1174.03 2263.09 1176.01 2267.88 1178.49 2271.19C1180.97 2274.5 1183.78 2276.65 1186.43 2278.13C1189.07 2279.62 1191.79 2279.79 1194.37 2280.12C1196.94 2280.45 1199.42 2280.35 1201.9 2280.12C1204.38 2279.89 1206.7 2278.99 1209.25 2278.73C1211.79 2278.47 1214.6 2278.8 1217.18 2278.53C1219.76 2278.27 1222.24 2277.37 1224.72 2277.14C1227.2 2276.91 1229.52 2276.48 1232.06 2277.14C1234.61 2277.8 1237.35 2279.13 1240 2281.11C1242.65 2283.1 1245.39 2285.91 1247.94 2289.05C1250.48 2292.19 1252.8 2296.32 1255.28 2299.96C1257.76 2303.6 1260.21 2307.07 1262.82 2310.87C1265.43 2314.68 1269.6 2320.79 1270.95 2322.78" fill="none" stroke="#65b40c" stroke-width="3" stroke-linejoin="round" stroke-linecap="round"/>
<path d="M1344.5 2221.59 H1565.29" stroke="#a3a3a3" stroke-width="1.3" fill="none"/>
<text x="1331.2" y="2229.49" font-size="22" fill="#000" text-anchor="end" >1</text>
<path d="M1344.5 2255.32 H1565.29" stroke="#a3a3a3" stroke-width="1.3" fill="none"/>
<text x="1331.2" y="2263.22" font-size="22" fill="#000" text-anchor="end" >0.8</text>
<path d="M1344.5 2289.05 H1565.29" stroke="#a3a3a3" stroke-width="1.3" fill="none"/>
<text x="1331.2" y="2296.95" font-size="22" fill="#000" text-anchor="end" >0.6</text>
<path d="M1344.5 2322.78 H1565.29" stroke="#a3a3a3" stroke-width="1.3" fill="none"/>
<text x="1331.2" y="2330.68" font-size="22" fill="#000" text-anchor="end" >0.4</text>
<path d="M1344.5 2357.9 H1565.29" stroke="#a3a3a3" stroke-width="1.3" fill="none"/>
<text x="1331.2" y="2365.8" font-size="22" fill="#000" text-anchor="end" >0.2</text>
<path d="M1344.5 2392.22 H1565.29" stroke="#a3a3a3" stroke-width="1.3" fill="none"/>
<text x="1331.2" y="2400.12" font-size="22" fill="#000" text-anchor="end" >0</text>
<path d="M1352 2221.59 V2397.22" stroke="#a3a3a3" stroke-width="1.3" fill="none"/>
<path d="M1352 2392.22v5M1359.62 2392.22v5M1367.24 2392.22v5M1374.85 2392.22v5M1382.47 2392.22v5M1390.09 2392.22v5M1397.71 2392.22v5M1405.32 2392.22v5M1412.94 2392.22v5M1420.56 2392.22v5M1428.18 2392.22v5M1435.79 2392.22v5M1443.41 2392.22v5M1451.03 2392.22v5M1458.65 2392.22v5M1466.26 2392.22v5M1473.88 2392.22v5M1481.5 2392.22v5M1489.12 2392.22v5M1496.73 2392.22v5M1504.35 2392.22v5M1511.97 2392.22v5M1519.59 2392.22v5M1527.21 2392.22v5M1534.82 2392.22v5M1542.44 2392.22v5M1550.06 2392.22v5M1557.68 2392.22v5M1565.29 2392.22v5" stroke="#a3a3a3" stroke-width="1.1" fill="none"/>
<text x="1363.41" y="2407.52" font-size="18.3" fill="#000" text-anchor="end" textLength="38" lengthAdjust="spacingAndGlyphs" transform="rotate(-90 1363.41 2407.52)" >0.000</text>
<text x="1386.26" y="2407.52" font-size="18.3" fill="#000" text-anchor="end" textLength="38" lengthAdjust="spacingAndGlyphs" transform="rotate(-90 1386.26 2407.52)" >0.097</text>
<text x="1409.11" y="2407.52" font-size="18.3" fill="#000" text-anchor="end" textLength="38" lengthAdjust="spacingAndGlyphs" transform="rotate(-90 1409.11 2407.52)" >0.193</text>
<text x="1431.97" y="2407.52" font-size="18.3" fill="#000" text-anchor="end" textLength="38" lengthAdjust="spacingAndGlyphs" transform="rotate(-90 1431.97 2407.52)" >0.290</text>
<text x="1454.82" y="2407.52" font-size="18.3" fill="#000" text-anchor="end" textLength="38" lengthAdjust="spacingAndGlyphs" transform="rotate(-90 1454.82 2407.52)" >0.387</text>
<text x="1477.67" y="2407.52" font-size="18.3" fill="#000" text-anchor="end" textLength="38" lengthAdjust="spacingAndGlyphs" transform="rotate(-90 1477.67 2407.52)" >0.484</text>
<text x="1500.53" y="2407.52" font-size="18.3" fill="#000" text-anchor="end" textLength="38" lengthAdjust="spacingAndGlyphs" transform="rotate(-90 1500.53 2407.52)" >0.580</text>
<text x="1523.38" y="2407.52" font-size="18.3" fill="#000" text-anchor="end" textLength="38" lengthAdjust="spacingAndGlyphs" transform="rotate(-90 1523.38 2407.52)" >0.677</text>
<text x="1546.23" y="2407.52" font-size="18.3" fill="#000" text-anchor="end" textLength="38" lengthAdjust="spacingAndGlyphs" transform="rotate(-90 1546.23 2407.52)" >0.774</text>
<text x="1569.08" y="2407.52" font-size="18.3" fill="#000" text-anchor="end" textLength="38" lengthAdjust="spacingAndGlyphs" transform="rotate(-90 1569.08 2407.52)" >0.871</text>
<path d="M1355.77 2357.9C1357.03 2358.16 1360.73 2358.72 1363.31 2359.48C1365.89 2360.24 1368.7 2361.7 1371.25 2362.46C1373.79 2363.22 1376.11 2363.49 1378.59 2364.05C1381.07 2364.61 1383.55 2365.83 1386.13 2365.83C1388.71 2365.83 1391.48 2365.11 1394.06 2364.05C1396.64 2362.99 1399.12 2361.9 1401.6 2359.48C1404.08 2357.07 1406.4 2354.36 1408.94 2349.56C1411.49 2344.77 1414.3 2338.15 1416.88 2330.71C1419.46 2323.27 1421.94 2314.51 1424.42 2304.92C1426.9 2295.33 1429.22 2282.43 1431.76 2273.17C1434.31 2263.92 1437.12 2256.64 1439.7 2249.37C1442.28 2242.09 1444.69 2234.09 1447.24 2229.52C1449.78 2224.96 1452.43 2221.32 1454.98 2221.98C1457.52 2222.65 1460 2227.94 1462.52 2233.49C1465.03 2239.05 1467.51 2248.04 1470.06 2255.32C1472.6 2262.59 1475.25 2270.2 1477.79 2277.14C1480.34 2284.09 1482.82 2290.54 1485.33 2296.98C1487.85 2303.43 1490.33 2309.88 1492.87 2315.83C1495.42 2321.79 1498.06 2327.57 1500.61 2332.7C1503.16 2337.82 1505.64 2342.45 1508.15 2346.59C1510.66 2350.72 1513.11 2354.69 1515.69 2357.5C1518.27 2360.31 1521.08 2362.06 1523.63 2363.45C1526.17 2364.84 1528.49 2365.44 1530.97 2365.83C1533.45 2366.23 1535.96 2366.4 1538.51 2365.83C1541.05 2365.27 1543.7 2363.29 1546.25 2362.46C1548.79 2361.63 1551.24 2361.37 1553.79 2360.87C1556.33 2360.38 1560.23 2359.72 1561.52 2359.48" fill="none" stroke="#fb3fe8" stroke-width="3" stroke-linejoin="round" stroke-linecap="round"/>
<path d="M1355.77 2333.1C1357.03 2332.86 1360.73 2332.67 1363.31 2331.71C1365.89 2330.75 1368.7 2328.9 1371.25 2327.34C1373.79 2325.79 1376.11 2324.46 1378.59 2322.38C1381.07 2320.3 1383.55 2317.75 1386.13 2314.84C1388.71 2311.93 1391.48 2307.73 1394.06 2304.92C1396.64 2302.11 1399.12 2300.62 1401.6 2297.98C1404.08 2295.33 1406.4 2292.02 1408.94 2289.05C1411.49 2286.07 1414.3 2283.1 1416.88 2280.12C1419.46 2277.14 1421.94 2273.84 1424.42 2271.19C1426.9 2268.54 1429.22 2265.73 1431.76 2264.25C1434.31 2262.76 1437.12 2262.1 1439.7 2262.26C1442.28 2262.43 1444.69 2263.75 1447.24 2265.24C1449.78 2266.73 1452.43 2269.47 1454.98 2271.19C1457.52 2272.91 1460 2275.06 1462.52 2275.56C1465.03 2276.05 1467.51 2275.39 1470.06 2274.17C1472.6 2272.94 1475.25 2270.2 1477.79 2268.21C1480.34 2266.23 1482.82 2265.07 1485.33 2262.26C1487.85 2259.45 1490.33 2255.65 1492.87 2251.35C1495.42 2247.05 1498.06 2241.26 1500.61 2236.47C1503.16 2231.67 1505.64 2224.99 1508.15 2222.58C1510.66 2221.29 1513.11 2221.29 1515.69 2221.98C1518.27 2223.8 1521.08 2227.94 1523.63 2233.49C1526.17 2239.05 1528.49 2247.38 1530.97 2255.32C1533.45 2263.25 1535.96 2273.51 1538.51 2281.11C1541.05 2288.72 1543.7 2295.33 1546.25 2300.95C1548.79 2306.57 1551.24 2311.1 1553.79 2314.84C1556.33 2318.58 1560.23 2321.95 1561.52 2323.37" fill="none" stroke="#65b40c" stroke-width="3" stroke-linejoin="round" stroke-linecap="round"/>
<text x="388.5" y="1671" font-size="26.5" textLength="211.3" lengthAdjust="spacingAndGlyphs"><tspan fill="#65b40c">53BP1</tspan><tspan fill="#000"> + </tspan><tspan fill="#fb3fe8">XRCC4</tspan></text>
<text x="1075.3" y="1671.5" font-size="26.5" textLength="172.6" lengthAdjust="spacingAndGlyphs"><tspan fill="#65b40c">53BP1</tspan><tspan fill="#000"> + </tspan><tspan fill="#fb3fe8">RPA</tspan></text>
<path d="M315.3 2333.1 V2477.4 H462" fill="none" stroke="#000" stroke-width="4.6" stroke-linejoin="miter"/>
<path d="M315.3 2321.1 l8.2 22.5 l-8.2 -6 l-8.2 6z" fill="#000"/>
<path d="M474 2477.4 l-22.5 -8.2 l6 8.2 l-6 8.2z" fill="#000"/>
<text x="288.4" y="2474" font-size="24.6" fill="#000" textLength="295" lengthAdjust="spacingAndGlyphs" transform="rotate(-90 288.4 2474)" >Fluorescence intensity (AU)</text>
<text x="312" y="2513" font-size="25" fill="#000" textLength="149.6" lengthAdjust="spacingAndGlyphs" >Distance (μm)</text>
<path d="M985 2333.1 V2477.4 H1132" fill="none" stroke="#000" stroke-width="4.6" stroke-linejoin="miter"/>
<path d="M985 2321.1 l8.2 22.5 l-8.2 -6 l-8.2 6z" fill="#000"/>
<path d="M1144 2477.4 l-22.5 -8.2 l6 8.2 l-6 8.2z" fill="#000"/>
<text x="958" y="2474" font-size="24.6" fill="#000" textLength="295" lengthAdjust="spacingAndGlyphs" transform="rotate(-90 958 2474)" >Fluorescence intensity (AU)</text>
<text x="981.5" y="2513" font-size="25" fill="#000" textLength="149.6" lengthAdjust="spacingAndGlyphs" >Distance (μm)</text>
<text x="54" y="1675.8" font-size="27" fill="#000" textLength="79.8" lengthAdjust="spacingAndGlyphs" >siRNA</text>
<path d="M9.5 1686.8 H181.6" stroke="#000" stroke-width="3.2"/>
<text x="66.5" y="1787.3" font-size="27.5" fill="#000" textLength="89" lengthAdjust="spacingAndGlyphs" transform="rotate(-90 66.5 1787.3)" >Control</text>
<text x="140.5" y="1787.3" font-size="27.5" fill="#000" textLength="92" lengthAdjust="spacingAndGlyphs" transform="rotate(-90 140.5 1787.3)" >XRCC4</text>
<text x="193" y="1841.3" font-size="26.8" fill="#000" textLength="68.4" lengthAdjust="spacingAndGlyphs" >KAP1</text>
<text x="192.2" y="1911" font-size="26.8" fill="#000" textLength="94.6" lengthAdjust="spacingAndGlyphs" >XRCC4</text>
</svg></body></html>
